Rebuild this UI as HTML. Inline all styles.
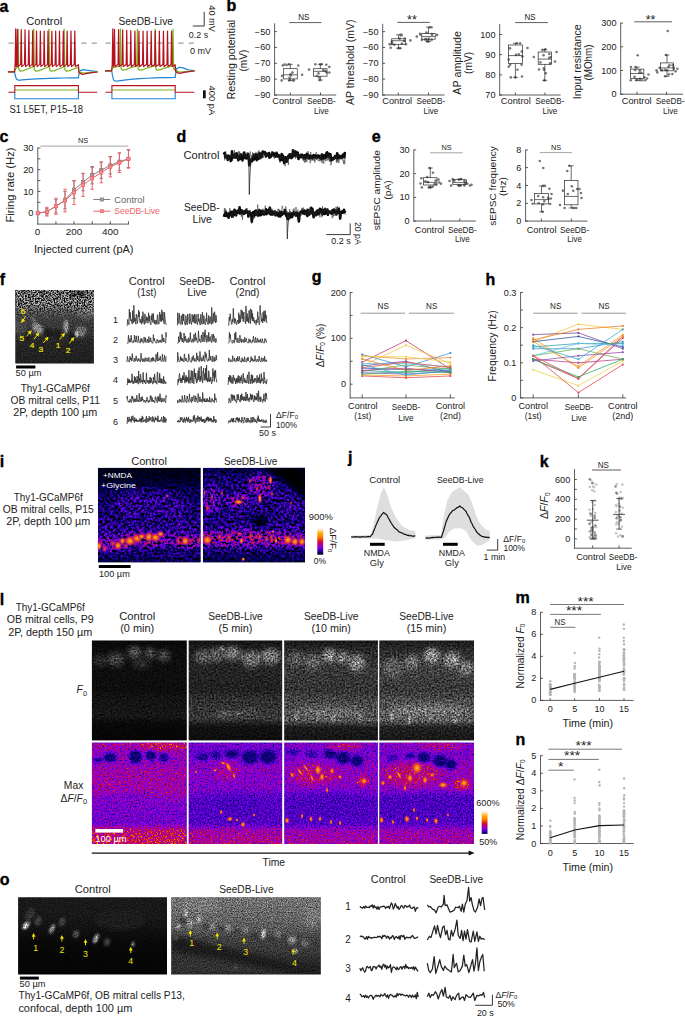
<!DOCTYPE html>
<html><head><meta charset="utf-8"><title>Figure</title>
<style>
html,body{margin:0;padding:0;background:#fff;}
body{width:685px;height:1017px;overflow:hidden;}
svg{display:block;font-family:"Liberation Sans",sans-serif;}
</style></head><body>
<svg width="685" height="1017" viewBox="0 0 685 1017" fill="#222">
<defs>
<filter id="gnF" x="0" y="0" width="1" height="1" color-interpolation-filters="sRGB"><feTurbulence type="fractalNoise" baseFrequency="0.7" numOctaves="2" seed="4" result="n"/><feColorMatrix in="n" type="matrix" values="3 0 0 0 -1  3 0 0 0 -1  3 0 0 0 -1  0 0 0 0 1" result="ng"/><feComposite in="SourceGraphic" in2="ng" operator="arithmetic" k1="2" k2="0" k3="0" k4="0" result="m"/></filter><filter id="gnF2" x="0" y="0" width="1" height="1" color-interpolation-filters="sRGB"><feTurbulence type="fractalNoise" baseFrequency="0.8" numOctaves="2" seed="9" result="n"/><feColorMatrix in="n" type="matrix" values="0.9 0 0 0 0.05  0.9 0 0 0 0.05  0.9 0 0 0 0.05  0 0 0 0 1" result="ng"/><feComposite in="SourceGraphic" in2="ng" operator="arithmetic" k1="2" k2="0" k3="0" k4="0" result="m"/></filter><linearGradient id="mgF" x1="0" y1="0" x2="0" y2="1"><stop offset="0" stop-color="#fff"/><stop offset="0.2" stop-color="#fff"/><stop offset="0.42" stop-color="#000"/></linearGradient><mask id="mF" maskUnits="userSpaceOnUse" x="15" y="289" width="80" height="76"><rect x="15.3" y="290" width="78.6" height="73.6" fill="url(#mgF)"/></mask><filter id="bl1" x="-0.5" y="-0.5" width="2" height="2"><feGaussianBlur stdDeviation="1.2"/></filter><filter id="bl2" x="-0.5" y="-0.5" width="2" height="2"><feGaussianBlur stdDeviation="2.5"/></filter><filter id="bl4" x="-0.5" y="-0.5" width="2" height="2"><feGaussianBlur stdDeviation="4.5"/></filter><clipPath id="clF"><rect x="15.3" y="290" width="78.6" height="73.6"/></clipPath><linearGradient id="grF" x1="0" y1="0" x2="0" y2="1"><stop offset="0" stop-color="#606060"/><stop offset="0.2" stop-color="#626262"/><stop offset="0.3" stop-color="#4c4c4c"/><stop offset="0.42" stop-color="#3c3c3c"/><stop offset="0.6" stop-color="#313131"/><stop offset="0.72" stop-color="#252525"/><stop offset="1" stop-color="#1f1f1f"/></linearGradient><marker id="ah" viewBox="0 0 10 10" refX="7" refY="5" markerWidth="4" markerHeight="4" orient="auto-start-reverse"><path d="M0 0L10 5L0 10z" fill="#f2e300"/></marker>
<filter id="fnI" x="0" y="0" width="1" height="1" color-interpolation-filters="sRGB"><feTurbulence type="fractalNoise" baseFrequency="0.38" numOctaves="3" seed="7" result="n"/><feColorMatrix in="n" type="matrix" values="2.9 0 0 0 -0.98  2.9 0 0 0 -0.98  2.9 0 0 0 -0.98  0 0 0 0 1" result="ng"/><feComposite in="SourceGraphic" in2="ng" operator="arithmetic" k1="2" k2="0" k3="0" k4="0" result="m"/><feComponentTransfer in="m" result="lut"><feFuncR type="table" tableValues="0 0 0 0.1 0.19 0.29 0.38 0.48 0.57 0.64 0.68 0.72 0.76 0.81 0.85 0.9 0.94 0.99 1 1 1 1 1 1 1 1 1 1 1 1 1 1"/><feFuncG type="table" tableValues="0 0 0 0 0 0 0 0 0 0 0 0 0 0.05 0.14 0.22 0.31 0.4 0.46 0.52 0.58 0.63 0.69 0.75 0.8 0.86 0.92 0.97 1 1 1 1"/><feFuncB type="table" tableValues="0 0.24 0.38 0.51 0.65 0.75 0.86 0.89 0.82 0.71 0.59 0.48 0.36 0.25 0.14 0.02 0 0 0 0 0 0 0 0.14 0.38 0.63 0.87 1 1 1 1 1"/></feComponentTransfer></filter><clipPath id="clI1"><rect x="97.9" y="467.8" width="102.8" height="94.6"/></clipPath><clipPath id="clI2"><rect x="202.9" y="467.8" width="102.1" height="94.6"/></clipPath><linearGradient id="grI1" x1="0" y1="0" x2="0" y2="1"><stop offset="0" stop-color="#030303"/><stop offset="0.12" stop-color="#050505"/><stop offset="0.25" stop-color="#0f0f0f"/><stop offset="0.5" stop-color="#161616"/><stop offset="0.66" stop-color="#1c1c1c"/><stop offset="0.73" stop-color="#262626"/><stop offset="0.8" stop-color="#292929"/><stop offset="0.87" stop-color="#171717"/><stop offset="1" stop-color="#0d0d0d"/></linearGradient><linearGradient id="grI2" x1="0" y1="0" x2="0" y2="1"><stop offset="0" stop-color="#0b0b0b"/><stop offset="0.12" stop-color="#141414"/><stop offset="0.3" stop-color="#1a1a1a"/><stop offset="0.55" stop-color="#161616"/><stop offset="0.66" stop-color="#1f1f1f"/><stop offset="0.72" stop-color="#303030"/><stop offset="0.79" stop-color="#333333"/><stop offset="0.87" stop-color="#161616"/><stop offset="1" stop-color="#0b0b0b"/></linearGradient><linearGradient id="cbar" x1="0" y1="1" x2="0" y2="0"><stop offset="0" stop-color="#000000"/><stop offset="0.06" stop-color="#00005d"/><stop offset="0.12" stop-color="#2e00a0"/><stop offset="0.19" stop-color="#5d00d6"/><stop offset="0.25" stop-color="#8c00d6"/><stop offset="0.31" stop-color="#a900a0"/><stop offset="0.38" stop-color="#be0067"/><stop offset="0.44" stop-color="#d4192f"/><stop offset="0.5" stop-color="#ea4402"/><stop offset="0.56" stop-color="#fd6c00"/><stop offset="0.62" stop-color="#ff8a00"/><stop offset="0.69" stop-color="#ffa500"/><stop offset="0.75" stop-color="#ffc132"/><stop offset="0.81" stop-color="#ffddab"/><stop offset="0.88" stop-color="#fff8ff"/><stop offset="0.94" stop-color="#ffffff"/><stop offset="1" stop-color="#ffffff"/></linearGradient><radialGradient id="cellg"><stop offset="0" stop-color="#ffb428"/><stop offset="0.4" stop-color="#f4640f"/><stop offset="0.68" stop-color="#c4206e" stop-opacity="0.85"/><stop offset="1" stop-color="#7a10b4" stop-opacity="0"/></radialGradient><radialGradient id="cellm"><stop offset="0" stop-color="#f0501a"/><stop offset="0.45" stop-color="#c4206e" stop-opacity="0.9"/><stop offset="1" stop-color="#7a10b4" stop-opacity="0"/></radialGradient>
<filter id="gnL" x="0" y="0" width="1" height="1" color-interpolation-filters="sRGB"><feTurbulence type="fractalNoise" baseFrequency="0.55" numOctaves="3" seed="11" result="n"/><feColorMatrix in="n" type="matrix" values="1.3 0 0 0 -0.15  1.3 0 0 0 -0.15  1.3 0 0 0 -0.15  0 0 0 0 1" result="ng"/><feComposite in="SourceGraphic" in2="ng" operator="arithmetic" k1="2" k2="0" k3="0" k4="0" result="m"/></filter><filter id="fnL" x="0" y="0" width="1" height="1" color-interpolation-filters="sRGB"><feTurbulence type="fractalNoise" baseFrequency="0.63" numOctaves="3" seed="13" result="n"/><feColorMatrix in="n" type="matrix" values="1.05 0 0 0 -0.03  1.05 0 0 0 -0.03  1.05 0 0 0 -0.03  0 0 0 0 1" result="ng"/><feComposite in="SourceGraphic" in2="ng" operator="arithmetic" k1="2" k2="0" k3="0" k4="0" result="m"/><feComponentTransfer in="m" result="lut"><feFuncR type="table" tableValues="0 0 0 0.1 0.19 0.29 0.38 0.48 0.57 0.64 0.68 0.72 0.76 0.81 0.85 0.9 0.94 0.99 1 1 1 1 1 1 1 1 1 1 1 1 1 1"/><feFuncG type="table" tableValues="0 0 0 0 0 0 0 0 0 0 0 0 0 0.05 0.14 0.22 0.31 0.4 0.46 0.52 0.58 0.63 0.69 0.75 0.8 0.86 0.92 0.97 1 1 1 1"/><feFuncB type="table" tableValues="0 0.24 0.38 0.51 0.65 0.75 0.86 0.89 0.82 0.71 0.59 0.48 0.36 0.25 0.14 0.02 0 0 0 0 0 0 0 0.14 0.38 0.63 0.87 1 1 1 1 1"/></feComponentTransfer><feGaussianBlur in="lut" stdDeviation="0.45"/></filter><clipPath id="clL0"><rect x="91.8" y="640.4" width="95" height="100"/></clipPath><clipPath id="clM0"><rect x="91.8" y="742.6" width="95" height="101.4"/></clipPath><clipPath id="clL1"><rect x="188.6" y="640.4" width="93.7" height="100"/></clipPath><clipPath id="clM1"><rect x="188.6" y="742.6" width="93.7" height="101.4"/></clipPath><clipPath id="clL2"><rect x="284.2" y="640.4" width="93.7" height="100"/></clipPath><clipPath id="clM2"><rect x="284.2" y="742.6" width="93.7" height="101.4"/></clipPath><clipPath id="clL3"><rect x="379.3" y="640.4" width="94.8" height="100"/></clipPath><clipPath id="clM3"><rect x="379.3" y="742.6" width="94.8" height="101.4"/></clipPath><linearGradient id="grL0" x1="0" y1="0" x2="0" y2="1"><stop offset="0" stop-color="#080808"/><stop offset="0.1" stop-color="#0d0d0d"/><stop offset="0.3" stop-color="#0e0e0e"/><stop offset="0.5" stop-color="#0d0d0d"/><stop offset="0.58" stop-color="#131313"/><stop offset="0.76" stop-color="#161616"/><stop offset="0.83" stop-color="#090909"/><stop offset="1" stop-color="#050505"/></linearGradient><linearGradient id="grL1" x1="0" y1="0" x2="0" y2="1"><stop offset="0" stop-color="#121212"/><stop offset="0.1" stop-color="#1f1f1f"/><stop offset="0.3" stop-color="#242424"/><stop offset="0.5" stop-color="#212121"/><stop offset="0.58" stop-color="#2e2e2e"/><stop offset="0.78" stop-color="#383838"/><stop offset="0.86" stop-color="#121212"/><stop offset="1" stop-color="#0d0d0d"/></linearGradient><linearGradient id="grL2" x1="0" y1="0" x2="0" y2="1"><stop offset="0" stop-color="#171717"/><stop offset="0.1" stop-color="#292929"/><stop offset="0.3" stop-color="#383838"/><stop offset="0.5" stop-color="#333333"/><stop offset="0.6" stop-color="#454545"/><stop offset="0.8" stop-color="#545454"/><stop offset="0.87" stop-color="#1c1c1c"/><stop offset="1" stop-color="#141414"/></linearGradient><linearGradient id="grL3" x1="0" y1="0" x2="0" y2="1"><stop offset="0" stop-color="#1a1a1a"/><stop offset="0.1" stop-color="#2b2b2b"/><stop offset="0.3" stop-color="#404040"/><stop offset="0.5" stop-color="#383838"/><stop offset="0.6" stop-color="#4c4c4c"/><stop offset="0.8" stop-color="#5c5c5c"/><stop offset="0.87" stop-color="#212121"/><stop offset="1" stop-color="#171717"/></linearGradient><linearGradient id="grM0" x1="0" y1="0" x2="0" y2="1"><stop offset="0" stop-color="#525252"/><stop offset="0.08" stop-color="#454545"/><stop offset="0.2" stop-color="#454545"/><stop offset="0.3" stop-color="#4c4c4c"/><stop offset="0.5" stop-color="#4b4b4b"/><stop offset="0.6" stop-color="#3b3b3b"/><stop offset="0.8" stop-color="#373737"/><stop offset="0.86" stop-color="#5c5c5c"/><stop offset="1" stop-color="#696969"/></linearGradient><linearGradient id="grM1" x1="0" y1="0" x2="0" y2="1"><stop offset="0" stop-color="#393939"/><stop offset="0.1" stop-color="#343434"/><stop offset="0.25" stop-color="#414141"/><stop offset="0.45" stop-color="#3c3c3c"/><stop offset="0.55" stop-color="#2d2d2d"/><stop offset="0.8" stop-color="#2d2d2d"/><stop offset="0.87" stop-color="#4c4c4c"/><stop offset="1" stop-color="#575757"/></linearGradient><linearGradient id="grM2" x1="0" y1="0" x2="0" y2="1"><stop offset="0" stop-color="#3e3e3e"/><stop offset="0.1" stop-color="#373737"/><stop offset="0.25" stop-color="#444444"/><stop offset="0.45" stop-color="#3e3e3e"/><stop offset="0.55" stop-color="#2d2d2d"/><stop offset="0.8" stop-color="#2d2d2d"/><stop offset="0.87" stop-color="#474747"/><stop offset="1" stop-color="#4f4f4f"/></linearGradient><linearGradient id="grM3" x1="0" y1="0" x2="0" y2="1"><stop offset="0" stop-color="#414141"/><stop offset="0.1" stop-color="#393939"/><stop offset="0.25" stop-color="#464646"/><stop offset="0.45" stop-color="#414141"/><stop offset="0.55" stop-color="#2a2a2a"/><stop offset="0.8" stop-color="#2d2d2d"/><stop offset="0.87" stop-color="#474747"/><stop offset="1" stop-color="#4f4f4f"/></linearGradient><linearGradient id="cbar2" x1="0" y1="1" x2="0" y2="0"><stop offset="0" stop-color="#000050"/><stop offset="0.08" stop-color="#2c009d"/><stop offset="0.17" stop-color="#6300dc"/><stop offset="0.25" stop-color="#9600c9"/><stop offset="0.33" stop-color="#b20087"/><stop offset="0.42" stop-color="#cc0b46"/><stop offset="0.5" stop-color="#e53904"/><stop offset="0.58" stop-color="#fc6900"/><stop offset="0.67" stop-color="#ff8c00"/><stop offset="0.75" stop-color="#ffab00"/><stop offset="0.83" stop-color="#ffcd63"/><stop offset="0.92" stop-color="#ffede7"/><stop offset="1" stop-color="#ffffff"/></linearGradient><radialGradient id="cello"><stop offset="0" stop-color="#ffc030"/><stop offset="0.4" stop-color="#f66a10"/><stop offset="0.75" stop-color="#d02a60" stop-opacity="0.7"/><stop offset="1" stop-color="#a010a0" stop-opacity="0"/></radialGradient>
<filter id="gnO" x="0" y="0" width="1" height="1" color-interpolation-filters="sRGB"><feTurbulence type="fractalNoise" baseFrequency="0.8" numOctaves="2" seed="21" result="n"/><feColorMatrix in="n" type="matrix" values="1 0 0 0 0  1 0 0 0 0  1 0 0 0 0  0 0 0 0 1" result="ng"/><feComposite in="SourceGraphic" in2="ng" operator="arithmetic" k1="2" k2="0" k3="0" k4="0" result="m"/></filter><clipPath id="clO1"><rect x="18.1" y="897.2" width="148.9" height="77.4"/></clipPath><clipPath id="clO2"><rect x="171.2" y="897.2" width="149.6" height="77.4"/></clipPath><linearGradient id="grO1" x1="0" y1="0" x2="0" y2="1"><stop offset="0" stop-color="#1a1a1a"/><stop offset="0.25" stop-color="#181818"/><stop offset="0.45" stop-color="#0f0f0f"/><stop offset="0.6" stop-color="#080808"/><stop offset="1" stop-color="#040404"/></linearGradient><linearGradient id="grO2" x1="0" y1="0" x2="0" y2="1"><stop offset="0" stop-color="#737373"/><stop offset="0.25" stop-color="#666666"/><stop offset="0.42" stop-color="#575757"/><stop offset="0.52" stop-color="#424242"/><stop offset="0.7" stop-color="#383838"/><stop offset="0.85" stop-color="#262626"/><stop offset="1" stop-color="#1f1f1f"/></linearGradient>
</defs>
<rect width="685" height="1017" fill="#fff"/>
<g id="a"><text stroke="#000" stroke-width="0.35" x="-0.5" y="11.6" font-size="16" font-weight="bold" fill="#000">a</text>
<text x="26.2" y="25" font-size="10" textLength="36" lengthAdjust="spacingAndGlyphs">Control</text>
<text x="118.5" y="25" font-size="10" textLength="54.4" lengthAdjust="spacingAndGlyphs">SeeDB-Live</text>
<line x1="8.4" y1="43.1" x2="97" y2="43.1" stroke="#7a7a7a" stroke-width="0.9" stroke-dasharray="5.3 5.1"/>
<line x1="105.5" y1="43.1" x2="194.5" y2="43.1" stroke="#7a7a7a" stroke-width="0.9" stroke-dasharray="5.3 5.1"/>
<path d="M8.4 71.8 14.6 71.8 15.3 75.8 16.4 79.1 18.8 80.3 21.8 79.9 28.88 79.33 35.95 78.9 43.03 78.57 50.1 78.32 57.18 78.14 64.25 77.99 71.33 77.88 78.4 77.8 78.8 74.8 79.9 70.9 82.9 69.6 86.4 70.2 91.4 70.9 97.2 71.7" fill="none" stroke="#2285d6" stroke-width="1.2" stroke-linejoin="round" stroke-linecap="round"/>
<path d="M8.4 71.8 14.6 71.8 15.6 68.8 17.4 67 18.1 29.2 18.8 69.8 20.3 71.2 23.6 70.6 28.1 68.8 33 67 33.7 29.2 34.4 69.8 35.9 71.2 39.2 70.6 43.7 68.8 48.3 67 49 29.2 49.7 69.8 51.2 71.2 54.5 70.6 59 68.8 63.5 67 64.2 29.2 64.9 69.8 66.4 71.2 69.7 70.6 74.2 68.8 78.4 67.4 79 72.1 83.4 73 97.2 71.8" fill="none" stroke="#7ab51d" stroke-width="1.2" stroke-linejoin="round" stroke-linecap="round"/>
<path d="M8.4 71.8 14.5 71.8 15.15 64.4 15.7 28.9 16.25 66.6 16.85 64.4 17.4 29.25 17.95 66.6 20.68 64.4 21.23 29.6 21.78 66.6 24.5 64.4 25.05 29.95 25.6 66.6 28.33 64.4 28.88 30.3 29.43 66.6 32.16 64.4 32.71 30.65 33.26 66.6 35.98 64.4 36.53 31 37.08 66.6 39.81 64.4 40.36 31 40.91 66.6 43.64 64.4 44.19 31 44.74 66.6 47.46 64.4 48.01 31 48.56 66.6 51.29 64.4 51.84 31 52.39 66.6 55.12 64.4 55.67 31 56.22 66.6 58.94 64.4 59.49 31 60.04 66.6 62.77 64.4 63.32 31 63.87 66.6 66.6 64.4 67.15 31 67.7 66.6 70.42 64.4 70.97 31 71.52 66.6 74.25 64.4 74.8 31 75.35 66.6 78.4 64.7 78.9 72.8 82.4 74.4 87.4 73.4 97.2 72" fill="none" stroke="#b5121f" stroke-width="1.2" stroke-linejoin="round" stroke-linecap="round"/>
<path d="M14.8 92.3 14.8 98.7 78.4 98.7 78.4 92.3" fill="none" stroke="#2285d6" stroke-width="1.1"/>
<line x1="14.8" y1="90" x2="78.4" y2="90" stroke="#7ab51d" stroke-width="1.1"/>
<path d="M8.4 92.3 14.8 92.3 14.8 85.6 78.4 85.6 78.4 92.3 97.2 92.3" fill="none" stroke="#b5121f" stroke-width="1.1"/>
<path d="M105.5 70.8 111.7 70.8 112.4 74.8 113.5 80 115.9 81.2 118.9 80.8 125.94 79.88 132.97 79.18 140.01 78.65 147.05 78.25 154.09 77.94 161.12 77.71 168.16 77.53 175.2 77.4 175.6 74.4 176.7 68.6 179.7 67.3 183.2 67.9 188.2 69.9 194.2 70.7" fill="none" stroke="#2285d6" stroke-width="1.2" stroke-linejoin="round" stroke-linecap="round"/>
<path d="M105.5 70.8 111.7 70.8 112.7 67.8 119.7 66 120.4 29.2 121.1 68.8 122.6 70.2 125.9 69.6 130.4 67.8 136.7 66 137.4 29.2 138.1 68.8 139.6 70.2 142.9 69.6 147.4 67.8 154.4 66 155.1 29.2 155.8 68.8 157.3 70.2 160.6 69.6 165.1 67.8 172.3 66 173 29.2 173.7 68.8 175.2 70.2 175.2 66.4 175.8 71.1 180.2 72 194.2 70.8" fill="none" stroke="#7ab51d" stroke-width="1.2" stroke-linejoin="round" stroke-linecap="round"/>
<path d="M105.5 70.8 111.6 70.8 112.25 64.4 112.8 28.9 113.35 66.6 113.95 64.4 114.5 29.25 115.05 66.6 118.03 64.4 118.58 29.6 119.13 66.6 122.11 64.4 122.66 29.95 123.21 66.6 126.19 64.4 126.74 30.3 127.29 66.6 130.26 64.4 130.81 30.65 131.36 66.6 134.34 64.4 134.89 31 135.44 66.6 138.42 64.4 138.97 31 139.52 66.6 142.5 64.4 143.05 31 143.6 66.6 146.58 64.4 147.13 31 147.68 66.6 150.66 64.4 151.21 31 151.76 66.6 154.74 64.4 155.29 31 155.84 66.6 158.81 64.4 159.36 31 159.91 66.6 162.89 64.4 163.44 31 163.99 66.6 166.97 64.4 167.52 31 168.07 66.6 171.05 64.4 171.6 31 172.15 66.6 175.2 64.7 175.7 71.8 179.2 73.4 184.2 72.4 194.2 71" fill="none" stroke="#b5121f" stroke-width="1.2" stroke-linejoin="round" stroke-linecap="round"/>
<path d="M111.9 92.3 111.9 98.7 175.2 98.7 175.2 92.3" fill="none" stroke="#2285d6" stroke-width="1.1"/>
<line x1="111.9" y1="90" x2="175.2" y2="90" stroke="#7ab51d" stroke-width="1.1"/>
<path d="M105.5 92.3 111.9 92.3 111.9 85.6 175.2 85.6 175.2 92.3 194.2 92.3" fill="none" stroke="#b5121f" stroke-width="1.1"/>
<text x="9.4" y="112.6" font-size="10" textLength="73.5" lengthAdjust="spacingAndGlyphs">S1 L5ET, P15–18</text>
<path d="M192.8 26 204.2 26 204.2 11.8" fill="none" stroke="#222" stroke-width="0.9"/>
<text font-size="9.4" textLength="26.6" lengthAdjust="spacingAndGlyphs" transform="translate(208.9 5.3) rotate(90)">40 mV</text>
<text x="188.8" y="37.7" font-size="9.3" textLength="19.3" lengthAdjust="spacingAndGlyphs">0.2 s</text>
<text x="190" y="53.8" font-size="9.3" textLength="21" lengthAdjust="spacingAndGlyphs">0 mV</text>
<rect x="203" y="90.3" width="2.7" height="8" fill="#111"/>
<text font-size="9.4" textLength="29.5" lengthAdjust="spacingAndGlyphs" transform="translate(208.9 85.6) rotate(90)">400 pA</text></g>
<g id="b"><text stroke="#000" stroke-width="0.35" x="226.6" y="11" font-size="16" font-weight="bold" fill="#000">b</text>
<line x1="274.6" y1="23.3" x2="274.6" y2="95.4" stroke="#333" stroke-width="0.8"/>
<line x1="274.6" y1="31.6" x2="277" y2="31.6" stroke="#333" stroke-width="0.8"/>
<text x="270.4" y="34.62" font-size="8.4" text-anchor="end" textLength="15.53" lengthAdjust="spacingAndGlyphs">−50</text>
<line x1="274.6" y1="47.45" x2="277" y2="47.45" stroke="#333" stroke-width="0.8"/>
<text x="270.4" y="50.47" font-size="8.4" text-anchor="end" textLength="15.53" lengthAdjust="spacingAndGlyphs">−60</text>
<line x1="274.6" y1="63.3" x2="277" y2="63.3" stroke="#333" stroke-width="0.8"/>
<text x="270.4" y="66.32" font-size="8.4" text-anchor="end" textLength="15.53" lengthAdjust="spacingAndGlyphs">−70</text>
<line x1="274.6" y1="79.15" x2="277" y2="79.15" stroke="#333" stroke-width="0.8"/>
<text x="270.4" y="82.17" font-size="8.4" text-anchor="end" textLength="15.53" lengthAdjust="spacingAndGlyphs">−80</text>
<line x1="274.6" y1="95" x2="277" y2="95" stroke="#333" stroke-width="0.8"/>
<text x="270.4" y="98.02" font-size="8.4" text-anchor="end" textLength="15.53" lengthAdjust="spacingAndGlyphs">−90</text>
<line x1="274.2" y1="95" x2="336.2" y2="95" stroke="#333" stroke-width="0.8"/>
<line x1="290.3" y1="95" x2="290.3" y2="92.5" stroke="#333" stroke-width="0.8"/>
<line x1="320.5" y1="95" x2="320.5" y2="92.5" stroke="#333" stroke-width="0.8"/>
<text font-size="10.3" text-anchor="middle" textLength="79.7" lengthAdjust="spacingAndGlyphs" transform="translate(235.3 59.6) rotate(-90)">Resting potential</text>
<text font-size="10.3" text-anchor="middle" textLength="21.8" lengthAdjust="spacingAndGlyphs" transform="translate(246.6 60.6) rotate(-90)">(mV)</text>
<g fill="#777"><circle cx="298.26" cy="65.44" r="1.3"/><circle cx="289.66" cy="77.69" r="1.3"/><circle cx="284.38" cy="64.63" r="1.3"/><circle cx="290.52" cy="74.3" r="1.3"/><circle cx="282.68" cy="65.5" r="1.3"/><circle cx="286.61" cy="64.91" r="1.3"/><circle cx="293.93" cy="80.4" r="1.3"/><circle cx="281.7" cy="80.4" r="1.3"/><circle cx="293.19" cy="80.4" r="1.3"/><circle cx="292.47" cy="72.59" r="1.3"/><circle cx="290.83" cy="75.53" r="1.3"/><circle cx="282.03" cy="75.91" r="1.3"/><circle cx="289.06" cy="64.3" r="1.3"/><circle cx="289.27" cy="80.4" r="1.3"/><circle cx="302.1" cy="74.8" r="1.3"/></g>
<rect x="283.35" y="68.7" width="13.9" height="10.2" fill="none" stroke="#2a2a2a" stroke-width="0.7"/>
<line x1="283.35" y1="74.8" x2="297.25" y2="74.8" stroke="#2a2a2a" stroke-width="0.7"/>
<line x1="290.3" y1="68.7" x2="290.3" y2="64.3" stroke="#2a2a2a" stroke-width="0.7"/>
<line x1="290.3" y1="78.9" x2="290.3" y2="80.4" stroke="#2a2a2a" stroke-width="0.7"/>
<line x1="287.9" y1="64.3" x2="292.7" y2="64.3" stroke="#2a2a2a" stroke-width="0.7"/>
<line x1="287.9" y1="80.4" x2="292.7" y2="80.4" stroke="#2a2a2a" stroke-width="0.7"/>
<g fill="#777"><circle cx="319.22" cy="77.47" r="1.3"/><circle cx="326.54" cy="72.48" r="1.3"/><circle cx="320.3" cy="64.3" r="1.3"/><circle cx="323.26" cy="70.34" r="1.3"/><circle cx="329.37" cy="66.92" r="1.3"/><circle cx="329.33" cy="72.5" r="1.3"/><circle cx="316.93" cy="76.04" r="1.3"/><circle cx="315.37" cy="64.3" r="1.3"/><circle cx="325.15" cy="70.78" r="1.3"/><circle cx="318.48" cy="73.38" r="1.3"/><circle cx="321.69" cy="64.3" r="1.3"/><circle cx="319.85" cy="80.1" r="1.3"/><circle cx="309.1" cy="69.6" r="1.3"/><circle cx="326.3" cy="64.7" r="1.3"/></g>
<rect x="313.55" y="68.7" width="13.5" height="7.5" fill="none" stroke="#2a2a2a" stroke-width="0.7"/>
<line x1="313.55" y1="71.3" x2="327.05" y2="71.3" stroke="#2a2a2a" stroke-width="0.7"/>
<line x1="320.3" y1="68.7" x2="320.3" y2="64.3" stroke="#2a2a2a" stroke-width="0.7"/>
<line x1="320.3" y1="76.2" x2="320.3" y2="80.1" stroke="#2a2a2a" stroke-width="0.7"/>
<line x1="317.9" y1="64.3" x2="322.7" y2="64.3" stroke="#2a2a2a" stroke-width="0.7"/>
<line x1="317.9" y1="80.1" x2="322.7" y2="80.1" stroke="#2a2a2a" stroke-width="0.7"/>
<line x1="289.3" y1="22.6" x2="321.4" y2="22.6" stroke="#333" stroke-width="0.8"/>
<text x="303.8" y="19.6" font-size="8.2" text-anchor="middle" textLength="11.2" lengthAdjust="spacingAndGlyphs">NS</text>
<text x="287.2" y="104.4" font-size="9.3" text-anchor="middle" textLength="29.9" lengthAdjust="spacingAndGlyphs">Control</text>
<text x="321.4" y="104.4" font-size="9.3" text-anchor="middle" textLength="28.9" lengthAdjust="spacingAndGlyphs">SeeDB-</text>
<text x="321.4" y="114.2" font-size="9.3" text-anchor="middle" textLength="14.8" lengthAdjust="spacingAndGlyphs">Live</text>
<line x1="382.7" y1="23.8" x2="382.7" y2="95.4" stroke="#333" stroke-width="0.8"/>
<line x1="382.7" y1="31.6" x2="385.1" y2="31.6" stroke="#333" stroke-width="0.8"/>
<text x="378.5" y="34.62" font-size="8.4" text-anchor="end" textLength="15.53" lengthAdjust="spacingAndGlyphs">−50</text>
<line x1="382.7" y1="47.45" x2="385.1" y2="47.45" stroke="#333" stroke-width="0.8"/>
<text x="378.5" y="50.47" font-size="8.4" text-anchor="end" textLength="15.53" lengthAdjust="spacingAndGlyphs">−60</text>
<line x1="382.7" y1="63.3" x2="385.1" y2="63.3" stroke="#333" stroke-width="0.8"/>
<text x="378.5" y="66.32" font-size="8.4" text-anchor="end" textLength="15.53" lengthAdjust="spacingAndGlyphs">−70</text>
<line x1="382.7" y1="79.15" x2="385.1" y2="79.15" stroke="#333" stroke-width="0.8"/>
<text x="378.5" y="82.17" font-size="8.4" text-anchor="end" textLength="15.53" lengthAdjust="spacingAndGlyphs">−80</text>
<line x1="382.7" y1="95" x2="385.1" y2="95" stroke="#333" stroke-width="0.8"/>
<text x="378.5" y="98.02" font-size="8.4" text-anchor="end" textLength="15.53" lengthAdjust="spacingAndGlyphs">−90</text>
<line x1="382.3" y1="95" x2="444.5" y2="95" stroke="#333" stroke-width="0.8"/>
<line x1="398.3" y1="95" x2="398.3" y2="92.5" stroke="#333" stroke-width="0.8"/>
<line x1="428.5" y1="95" x2="428.5" y2="92.5" stroke="#333" stroke-width="0.8"/>
<text font-size="10.3" text-anchor="middle" textLength="85.4" lengthAdjust="spacingAndGlyphs" transform="translate(354.4 62.2) rotate(-90)">AP threshold (mV)</text>
<g fill="#777"><circle cx="401.56" cy="34.8" r="1.3"/><circle cx="391.94" cy="41.66" r="1.3"/><circle cx="394.35" cy="44.69" r="1.3"/><circle cx="404.2" cy="40.97" r="1.3"/><circle cx="399.57" cy="38.66" r="1.3"/><circle cx="401.46" cy="35.49" r="1.3"/><circle cx="392.3" cy="43.42" r="1.3"/><circle cx="405.95" cy="44.22" r="1.3"/><circle cx="390.69" cy="47.81" r="1.3"/><circle cx="401.93" cy="43.45" r="1.3"/><circle cx="404.79" cy="38.52" r="1.3"/><circle cx="389.66" cy="44.29" r="1.3"/><circle cx="398.66" cy="48.2" r="1.3"/><circle cx="390.99" cy="44.11" r="1.3"/><circle cx="400.45" cy="34.8" r="1.3"/><circle cx="400.29" cy="48.2" r="1.3"/><circle cx="410.4" cy="40.4" r="1.3"/></g>
<rect x="391.7" y="38.8" width="13.6" height="5.5" fill="none" stroke="#2a2a2a" stroke-width="0.7"/>
<line x1="391.7" y1="40.7" x2="405.3" y2="40.7" stroke="#2a2a2a" stroke-width="0.7"/>
<line x1="398.5" y1="38.8" x2="398.5" y2="34.8" stroke="#2a2a2a" stroke-width="0.7"/>
<line x1="398.5" y1="44.3" x2="398.5" y2="48.2" stroke="#2a2a2a" stroke-width="0.7"/>
<line x1="396.1" y1="34.8" x2="400.9" y2="34.8" stroke="#2a2a2a" stroke-width="0.7"/>
<line x1="396.1" y1="48.2" x2="400.9" y2="48.2" stroke="#2a2a2a" stroke-width="0.7"/>
<g fill="#777"><circle cx="421.9" cy="40.07" r="1.3"/><circle cx="425.11" cy="39.56" r="1.3"/><circle cx="432.06" cy="34.72" r="1.3"/><circle cx="420.38" cy="34.8" r="1.3"/><circle cx="426.7" cy="40.4" r="1.3"/><circle cx="427.03" cy="41.4" r="1.3"/><circle cx="426.41" cy="32.52" r="1.3"/><circle cx="420.01" cy="33.79" r="1.3"/><circle cx="437.12" cy="34.91" r="1.3"/><circle cx="431.46" cy="27.2" r="1.3"/><circle cx="431.94" cy="34.04" r="1.3"/><circle cx="431.64" cy="39.84" r="1.3"/><circle cx="426.03" cy="39" r="1.3"/><circle cx="428.71" cy="38.69" r="1.3"/><circle cx="429.74" cy="27.2" r="1.3"/><circle cx="428.5" cy="41.4" r="1.3"/><circle cx="416.8" cy="36.6" r="1.3"/></g>
<rect x="421.8" y="33.4" width="13.4" height="5.8" fill="none" stroke="#2a2a2a" stroke-width="0.7"/>
<line x1="421.8" y1="36.6" x2="435.2" y2="36.6" stroke="#2a2a2a" stroke-width="0.7"/>
<line x1="428.5" y1="33.4" x2="428.5" y2="27.2" stroke="#2a2a2a" stroke-width="0.7"/>
<line x1="428.5" y1="39.2" x2="428.5" y2="41.4" stroke="#2a2a2a" stroke-width="0.7"/>
<line x1="426.1" y1="27.2" x2="430.9" y2="27.2" stroke="#2a2a2a" stroke-width="0.7"/>
<line x1="426.1" y1="41.4" x2="430.9" y2="41.4" stroke="#2a2a2a" stroke-width="0.7"/>
<line x1="397.3" y1="22.4" x2="429.7" y2="22.4" stroke="#333" stroke-width="0.8"/>
<text x="411.9" y="24.3" font-size="12.5" text-anchor="middle" textLength="9.8" lengthAdjust="spacingAndGlyphs">**</text>
<text x="397.2" y="104.4" font-size="9.3" text-anchor="middle" textLength="29.9" lengthAdjust="spacingAndGlyphs">Control</text>
<text x="430.9" y="104.4" font-size="9.3" text-anchor="middle" textLength="28.9" lengthAdjust="spacingAndGlyphs">SeeDB-</text>
<text x="430.9" y="114.2" font-size="9.3" text-anchor="middle" textLength="14.8" lengthAdjust="spacingAndGlyphs">Live</text>
<line x1="499.7" y1="24.1" x2="499.7" y2="95.4" stroke="#333" stroke-width="0.8"/>
<line x1="499.7" y1="34.5" x2="502.1" y2="34.5" stroke="#333" stroke-width="0.8"/>
<text x="495.5" y="37.52" font-size="8.4" text-anchor="end" textLength="15.27" lengthAdjust="spacingAndGlyphs">100</text>
<line x1="499.7" y1="54.7" x2="502.1" y2="54.7" stroke="#333" stroke-width="0.8"/>
<text x="495.5" y="57.72" font-size="8.4" text-anchor="end" textLength="10.18" lengthAdjust="spacingAndGlyphs">90</text>
<line x1="499.7" y1="74.85" x2="502.1" y2="74.85" stroke="#333" stroke-width="0.8"/>
<text x="495.5" y="77.87" font-size="8.4" text-anchor="end" textLength="10.18" lengthAdjust="spacingAndGlyphs">80</text>
<line x1="499.7" y1="95" x2="502.1" y2="95" stroke="#333" stroke-width="0.8"/>
<text x="495.5" y="98.02" font-size="8.4" text-anchor="end" textLength="10.18" lengthAdjust="spacingAndGlyphs">70</text>
<line x1="499.3" y1="95" x2="560.6" y2="95" stroke="#333" stroke-width="0.8"/>
<line x1="515.4" y1="95" x2="515.4" y2="92.5" stroke="#333" stroke-width="0.8"/>
<line x1="544.9" y1="95" x2="544.9" y2="92.5" stroke="#333" stroke-width="0.8"/>
<text font-size="10.3" text-anchor="middle" textLength="63.5" lengthAdjust="spacingAndGlyphs" transform="translate(461 62.9) rotate(-90)">AP amplitude</text>
<text font-size="10.3" text-anchor="middle" textLength="22.1" lengthAdjust="spacingAndGlyphs" transform="translate(471.8 62.9) rotate(-90)">(mV)</text>
<g fill="#777"><circle cx="518.88" cy="54.41" r="1.3"/><circle cx="522" cy="76.55" r="1.3"/><circle cx="508.73" cy="59.53" r="1.3"/><circle cx="510.21" cy="64.79" r="1.3"/><circle cx="515.99" cy="54.87" r="1.3"/><circle cx="509.99" cy="48.35" r="1.3"/><circle cx="521.78" cy="51.54" r="1.3"/><circle cx="517.45" cy="69.69" r="1.3"/><circle cx="508.72" cy="66.64" r="1.3"/><circle cx="522.42" cy="56.6" r="1.3"/><circle cx="521.57" cy="64.76" r="1.3"/><circle cx="520.03" cy="43.3" r="1.3"/><circle cx="510.8" cy="77.4" r="1.3"/><circle cx="516.8" cy="43.3" r="1.3"/><circle cx="515.35" cy="77.4" r="1.3"/><circle cx="527.5" cy="48" r="1.3"/></g>
<rect x="508.4" y="45" width="14" height="18.4" fill="none" stroke="#2a2a2a" stroke-width="0.7"/>
<line x1="508.4" y1="55.6" x2="522.4" y2="55.6" stroke="#2a2a2a" stroke-width="0.7"/>
<line x1="515.4" y1="45" x2="515.4" y2="43.3" stroke="#2a2a2a" stroke-width="0.7"/>
<line x1="515.4" y1="63.4" x2="515.4" y2="77.4" stroke="#2a2a2a" stroke-width="0.7"/>
<line x1="513" y1="43.3" x2="517.8" y2="43.3" stroke="#2a2a2a" stroke-width="0.7"/>
<line x1="513" y1="77.4" x2="517.8" y2="77.4" stroke="#2a2a2a" stroke-width="0.7"/>
<g fill="#777"><circle cx="549.34" cy="53.97" r="1.3"/><circle cx="542.38" cy="50.11" r="1.3"/><circle cx="543.55" cy="55.27" r="1.3"/><circle cx="550.5" cy="57.3" r="1.3"/><circle cx="550.11" cy="63.34" r="1.3"/><circle cx="545.77" cy="73.18" r="1.3"/><circle cx="549.23" cy="57.83" r="1.3"/><circle cx="543.79" cy="68.28" r="1.3"/><circle cx="539.04" cy="69.49" r="1.3"/><circle cx="540.4" cy="62.39" r="1.3"/><circle cx="544.08" cy="69.83" r="1.3"/><circle cx="545.22" cy="49.4" r="1.3"/><circle cx="544.38" cy="80.4" r="1.3"/><circle cx="533.8" cy="57" r="1.3"/><circle cx="556.5" cy="52" r="1.3"/><circle cx="555" cy="61.5" r="1.3"/></g>
<rect x="538.2" y="52" width="13.2" height="12.3" fill="none" stroke="#2a2a2a" stroke-width="0.7"/>
<line x1="538.2" y1="59.1" x2="551.4" y2="59.1" stroke="#2a2a2a" stroke-width="0.7"/>
<line x1="544.8" y1="52" x2="544.8" y2="49.4" stroke="#2a2a2a" stroke-width="0.7"/>
<line x1="544.8" y1="64.3" x2="544.8" y2="80.4" stroke="#2a2a2a" stroke-width="0.7"/>
<line x1="542.4" y1="49.4" x2="547.2" y2="49.4" stroke="#2a2a2a" stroke-width="0.7"/>
<line x1="542.4" y1="80.4" x2="547.2" y2="80.4" stroke="#2a2a2a" stroke-width="0.7"/>
<line x1="515.1" y1="22.6" x2="547.9" y2="22.6" stroke="#333" stroke-width="0.8"/>
<text x="530" y="19.6" font-size="8.2" text-anchor="middle" textLength="11.2" lengthAdjust="spacingAndGlyphs">NS</text>
<text x="515.8" y="104.4" font-size="9.3" text-anchor="middle" textLength="29.9" lengthAdjust="spacingAndGlyphs">Control</text>
<text x="549.8" y="104.4" font-size="9.3" text-anchor="middle" textLength="28.9" lengthAdjust="spacingAndGlyphs">SeeDB-</text>
<text x="549.8" y="114.2" font-size="9.3" text-anchor="middle" textLength="14.8" lengthAdjust="spacingAndGlyphs">Live</text>
<line x1="620.7" y1="22.7" x2="620.7" y2="94.6" stroke="#333" stroke-width="0.8"/>
<line x1="620.7" y1="23.1" x2="623.1" y2="23.1" stroke="#333" stroke-width="0.8"/>
<text x="616.5" y="26.12" font-size="8.4" text-anchor="end" textLength="15.27" lengthAdjust="spacingAndGlyphs">300</text>
<line x1="620.7" y1="46.8" x2="623.1" y2="46.8" stroke="#333" stroke-width="0.8"/>
<text x="616.5" y="49.82" font-size="8.4" text-anchor="end" textLength="15.27" lengthAdjust="spacingAndGlyphs">200</text>
<line x1="620.7" y1="70.5" x2="623.1" y2="70.5" stroke="#333" stroke-width="0.8"/>
<text x="616.5" y="73.52" font-size="8.4" text-anchor="end" textLength="15.27" lengthAdjust="spacingAndGlyphs">100</text>
<line x1="620.7" y1="94.2" x2="623.1" y2="94.2" stroke="#333" stroke-width="0.8"/>
<text x="616.5" y="97.22" font-size="8.4" text-anchor="end" textLength="5.09" lengthAdjust="spacingAndGlyphs">0</text>
<line x1="620.3" y1="94.2" x2="683" y2="94.2" stroke="#333" stroke-width="0.8"/>
<line x1="637.1" y1="94.2" x2="637.1" y2="91.7" stroke="#333" stroke-width="0.8"/>
<line x1="666.5" y1="94.2" x2="666.5" y2="91.7" stroke="#333" stroke-width="0.8"/>
<text font-size="10.3" text-anchor="middle" textLength="75" lengthAdjust="spacingAndGlyphs" transform="translate(581.2 61.8) rotate(-90)">Input resistance</text>
<text font-size="10.3" text-anchor="middle" textLength="36.1" lengthAdjust="spacingAndGlyphs" transform="translate(592.2 62.5) rotate(-90)">(MOhm)</text>
<g fill="#777"><circle cx="639.87" cy="80.2" r="1.3"/><circle cx="645.13" cy="80.2" r="1.3"/><circle cx="641.37" cy="72.78" r="1.3"/><circle cx="639.99" cy="78.87" r="1.3"/><circle cx="635.22" cy="70" r="1.3"/><circle cx="642.16" cy="80.2" r="1.3"/><circle cx="644.42" cy="77.19" r="1.3"/><circle cx="634.51" cy="76.89" r="1.3"/><circle cx="639.5" cy="72.67" r="1.3"/><circle cx="630.72" cy="80.2" r="1.3"/><circle cx="630.99" cy="67.1" r="1.3"/><circle cx="639.86" cy="70.2" r="1.3"/><circle cx="635.59" cy="67.1" r="1.3"/><circle cx="636.45" cy="80.2" r="1.3"/><circle cx="637.7" cy="55.3" r="1.3"/><circle cx="648.5" cy="74.5" r="1.3"/><circle cx="647" cy="78.5" r="1.3"/></g>
<rect x="630.35" y="69.1" width="13.5" height="9.4" fill="none" stroke="#2a2a2a" stroke-width="0.7"/>
<line x1="630.35" y1="73.5" x2="643.85" y2="73.5" stroke="#2a2a2a" stroke-width="0.7"/>
<line x1="637.1" y1="69.1" x2="637.1" y2="67.1" stroke="#2a2a2a" stroke-width="0.7"/>
<line x1="637.1" y1="78.5" x2="637.1" y2="80.2" stroke="#2a2a2a" stroke-width="0.7"/>
<line x1="634.7" y1="67.1" x2="639.5" y2="67.1" stroke="#2a2a2a" stroke-width="0.7"/>
<line x1="634.7" y1="80.2" x2="639.5" y2="80.2" stroke="#2a2a2a" stroke-width="0.7"/>
<g fill="#777"><circle cx="675.58" cy="71.37" r="1.3"/><circle cx="665.27" cy="69.9" r="1.3"/><circle cx="668.93" cy="74.26" r="1.3"/><circle cx="673.69" cy="67.52" r="1.3"/><circle cx="668.6" cy="66.79" r="1.3"/><circle cx="669.4" cy="65.24" r="1.3"/><circle cx="673.73" cy="69.01" r="1.3"/><circle cx="667.25" cy="70.3" r="1.3"/><circle cx="661.94" cy="70.15" r="1.3"/><circle cx="672.35" cy="74" r="1.3"/><circle cx="672.71" cy="65.15" r="1.3"/><circle cx="659.63" cy="67.89" r="1.3"/><circle cx="666.12" cy="55" r="1.3"/><circle cx="665.11" cy="76.3" r="1.3"/><circle cx="667.7" cy="31" r="1.3"/><circle cx="677.4" cy="68.8" r="1.3"/><circle cx="656.5" cy="70.4" r="1.3"/><circle cx="657.3" cy="72.4" r="1.3"/></g>
<rect x="660.35" y="62.9" width="13.3" height="7.9" fill="none" stroke="#2a2a2a" stroke-width="0.7"/>
<line x1="660.35" y1="67.9" x2="673.65" y2="67.9" stroke="#2a2a2a" stroke-width="0.7"/>
<line x1="667" y1="62.9" x2="667" y2="55" stroke="#2a2a2a" stroke-width="0.7"/>
<line x1="667" y1="70.8" x2="667" y2="76.3" stroke="#2a2a2a" stroke-width="0.7"/>
<line x1="664.6" y1="55" x2="669.4" y2="55" stroke="#2a2a2a" stroke-width="0.7"/>
<line x1="664.6" y1="76.3" x2="669.4" y2="76.3" stroke="#2a2a2a" stroke-width="0.7"/>
<line x1="634.3" y1="21.8" x2="671.9" y2="21.8" stroke="#333" stroke-width="0.8"/>
<text x="650.6" y="23.7" font-size="12.5" text-anchor="middle" textLength="9.8" lengthAdjust="spacingAndGlyphs">**</text>
<text x="636.7" y="104.4" font-size="9.3" text-anchor="middle" textLength="29.9" lengthAdjust="spacingAndGlyphs">Control</text>
<text x="670.3" y="104.4" font-size="9.3" text-anchor="middle" textLength="28.9" lengthAdjust="spacingAndGlyphs">SeeDB-</text>
<text x="670.3" y="114.2" font-size="9.3" text-anchor="middle" textLength="14.8" lengthAdjust="spacingAndGlyphs">Live</text></g>
<g id="c"><text stroke="#000" stroke-width="0.35" x="-0.5" y="141.9" font-size="16" font-weight="bold" fill="#000">c</text>
<line x1="37.8" y1="147.5" x2="37.8" y2="224.5" stroke="#333" stroke-width="0.8"/>
<line x1="37.8" y1="213.2" x2="40.4" y2="213.2" stroke="#333" stroke-width="0.8"/>
<text x="33.6" y="216.3" font-size="8.6" text-anchor="end" textLength="5.21" lengthAdjust="spacingAndGlyphs">0</text>
<line x1="37.8" y1="202.32" x2="40.4" y2="202.32" stroke="#333" stroke-width="0.8"/>
<line x1="37.8" y1="191.45" x2="40.4" y2="191.45" stroke="#333" stroke-width="0.8"/>
<text x="33.6" y="194.55" font-size="8.6" text-anchor="end" textLength="10.43" lengthAdjust="spacingAndGlyphs">10</text>
<line x1="37.8" y1="180.57" x2="40.4" y2="180.57" stroke="#333" stroke-width="0.8"/>
<line x1="37.8" y1="169.7" x2="40.4" y2="169.7" stroke="#333" stroke-width="0.8"/>
<text x="33.6" y="172.8" font-size="8.6" text-anchor="end" textLength="10.43" lengthAdjust="spacingAndGlyphs">20</text>
<line x1="37.8" y1="158.82" x2="40.4" y2="158.82" stroke="#333" stroke-width="0.8"/>
<line x1="37.8" y1="147.95" x2="40.4" y2="147.95" stroke="#333" stroke-width="0.8"/>
<text x="33.6" y="151.05" font-size="8.6" text-anchor="end" textLength="10.43" lengthAdjust="spacingAndGlyphs">30</text>
<line x1="37.4" y1="224.1" x2="128.9" y2="224.1" stroke="#333" stroke-width="0.8"/>
<text x="37.4" y="235.2" font-size="8.6" text-anchor="middle" textLength="5.5" lengthAdjust="spacingAndGlyphs">0</text>
<line x1="55.93" y1="224.1" x2="55.93" y2="221.2" stroke="#333" stroke-width="0.8"/>
<line x1="74.06" y1="224.1" x2="74.06" y2="221.2" stroke="#333" stroke-width="0.8"/>
<text x="74.06" y="235.2" font-size="8.6" text-anchor="middle" textLength="16.5" lengthAdjust="spacingAndGlyphs">200</text>
<line x1="92.19" y1="224.1" x2="92.19" y2="221.2" stroke="#333" stroke-width="0.8"/>
<line x1="110.32" y1="224.1" x2="110.32" y2="221.2" stroke="#333" stroke-width="0.8"/>
<text x="110.32" y="235.2" font-size="8.6" text-anchor="middle" textLength="16.5" lengthAdjust="spacingAndGlyphs">400</text>
<line x1="128.45" y1="224.1" x2="128.45" y2="221.2" stroke="#333" stroke-width="0.8"/>
<text x="83.8" y="253.3" font-size="10.5" text-anchor="middle" textLength="99.5" lengthAdjust="spacingAndGlyphs">Injected current (pA)</text>
<text font-size="10.3" text-anchor="middle" textLength="75" lengthAdjust="spacingAndGlyphs" transform="translate(14 185) rotate(-90)">Firing rate (Hz)</text>
<line x1="40.4" y1="146.1" x2="128.3" y2="146.1" stroke="#9a9a9a" stroke-width="0.9"/>
<text x="83" y="142.8" font-size="7.7" text-anchor="middle" textLength="10.2" lengthAdjust="spacingAndGlyphs">NS</text>
<line x1="46.86" y1="208.41" x2="46.86" y2="214.94" stroke="#747474" stroke-width="0.9"/>
<line x1="45.16" y1="208.41" x2="48.56" y2="208.41" stroke="#747474" stroke-width="0.9"/>
<line x1="45.16" y1="214.94" x2="48.56" y2="214.94" stroke="#747474" stroke-width="0.9"/>
<line x1="55.93" y1="199.71" x2="55.93" y2="212.76" stroke="#747474" stroke-width="0.9"/>
<line x1="54.23" y1="199.71" x2="57.63" y2="199.71" stroke="#747474" stroke-width="0.9"/>
<line x1="54.23" y1="212.76" x2="57.63" y2="212.76" stroke="#747474" stroke-width="0.9"/>
<line x1="64.99" y1="191.45" x2="64.99" y2="208.85" stroke="#747474" stroke-width="0.9"/>
<line x1="63.29" y1="191.45" x2="66.69" y2="191.45" stroke="#747474" stroke-width="0.9"/>
<line x1="63.29" y1="208.85" x2="66.69" y2="208.85" stroke="#747474" stroke-width="0.9"/>
<line x1="74.06" y1="181.01" x2="74.06" y2="198.41" stroke="#747474" stroke-width="0.9"/>
<line x1="72.36" y1="181.01" x2="75.76" y2="181.01" stroke="#747474" stroke-width="0.9"/>
<line x1="72.36" y1="198.41" x2="75.76" y2="198.41" stroke="#747474" stroke-width="0.9"/>
<line x1="83.12" y1="173.4" x2="83.12" y2="190.8" stroke="#747474" stroke-width="0.9"/>
<line x1="81.42" y1="173.4" x2="84.83" y2="173.4" stroke="#747474" stroke-width="0.9"/>
<line x1="81.42" y1="190.8" x2="84.83" y2="190.8" stroke="#747474" stroke-width="0.9"/>
<line x1="92.19" y1="166.44" x2="92.19" y2="183.84" stroke="#747474" stroke-width="0.9"/>
<line x1="90.49" y1="166.44" x2="93.89" y2="166.44" stroke="#747474" stroke-width="0.9"/>
<line x1="90.49" y1="183.84" x2="93.89" y2="183.84" stroke="#747474" stroke-width="0.9"/>
<line x1="101.25" y1="161.87" x2="101.25" y2="178.4" stroke="#747474" stroke-width="0.9"/>
<line x1="99.55" y1="161.87" x2="102.95" y2="161.87" stroke="#747474" stroke-width="0.9"/>
<line x1="99.55" y1="178.4" x2="102.95" y2="178.4" stroke="#747474" stroke-width="0.9"/>
<line x1="110.32" y1="156.65" x2="110.32" y2="174.05" stroke="#747474" stroke-width="0.9"/>
<line x1="108.62" y1="156.65" x2="112.02" y2="156.65" stroke="#747474" stroke-width="0.9"/>
<line x1="108.62" y1="174.05" x2="112.02" y2="174.05" stroke="#747474" stroke-width="0.9"/>
<line x1="119.38" y1="152.95" x2="119.38" y2="170.35" stroke="#747474" stroke-width="0.9"/>
<line x1="117.68" y1="152.95" x2="121.08" y2="152.95" stroke="#747474" stroke-width="0.9"/>
<line x1="117.68" y1="170.35" x2="121.08" y2="170.35" stroke="#747474" stroke-width="0.9"/>
<line x1="128.45" y1="150.12" x2="128.45" y2="167.52" stroke="#747474" stroke-width="0.9"/>
<line x1="126.75" y1="150.12" x2="130.15" y2="150.12" stroke="#747474" stroke-width="0.9"/>
<line x1="126.75" y1="167.52" x2="130.15" y2="167.52" stroke="#747474" stroke-width="0.9"/>
<path d="M37.8 213.2 46.86 211.68 55.93 206.24 64.99 200.15 74.06 189.71 83.12 182.1 92.19 175.14 101.25 170.13 110.32 165.35 119.38 161.65 128.45 158.82" fill="none" stroke="#747474" stroke-width="0.9"/>
<rect x="36.25" y="211.65" width="3.1" height="3.1" fill="#a9a9a9" stroke="#747474" stroke-width="0.7"/>
<rect x="45.31" y="210.13" width="3.1" height="3.1" fill="#a9a9a9" stroke="#747474" stroke-width="0.7"/>
<rect x="54.38" y="204.69" width="3.1" height="3.1" fill="#a9a9a9" stroke="#747474" stroke-width="0.7"/>
<rect x="63.44" y="198.6" width="3.1" height="3.1" fill="#a9a9a9" stroke="#747474" stroke-width="0.7"/>
<rect x="72.51" y="188.16" width="3.1" height="3.1" fill="#a9a9a9" stroke="#747474" stroke-width="0.7"/>
<rect x="81.58" y="180.55" width="3.1" height="3.1" fill="#a9a9a9" stroke="#747474" stroke-width="0.7"/>
<rect x="90.64" y="173.59" width="3.1" height="3.1" fill="#a9a9a9" stroke="#747474" stroke-width="0.7"/>
<rect x="99.7" y="168.58" width="3.1" height="3.1" fill="#a9a9a9" stroke="#747474" stroke-width="0.7"/>
<rect x="108.77" y="163.8" width="3.1" height="3.1" fill="#a9a9a9" stroke="#747474" stroke-width="0.7"/>
<rect x="117.83" y="160.1" width="3.1" height="3.1" fill="#a9a9a9" stroke="#747474" stroke-width="0.7"/>
<rect x="126.9" y="157.27" width="3.1" height="3.1" fill="#a9a9a9" stroke="#747474" stroke-width="0.7"/>
<line x1="46.86" y1="207.33" x2="46.86" y2="216.03" stroke="#f0626b" stroke-width="1"/>
<line x1="45.16" y1="207.33" x2="48.56" y2="207.33" stroke="#f0626b" stroke-width="1"/>
<line x1="45.16" y1="216.03" x2="48.56" y2="216.03" stroke="#f0626b" stroke-width="1"/>
<line x1="55.93" y1="198.19" x2="55.93" y2="214.29" stroke="#f0626b" stroke-width="1"/>
<line x1="54.23" y1="198.19" x2="57.63" y2="198.19" stroke="#f0626b" stroke-width="1"/>
<line x1="54.23" y1="214.29" x2="57.63" y2="214.29" stroke="#f0626b" stroke-width="1"/>
<line x1="64.99" y1="189.27" x2="64.99" y2="211.89" stroke="#f0626b" stroke-width="1"/>
<line x1="63.29" y1="189.27" x2="66.69" y2="189.27" stroke="#f0626b" stroke-width="1"/>
<line x1="63.29" y1="211.89" x2="66.69" y2="211.89" stroke="#f0626b" stroke-width="1"/>
<line x1="74.06" y1="180.57" x2="74.06" y2="204.5" stroke="#f0626b" stroke-width="1"/>
<line x1="72.36" y1="180.57" x2="75.76" y2="180.57" stroke="#f0626b" stroke-width="1"/>
<line x1="72.36" y1="204.5" x2="75.76" y2="204.5" stroke="#f0626b" stroke-width="1"/>
<line x1="83.12" y1="173.4" x2="83.12" y2="196.45" stroke="#f0626b" stroke-width="1"/>
<line x1="81.42" y1="173.4" x2="84.83" y2="173.4" stroke="#f0626b" stroke-width="1"/>
<line x1="81.42" y1="196.45" x2="84.83" y2="196.45" stroke="#f0626b" stroke-width="1"/>
<line x1="92.19" y1="167.52" x2="92.19" y2="189.27" stroke="#f0626b" stroke-width="1"/>
<line x1="90.49" y1="167.52" x2="93.89" y2="167.52" stroke="#f0626b" stroke-width="1"/>
<line x1="90.49" y1="189.27" x2="93.89" y2="189.27" stroke="#f0626b" stroke-width="1"/>
<line x1="101.25" y1="162.31" x2="101.25" y2="182.75" stroke="#f0626b" stroke-width="1"/>
<line x1="99.55" y1="162.31" x2="102.95" y2="162.31" stroke="#f0626b" stroke-width="1"/>
<line x1="99.55" y1="182.75" x2="102.95" y2="182.75" stroke="#f0626b" stroke-width="1"/>
<line x1="110.32" y1="156.87" x2="110.32" y2="176.88" stroke="#f0626b" stroke-width="1"/>
<line x1="108.62" y1="156.87" x2="112.02" y2="156.87" stroke="#f0626b" stroke-width="1"/>
<line x1="108.62" y1="176.88" x2="112.02" y2="176.88" stroke="#f0626b" stroke-width="1"/>
<line x1="119.38" y1="152.95" x2="119.38" y2="172.53" stroke="#f0626b" stroke-width="1"/>
<line x1="117.68" y1="152.95" x2="121.08" y2="152.95" stroke="#f0626b" stroke-width="1"/>
<line x1="117.68" y1="172.53" x2="121.08" y2="172.53" stroke="#f0626b" stroke-width="1"/>
<line x1="128.45" y1="149.47" x2="128.45" y2="168.18" stroke="#f0626b" stroke-width="1"/>
<line x1="126.75" y1="149.47" x2="130.15" y2="149.47" stroke="#f0626b" stroke-width="1"/>
<line x1="126.75" y1="168.18" x2="130.15" y2="168.18" stroke="#f0626b" stroke-width="1"/>
<path d="M37.8 213.2 46.86 211.68 55.93 206.24 64.99 200.58 74.06 192.54 83.12 184.92 92.19 178.4 101.25 172.53 110.32 166.87 119.38 162.74 128.45 158.82" fill="none" stroke="#f0626b" stroke-width="1"/>
<rect x="36.25" y="211.65" width="3.1" height="3.1" fill="#f58c92" stroke="#f0626b" stroke-width="0.7"/>
<rect x="45.31" y="210.13" width="3.1" height="3.1" fill="#f58c92" stroke="#f0626b" stroke-width="0.7"/>
<rect x="54.38" y="204.69" width="3.1" height="3.1" fill="#f58c92" stroke="#f0626b" stroke-width="0.7"/>
<rect x="63.44" y="199.03" width="3.1" height="3.1" fill="#f58c92" stroke="#f0626b" stroke-width="0.7"/>
<rect x="72.51" y="190.99" width="3.1" height="3.1" fill="#f58c92" stroke="#f0626b" stroke-width="0.7"/>
<rect x="81.58" y="183.37" width="3.1" height="3.1" fill="#f58c92" stroke="#f0626b" stroke-width="0.7"/>
<rect x="90.64" y="176.85" width="3.1" height="3.1" fill="#f58c92" stroke="#f0626b" stroke-width="0.7"/>
<rect x="99.7" y="170.98" width="3.1" height="3.1" fill="#f58c92" stroke="#f0626b" stroke-width="0.7"/>
<rect x="108.77" y="165.32" width="3.1" height="3.1" fill="#f58c92" stroke="#f0626b" stroke-width="0.7"/>
<rect x="117.83" y="161.19" width="3.1" height="3.1" fill="#f58c92" stroke="#f0626b" stroke-width="0.7"/>
<rect x="126.9" y="157.27" width="3.1" height="3.1" fill="#f58c92" stroke="#f0626b" stroke-width="0.7"/>
<line x1="93.3" y1="199.5" x2="110.4" y2="199.5" stroke="#747474" stroke-width="0.9"/>
<rect x="100.3" y="197.95" width="3.1" height="3.1" fill="#a9a9a9" stroke="#747474" stroke-width="0.7"/>
<text x="114.3" y="202.8" font-size="9.2" fill="#666" textLength="30.2" lengthAdjust="spacingAndGlyphs">Control</text>
<line x1="93.3" y1="211.2" x2="110.4" y2="211.2" stroke="#f0626b" stroke-width="1"/>
<rect x="100.3" y="209.65" width="3.1" height="3.1" fill="#f58c92" stroke="#f0626b" stroke-width="0.7"/>
<text x="114.3" y="214.4" font-size="9.2" fill="#f0626b" textLength="45.5" lengthAdjust="spacingAndGlyphs">SeeDB-Live</text></g>
<g id="d"><text stroke="#000" stroke-width="0.35" x="176.4" y="141.9" font-size="16" font-weight="bold" fill="#000">d</text>
<text x="219.4" y="158.8" font-size="10" text-anchor="end" textLength="36" lengthAdjust="spacingAndGlyphs">Control</text>
<text x="219.6" y="211.2" font-size="10" text-anchor="end" textLength="35.5" lengthAdjust="spacingAndGlyphs">SeeDB-</text>
<text x="202.3" y="222.9" font-size="10" text-anchor="middle" textLength="19.5" lengthAdjust="spacingAndGlyphs">Live</text>
<path d="M224 154.64 224.42 153.06 224.84 153.09 225.26 157 225.68 156.21 226.1 156.61 226.53 157.1 226.95 156.1 227.37 156.86 227.79 159.97 228.21 155.81 228.63 155.94 229.05 156.12 229.47 157.08 229.89 158.09 230.31 157.14 230.73 161.05 231.15 156.48 231.57 160.29 232 151.34 232.42 154.44 232.84 155.96 233.26 155.86 233.68 157.37 234.1 155.89 234.52 156.93 234.94 154.45 235.36 157.56 235.78 155.55 236.2 156.1 236.62 153.31 237.05 156.91 237.47 157.95 237.89 156.61 238.31 160.23 238.73 159.36 239.15 155.91 239.57 158.52 239.99 156.63 240.41 158.88 240.83 154.6 241.25 158.75 241.68 158.82 242.1 155.58 242.52 160.37 242.94 156.97 243.36 158.15 243.78 157.8 244.2 152.44 244.62 157.59 245.04 157.28 245.46 157.93 245.88 155.44 246.3 157.24 246.72 158.37 247.15 157.81 247.57 156.83 247.99 153.8 248.41 155.27 248.83 158.71 249.25 165.32 249.67 163.86 250.09 161.55 250.51 160.67 250.93 160.11 251.35 159.41 251.78 159.24 252.2 161.16 252.62 157.55 253.04 157.71 253.46 158.34 253.88 154.72 254.3 159.38 254.72 155.06 255.14 154.94 255.56 158.65 255.98 158.5 256.4 154.54 256.82 160.15 257.25 154.91 257.67 156.89 258.09 158.98 258.51 157.01 258.93 154.02 259.35 157.76 259.77 153.17 260.19 158.09 260.61 154.31 261.03 155.92 261.45 156.03 261.88 156.66 262.3 153.11 262.72 151.56 263.14 153.01 263.56 152.16 263.98 152.78 264.4 152.19 264.82 152.1 265.24 154.3 265.66 154.78 266.08 156.4 266.5 153.9 266.93 154.37 267.35 154.64 267.77 155.27 268.19 154.89 268.61 154.72 269.03 152.99 269.45 157.63 269.87 154.68 270.29 156.22 270.71 156.93 271.13 155.37 271.55 154.63 271.98 154.57 272.4 152.73 272.82 153.29 273.24 152.9 273.66 155.47 274.08 153.6 274.5 154.21 274.92 154.27 275.34 155.16 275.76 156.66 276.18 154.85 276.6 152.85 277.02 156.16 277.45 156.33 277.87 155.08 278.29 154.99 278.71 155.04 279.13 155.75 279.55 156.89 279.97 159.68 280.39 160.3 280.81 159.34 281.23 157.58 281.65 154.1 282.07 157.03 282.5 160.14 282.92 155.51 283.34 157.42 283.76 157.54 284.18 163.1 284.6 160.08 285.02 159.1 285.44 157.39 285.86 157.41 286.28 158.87 286.7 161.76 287.12 158.55 287.55 159.27 287.97 158.44 288.39 155.83 288.81 157.22 289.23 157.35 289.65 154.21 290.07 156.1 290.49 156.52 290.91 154.79 291.33 158.18 291.75 156.97 292.18 154.25 292.6 157.27 293.02 150.38 293.44 151.49 293.86 151.65 294.28 153.93 294.7 152.25 295.12 155.96 295.54 151.48 295.96 154.61 296.38 154.47 296.8 154.93 297.23 154.76 297.65 152.56 298.07 154.83 298.49 158.85 298.91 157.55 299.33 156.34 299.75 155.61 300.17 157.06 300.59 156.49 301.01 154.9 301.43 155.59 301.85 156.58 302.27 154.86 302.7 155.56 303.12 157.22 303.54 158.34 303.96 156.07 304.38 155.25 304.8 157.85 305.22 158.47 305.64 155.8 306.06 157.36 306.48 154.99 306.9 153.75 307.32 157.29 307.75 156.67 308.17 155.52 308.59 155.11 309.01 158.56 309.43 156.93 309.85 156.88 310.27 156.22 310.69 157.64 311.11 156.81 311.53 156.49 311.95 156.1 312.38 158.45 312.8 156.05 313.22 157.4 313.64 155.12 314.06 155.57 314.48 155.76 314.9 155.91 315.32 155.47 315.74 157.23 316.16 157.42 316.58 156.08 317 157.13 317.43 157.34 317.85 155.52 318.27 156.66 318.69 157.31 319.11 157.49 319.53 155.94 319.95 157.73 320.37 157.66 320.79 158.35 321.21 157.76 321.63 159.34 322.05 154.56 322.47 156.8 322.9 157.89 323.32 158.48 323.74 155.41 324.16 156.64 324.58 156.93 325 158.25 325.42 156.77 325.84 155.89 326.26 153.25 326.68 156.67 327.1 152.36 327.52 154.13 327.95 155.41 328.37 156.75 328.79 155.98 329.21 153.82 329.63 154.85 330.05 155.42 330.47 154.27 330.89 159.11 331.31 160.17 331.73 159.15 332.15 159.72 332.57 158.11 333 158.7 333.42 159.14 333.84 158.11 334.26 157.64 334.68 158.17 335.1 156.13 335.52 156.24 335.94 157.41 336.36 157.03 336.78 158.07 337.2 153.21 337.62 157.9 338.05 155.46 338.47 157.37 338.89 158.14 339.31 155.66 339.73 157.33 340.15 157.49 340.57 157.47 340.99 157.14 341.41 156.14 341.83 157.8 342.25 157.05 342.67 157.03 343.1 154.5 343.52 155.32 343.94 154.7 344.36 157.29 344.78 152.94 345.2 153.69" fill="none" stroke="#0a0a0a" stroke-width="2.6" stroke-linejoin="round"/>
<path d="M224 160.18 224.42 160.38 224.84 154.03 225.26 159.42 225.68 151.06 226.1 154.51 226.53 158.48 226.95 154.36 227.37 155.85 227.79 156.02 228.21 160.3 228.63 154.27 229.05 156.93 229.47 155.99 229.89 160.01 230.31 157.12 230.73 155.08 231.15 155.41 231.57 157.1 232 154.73 232.42 156.99 232.84 154.71 233.26 157.02 233.68 155.61 234.1 153.59 234.52 149.96 234.94 159.06 235.36 152.77 235.78 155.76 236.2 156.01 236.62 154.74 237.05 154.12 237.47 157.65 237.89 154.82 238.31 161.12 238.73 151.02 239.15 156.61 239.57 151.67 239.99 154.16 240.41 153.12 240.83 157.23 241.25 154.1 241.68 153.53 242.1 154.35 242.52 153.85 242.94 152.28 243.36 154.5 243.78 154.79 244.2 153.95 244.62 155.17 245.04 155.33 245.46 159.48 245.88 157.75 246.3 153.33 246.72 152.54 247.15 154.72 247.57 156.14 247.99 157.61 248.41 156.02 248.83 153.54 249.25 156.83 249.67 155.65 250.09 151.6 250.51 151.61 250.93 159.82 251.35 158.61 251.78 155.28 252.2 156.88 252.62 152.23 253.04 156.31 253.46 154.86 253.88 157.77 254.3 153.05 254.72 157.42 255.14 153.66 255.56 153.64 255.98 151.84 256.4 155.56 256.82 155.93 257.25 154.46 257.67 154.19 258.09 151.63 258.51 157.73 258.93 150.39 259.35 159.14 259.77 154.44 260.19 158.24 260.61 157.91 261.03 154.55 261.45 158.88 261.88 155.08 262.3 151.79 262.72 153.72 263.14 157.98 263.56 157.81 263.98 152.62 264.4 151.51 264.82 153.39 265.24 157.71 265.66 154.7 266.08 153.94 266.5 152.32 266.93 154.07 267.35 156.24 267.77 152.44 268.19 155.68 268.61 155.18 269.03 155.6 269.45 154.67 269.87 155.02 270.29 158.35 270.71 154.34 271.13 154.61 271.55 151.72 271.98 150.95 272.4 153.11 272.82 155.26 273.24 157.6 273.66 155.03 274.08 157.67 274.5 158.65 274.92 156.19 275.34 156.52 275.76 153.95 276.18 156.38 276.6 156.37 277.02 156.41 277.45 157.74 277.87 154.75 278.29 155.88 278.71 155.12 279.13 157.83 279.55 157.94 279.97 162.61 280.39 155.86 280.81 159.35 281.23 156.33 281.65 157.6 282.07 156.37 282.5 155.22 282.92 158.82 283.34 157.01 283.76 159.24 284.18 163.13 284.6 157.53 285.02 166.29 285.44 163.23 285.86 162.67 286.28 160.31 286.7 159.93 287.12 156.51 287.55 160.97 287.97 156.25 288.39 165.03 288.81 155.49 289.23 158.57 289.65 158.39 290.07 154.2 290.49 156.18 290.91 156.52 291.33 158.4 291.75 157.79 292.18 155.16 292.6 156.98 293.02 154.05 293.44 156.1 293.86 149.65 294.28 153.91 294.7 153.64 295.12 152.8 295.54 158.59 295.96 152.95 296.38 157.47 296.8 157.95 297.23 153.25 297.65 155.73 298.07 154.96 298.49 154.53 298.91 160.11 299.33 155.69 299.75 155.05 300.17 155.9 300.59 154.82 301.01 158.74 301.43 157.17 301.85 155.34 302.27 157.69 302.7 156.03 303.12 160.05 303.54 160.92 303.96 155.55 304.38 162.64 304.8 160.32 305.22 159.24 305.64 162.25 306.06 157.58 306.48 158.72 306.9 162.08 307.32 155.45 307.75 159.26 308.17 151 308.59 158.06 309.01 157.62 309.43 158.52 309.85 159.01 310.27 163.17 310.69 151.96 311.11 159.07 311.53 154.58 311.95 160.91 312.38 158.83 312.8 157.48 313.22 158.18 313.64 155.45 314.06 161.02 314.48 158.19 314.9 162.61 315.32 158.34 315.74 159.29 316.16 151.99 316.58 159.84 317 158.18 317.43 156.16 317.85 160.37 318.27 159.77 318.69 160.93 319.11 159.98 319.53 157.7 319.95 161.53 320.37 158.08 320.79 154.63 321.21 153.37 321.63 155.22 322.05 163.18 322.47 157.48 322.9 158.14 323.32 160.97 323.74 163.71 324.16 160 324.58 156.68 325 159.32 325.42 160.9 325.84 161.18 326.26 159.03 326.68 157.34 327.1 160.61 327.52 158.91 327.95 154.56 328.37 160.38 328.79 155.91 329.21 157.36 329.63 161.81 330.05 155.94 330.47 153.96 330.89 165.33 331.31 163.05 331.73 160.99 332.15 160.74 332.57 158.58 333 160.81 333.42 158.96 333.84 156.14 334.26 157.84 334.68 158.51 335.1 156.43 335.52 157.68 335.94 154.83 336.36 162.44 336.78 156.81 337.2 162.68 337.62 158.9 338.05 160.97 338.47 158.57 338.89 163.12 339.31 160.27 339.73 155.27 340.15 157.57 340.57 159.48 340.99 158.11 341.41 157.89 341.83 159.4 342.25 158.12 342.67 160.85 343.1 160.78 343.52 163.79 343.94 159.51 344.36 160.96 344.78 164.29 345.2 156.22" fill="none" stroke="#222" stroke-width="0.5" stroke-linejoin="round"/>
<path d="M248.8 156.6 249.3 194.6 249.8 177.5 250.5 166.1 251.7 158.6" fill="none" stroke="#2a2a2a" stroke-width="0.8" stroke-linejoin="round"/>
<path d="M224 216.87 224.42 214.96 224.84 213.99 225.26 213.54 225.68 212.11 226.1 213.68 226.53 215.94 226.95 214.01 227.37 213.72 227.79 214.98 228.21 213.64 228.63 217.73 229.05 214.16 229.47 214.67 229.89 214.92 230.31 212.71 230.73 211.75 231.15 213.37 231.57 212.59 232 216.73 232.42 211.89 232.84 212.32 233.26 215.32 233.68 215.04 234.1 214.7 234.52 209.72 234.94 211.88 235.36 214.2 235.78 212.83 236.2 214.94 236.62 212.36 237.05 211.36 237.47 210.75 237.89 212.37 238.31 212.69 238.73 210.37 239.15 211.56 239.57 207.39 239.99 213.55 240.41 211.46 240.83 209.99 241.25 212.97 241.68 213.22 242.1 212.1 242.52 210.88 242.94 212.05 243.36 213.09 243.78 213.89 244.2 211.48 244.62 211.63 245.04 211.95 245.46 213.01 245.88 210.38 246.3 211.82 246.72 211.08 247.15 211.78 247.57 211.87 247.99 212.6 248.41 216.55 248.83 213.16 249.25 211.69 249.67 212.82 250.09 214.26 250.51 213.04 250.93 213.43 251.35 215.94 251.78 221.65 252.2 218.92 252.62 216.21 253.04 212.38 253.46 213.67 253.88 214.42 254.3 215.5 254.72 211.35 255.14 211.98 255.56 214.7 255.98 210.66 256.4 213.15 256.82 211.98 257.25 211.95 257.67 215.06 258.09 212.08 258.51 215.57 258.93 211.64 259.35 210.08 259.77 211.56 260.19 212.05 260.61 215.28 261.03 211.57 261.45 214.57 261.88 210.85 262.3 212.1 262.72 211.33 263.14 214.24 263.56 212.91 263.98 211.87 264.4 214.2 264.82 212.78 265.24 212.44 265.66 211.94 266.08 209.29 266.5 214.15 266.93 211.8 267.35 210.97 267.77 210.53 268.19 210.03 268.61 210.84 269.03 209.65 269.45 213.55 269.87 207.7 270.29 211.47 270.71 214.54 271.13 212.42 271.55 213.38 271.98 211.2 272.4 214.52 272.82 211.99 273.24 214.01 273.66 212.58 274.08 212.75 274.5 211.69 274.92 212.09 275.34 215.18 275.76 214.98 276.18 213.76 276.6 212.47 277.02 214.89 277.45 214.79 277.87 213.12 278.29 215.06 278.71 216.22 279.13 214.34 279.55 212.89 279.97 212.14 280.39 216.4 280.81 211.93 281.23 211.85 281.65 213.62 282.07 214.79 282.5 214.19 282.92 213.17 283.34 212.6 283.76 212.72 284.18 213.21 284.6 212.27 285.02 210.09 285.44 214 285.86 212.51 286.28 216.03 286.7 213.92 287.12 216.31 287.55 218.97 287.97 217.77 288.39 219.16 288.81 213.9 289.23 215.45 289.65 215.84 290.07 217.53 290.49 216.39 290.91 213.64 291.33 213.46 291.75 215.83 292.18 217.06 292.6 214.91 293.02 213.83 293.44 213.99 293.86 212.41 294.28 213.75 294.7 213.4 295.12 214.1 295.54 215.39 295.96 215.02 296.38 212.53 296.8 213.52 297.23 215.84 297.65 213.3 298.07 214.47 298.49 218.59 298.91 221.44 299.33 216.61 299.75 213.49 300.17 213.04 300.59 212.03 301.01 211.58 301.43 211.19 301.85 211.13 302.27 210.77 302.7 213.32 303.12 212.03 303.54 212.69 303.96 210.55 304.38 213.95 304.8 213.5 305.22 211.1 305.64 211.23 306.06 211.57 306.48 212.6 306.9 211.33 307.32 215.95 307.75 209.73 308.17 210.98 308.59 212.56 309.01 214.81 309.43 213.56 309.85 212.49 310.27 213.72 310.69 212.65 311.11 207.9 311.53 211.38 311.95 213.04 312.38 208.7 312.8 213.37 313.22 214.31 313.64 217.22 314.06 214.74 314.48 214.88 314.9 212.8 315.32 214.69 315.74 214.88 316.16 211.81 316.58 214.91 317 211.61 317.43 210.51 317.85 210.79 318.27 212.45 318.69 214.23 319.11 213.04 319.53 211.81 319.95 208.74 320.37 209.19 320.79 210.51 321.21 211.98 321.63 209.89 322.05 212.9 322.47 214.39 322.9 211.35 323.32 210.06 323.74 213.46 324.16 211.93 324.58 214.01 325 209.41 325.42 213.52 325.84 213.17 326.26 210.63 326.68 212.79 327.1 212.03 327.52 209.59 327.95 214.82 328.37 211.99 328.79 212.5 329.21 212.45 329.63 211.71 330.05 212.35 330.47 211.95 330.89 211.77 331.31 213.39 331.73 213.64 332.15 213.65 332.57 210.25 333 212.09 333.42 212.79 333.84 209.52 334.26 211.75 334.68 210.56 335.1 211.97 335.52 212.39 335.94 211.07 336.36 214.55 336.78 211.81 337.2 211.02 337.62 210.32 338.05 210.54 338.47 212.56 338.89 208.8 339.31 213.19 339.73 211.64 340.15 218.57 340.57 213.57 340.99 212.21 341.41 212.3 341.83 211.96 342.25 211.31 342.67 212.67 343.1 212.63 343.52 211.75 343.94 209.86 344.36 210.98 344.78 211.85 345.2 210.73" fill="none" stroke="#0a0a0a" stroke-width="2.6" stroke-linejoin="round"/>
<path d="M224 212.09 224.42 208.06 224.84 213.47 225.26 214.27 225.68 208.7 226.1 210.79 226.53 212.4 226.95 213.16 227.37 214.57 227.79 214.68 228.21 215.42 228.63 213.81 229.05 211.92 229.47 210.7 229.89 207.93 230.31 215.54 230.73 216.34 231.15 215.42 231.57 217.38 232 213.78 232.42 211.25 232.84 210.97 233.26 213.89 233.68 217.84 234.1 211.01 234.52 211.58 234.94 210.86 235.36 216.22 235.78 212.71 236.2 217.02 236.62 211.22 237.05 209.73 237.47 210.72 237.89 213.27 238.31 210.87 238.73 208.91 239.15 211.01 239.57 209.44 239.99 213.06 240.41 211.28 240.83 213.25 241.25 216.66 241.68 214.15 242.1 209.42 242.52 219.92 242.94 210.45 243.36 213.39 243.78 210.39 244.2 214.64 244.62 212.12 245.04 212.73 245.46 211.31 245.88 209.55 246.3 208.01 246.72 212.85 247.15 208.19 247.57 211.25 247.99 212.12 248.41 215.74 248.83 212.15 249.25 211.69 249.67 213.8 250.09 210.1 250.51 214.89 250.93 216.14 251.35 219 251.78 223.59 252.2 219.16 252.62 213.82 253.04 215.48 253.46 215.3 253.88 218.74 254.3 215.42 254.72 217.9 255.14 210.99 255.56 214.56 255.98 214.21 256.4 210.71 256.82 213.82 257.25 217.05 257.67 204.48 258.09 210.51 258.51 211.21 258.93 213.82 259.35 213.42 259.77 211.28 260.19 212.17 260.61 213.44 261.03 213.57 261.45 214.45 261.88 212.88 262.3 211.97 262.72 214.06 263.14 208.72 263.56 213.56 263.98 210.72 264.4 216.12 264.82 211.24 265.24 205.56 265.66 211.93 266.08 212.69 266.5 209.31 266.93 209.42 267.35 211.78 267.77 210.15 268.19 213.99 268.61 211.94 269.03 211.39 269.45 206.57 269.87 214.15 270.29 210.42 270.71 212.36 271.13 214.46 271.55 209.35 271.98 208.56 272.4 210.41 272.82 211.43 273.24 215.66 273.66 210.75 274.08 210.88 274.5 211.51 274.92 214.57 275.34 209.83 275.76 216.89 276.18 213.14 276.6 211.57 277.02 212.23 277.45 213.13 277.87 209.06 278.29 210.46 278.71 208.75 279.13 213.6 279.55 209.8 279.97 214.91 280.39 214.02 280.81 213.67 281.23 215.04 281.65 212.09 282.07 206.72 282.5 205.83 282.92 208.41 283.34 211.5 283.76 212.83 284.18 209.89 284.6 211.95 285.02 212.61 285.44 211.42 285.86 206.37 286.28 211.31 286.7 213.81 287.12 213.69 287.55 211.23 287.97 212.75 288.39 211.97 288.81 218.4 289.23 214.88 289.65 209.25 290.07 213.48 290.49 211.01 290.91 213.85 291.33 213 291.75 212.43 292.18 213.67 292.6 214.76 293.02 209.7 293.44 211.69 293.86 208.32 294.28 208.62 294.7 212.81 295.12 212.08 295.54 216.73 295.96 207.04 296.38 212.42 296.8 214.92 297.23 212.75 297.65 210.68 298.07 209.64 298.49 214.6 298.91 219.28 299.33 217.3 299.75 211.35 300.17 211.93 300.59 214.18 301.01 215.92 301.43 213.85 301.85 207.73 302.27 211.34 302.7 208.02 303.12 208.5 303.54 207.58 303.96 212.33 304.38 212.65 304.8 213.79 305.22 212.05 305.64 215.47 306.06 213.96 306.48 209.7 306.9 212.95 307.32 213.4 307.75 211.73 308.17 216.43 308.59 209.25 309.01 213.39 309.43 213.33 309.85 207.49 310.27 214.8 310.69 207.41 311.11 213.32 311.53 213.37 311.95 210.81 312.38 212.82 312.8 213.71 313.22 211.46 313.64 217.16 314.06 215.67 314.48 213.1 314.9 216.4 315.32 211.09 315.74 214.69 316.16 216.36 316.58 214 317 214.48 317.43 209.04 317.85 211.71 318.27 212.45 318.69 208.83 319.11 212.1 319.53 211.67 319.95 217.48 320.37 210.33 320.79 210.75 321.21 209.81 321.63 211.78 322.05 217.17 322.47 206.18 322.9 211.18 323.32 209.3 323.74 212.49 324.16 210.02 324.58 211.37 325 207.34 325.42 209.61 325.84 211.61 326.26 211.03 326.68 208.46 327.1 211.82 327.52 209.6 327.95 214.28 328.37 214.66 328.79 211.46 329.21 213.46 329.63 212.55 330.05 210.92 330.47 213.92 330.89 212.51 331.31 212.06 331.73 209.56 332.15 218.37 332.57 210.7 333 210.26 333.42 216.67 333.84 212.75 334.26 214.59 334.68 215.86 335.1 214.68 335.52 214.92 335.94 206.8 336.36 214.31 336.78 207.29 337.2 209.43 337.62 206.09 338.05 209.43 338.47 212.37 338.89 210.81 339.31 207.48 339.73 214.03 340.15 214.48 340.57 213.8 340.99 216.88 341.41 214.55 341.83 214.32 342.25 213.34 342.67 210.3 343.1 211.86 343.52 212.76 343.94 213.83 344.36 213.92 344.78 212.19 345.2 214.66" fill="none" stroke="#222" stroke-width="0.5" stroke-linejoin="round"/>
<path d="M286.8 213 287.3 239 287.8 227.3 288.5 219.5 289.7 215" fill="none" stroke="#2a2a2a" stroke-width="0.8" stroke-linejoin="round"/>
<path d="M326.2 234.6 350.2 234.6 350.2 223.4" fill="none" stroke="#222" stroke-width="0.9"/>
<text x="331.2" y="244" font-size="9.3" textLength="19.5" lengthAdjust="spacingAndGlyphs">0.2 s</text>
<text font-size="9.4" textLength="22.7" lengthAdjust="spacingAndGlyphs" transform="translate(354.9 222) rotate(90)">20 pA</text></g>
<g id="e"><text stroke="#000" stroke-width="0.35" x="371.8" y="141.5" font-size="16" font-weight="bold" fill="#000">e</text>
<line x1="413.8" y1="149.5" x2="413.8" y2="221.4" stroke="#333" stroke-width="0.8"/>
<line x1="413.8" y1="149.9" x2="416.2" y2="149.9" stroke="#333" stroke-width="0.8"/>
<text x="409.6" y="152.92" font-size="8.4" text-anchor="end" textLength="10.18" lengthAdjust="spacingAndGlyphs">30</text>
<line x1="413.8" y1="173.6" x2="416.2" y2="173.6" stroke="#333" stroke-width="0.8"/>
<text x="409.6" y="176.62" font-size="8.4" text-anchor="end" textLength="10.18" lengthAdjust="spacingAndGlyphs">20</text>
<line x1="413.8" y1="197.4" x2="416.2" y2="197.4" stroke="#333" stroke-width="0.8"/>
<text x="409.6" y="200.42" font-size="8.4" text-anchor="end" textLength="10.18" lengthAdjust="spacingAndGlyphs">10</text>
<line x1="413.8" y1="221" x2="416.2" y2="221" stroke="#333" stroke-width="0.8"/>
<text x="409.6" y="224.02" font-size="8.4" text-anchor="end" textLength="5.09" lengthAdjust="spacingAndGlyphs">0</text>
<line x1="413.4" y1="221" x2="475.8" y2="221" stroke="#333" stroke-width="0.8"/>
<line x1="430.6" y1="221" x2="430.6" y2="218.4" stroke="#333" stroke-width="0.8"/>
<line x1="459.8" y1="221" x2="459.8" y2="218.4" stroke="#333" stroke-width="0.8"/>
<text font-size="9.6" text-anchor="middle" textLength="80.3" lengthAdjust="spacingAndGlyphs" transform="translate(380.4 190.2) rotate(-90)">sEPSC amplitude</text>
<text font-size="9.6" text-anchor="middle" textLength="19.5" lengthAdjust="spacingAndGlyphs" transform="translate(391.2 190) rotate(-90)">(pA)</text>
<g fill="#777"><circle cx="432.74" cy="186.57" r="1.3"/><circle cx="429.92" cy="187.4" r="1.3"/><circle cx="435.87" cy="184.36" r="1.3"/><circle cx="430.53" cy="187.4" r="1.3"/><circle cx="421.31" cy="178.28" r="1.3"/><circle cx="427.97" cy="182.17" r="1.3"/><circle cx="435.61" cy="180.52" r="1.3"/><circle cx="425.46" cy="181.24" r="1.3"/><circle cx="439.3" cy="182.47" r="1.3"/><circle cx="434.62" cy="183.9" r="1.3"/><circle cx="421.87" cy="187.4" r="1.3"/><circle cx="427.21" cy="176.95" r="1.3"/><circle cx="438.48" cy="179.58" r="1.3"/><circle cx="429.77" cy="168" r="1.3"/><circle cx="428.92" cy="187.4" r="1.3"/><circle cx="420.5" cy="183.5" r="1.3"/><circle cx="441" cy="183.8" r="1.3"/><circle cx="433" cy="172.8" r="1.3"/></g>
<rect x="423.6" y="177.7" width="13.4" height="7.3" fill="none" stroke="#2a2a2a" stroke-width="0.7"/>
<line x1="423.6" y1="182.3" x2="437" y2="182.3" stroke="#2a2a2a" stroke-width="0.7"/>
<line x1="430.3" y1="177.7" x2="430.3" y2="168" stroke="#2a2a2a" stroke-width="0.7"/>
<line x1="430.3" y1="185" x2="430.3" y2="187.4" stroke="#2a2a2a" stroke-width="0.7"/>
<line x1="427.9" y1="168" x2="432.7" y2="168" stroke="#2a2a2a" stroke-width="0.7"/>
<line x1="427.9" y1="187.4" x2="432.7" y2="187.4" stroke="#2a2a2a" stroke-width="0.7"/>
<g fill="#777"><circle cx="465.43" cy="182.63" r="1.3"/><circle cx="458.74" cy="185.6" r="1.3"/><circle cx="460.55" cy="185.6" r="1.3"/><circle cx="453.85" cy="180.31" r="1.3"/><circle cx="451.1" cy="185.6" r="1.3"/><circle cx="464.75" cy="184.35" r="1.3"/><circle cx="454.25" cy="180.63" r="1.3"/><circle cx="464.28" cy="185.6" r="1.3"/><circle cx="464.42" cy="181.11" r="1.3"/><circle cx="452.67" cy="179" r="1.3"/><circle cx="459.17" cy="179.77" r="1.3"/><circle cx="467.37" cy="183.72" r="1.3"/><circle cx="461.15" cy="179" r="1.3"/><circle cx="459.24" cy="185.6" r="1.3"/><circle cx="449.5" cy="181" r="1.3"/><circle cx="471.5" cy="184.8" r="1.3"/><circle cx="470" cy="185.6" r="1.3"/></g>
<rect x="452.8" y="179.7" width="13.6" height="4.8" fill="none" stroke="#2a2a2a" stroke-width="0.7"/>
<line x1="452.8" y1="182.6" x2="466.4" y2="182.6" stroke="#2a2a2a" stroke-width="0.7"/>
<line x1="459.6" y1="179.7" x2="459.6" y2="179" stroke="#2a2a2a" stroke-width="0.7"/>
<line x1="459.6" y1="184.5" x2="459.6" y2="185.6" stroke="#2a2a2a" stroke-width="0.7"/>
<line x1="457.2" y1="179" x2="462" y2="179" stroke="#2a2a2a" stroke-width="0.7"/>
<line x1="457.2" y1="185.6" x2="462" y2="185.6" stroke="#2a2a2a" stroke-width="0.7"/>
<line x1="430.1" y1="152.8" x2="462.6" y2="152.8" stroke="#a6a6a6" stroke-width="1"/>
<text x="446.55" y="150" font-size="7.7" text-anchor="middle" textLength="10.2" lengthAdjust="spacingAndGlyphs">NS</text>
<text x="429.6" y="232.6" font-size="9.3" text-anchor="middle" textLength="29.5" lengthAdjust="spacingAndGlyphs">Control</text>
<text x="462.4" y="232.6" font-size="9.3" text-anchor="middle" textLength="28.9" lengthAdjust="spacingAndGlyphs">SeeDB-</text>
<text x="462.4" y="242.2" font-size="9.3" text-anchor="middle" textLength="14.6" lengthAdjust="spacingAndGlyphs">Live</text>
<line x1="525.6" y1="149.6" x2="525.6" y2="221.5" stroke="#333" stroke-width="0.8"/>
<line x1="525.6" y1="150" x2="528" y2="150" stroke="#333" stroke-width="0.8"/>
<text x="521.4" y="153.02" font-size="8.4" text-anchor="end" textLength="5.09" lengthAdjust="spacingAndGlyphs">8</text>
<line x1="525.6" y1="167.6" x2="528" y2="167.6" stroke="#333" stroke-width="0.8"/>
<text x="521.4" y="170.62" font-size="8.4" text-anchor="end" textLength="5.09" lengthAdjust="spacingAndGlyphs">6</text>
<line x1="525.6" y1="185.5" x2="528" y2="185.5" stroke="#333" stroke-width="0.8"/>
<text x="521.4" y="188.52" font-size="8.4" text-anchor="end" textLength="5.09" lengthAdjust="spacingAndGlyphs">4</text>
<line x1="525.6" y1="203.3" x2="528" y2="203.3" stroke="#333" stroke-width="0.8"/>
<text x="521.4" y="206.32" font-size="8.4" text-anchor="end" textLength="5.09" lengthAdjust="spacingAndGlyphs">2</text>
<line x1="525.6" y1="221.1" x2="528" y2="221.1" stroke="#333" stroke-width="0.8"/>
<text x="521.4" y="224.12" font-size="8.4" text-anchor="end" textLength="5.09" lengthAdjust="spacingAndGlyphs">0</text>
<line x1="525.2" y1="221.1" x2="587.5" y2="221.1" stroke="#333" stroke-width="0.8"/>
<line x1="541.4" y1="221.1" x2="541.4" y2="218.5" stroke="#333" stroke-width="0.8"/>
<line x1="571.4" y1="221.1" x2="571.4" y2="218.5" stroke="#333" stroke-width="0.8"/>
<text font-size="9.6" text-anchor="middle" textLength="79.7" lengthAdjust="spacingAndGlyphs" transform="translate(495.6 186) rotate(-90)">sEPSC frequency</text>
<text font-size="9.6" text-anchor="middle" textLength="18.8" lengthAdjust="spacingAndGlyphs" transform="translate(506 186.7) rotate(-90)">(Hz)</text>
<g fill="#777"><circle cx="532.62" cy="203.78" r="1.3"/><circle cx="550.79" cy="198.48" r="1.3"/><circle cx="544.32" cy="201.2" r="1.3"/><circle cx="538.62" cy="203.26" r="1.3"/><circle cx="550.06" cy="204" r="1.3"/><circle cx="538.14" cy="195.94" r="1.3"/><circle cx="544.95" cy="185.9" r="1.3"/><circle cx="549.4" cy="188.76" r="1.3"/><circle cx="548.6" cy="198.95" r="1.3"/><circle cx="543.17" cy="197.2" r="1.3"/><circle cx="548.02" cy="197.7" r="1.3"/><circle cx="543.04" cy="204.35" r="1.3"/><circle cx="543.25" cy="185.9" r="1.3"/><circle cx="542.6" cy="211.8" r="1.3"/><circle cx="539.8" cy="161" r="1.3"/><circle cx="543.3" cy="168" r="1.3"/><circle cx="531.5" cy="200" r="1.3"/><circle cx="551.5" cy="194" r="1.3"/></g>
<rect x="534.6" y="193.4" width="13.8" height="10.5" fill="none" stroke="#2a2a2a" stroke-width="0.7"/>
<line x1="534.6" y1="199.6" x2="548.4" y2="199.6" stroke="#2a2a2a" stroke-width="0.7"/>
<line x1="541.5" y1="193.4" x2="541.5" y2="185.9" stroke="#2a2a2a" stroke-width="0.7"/>
<line x1="541.5" y1="203.9" x2="541.5" y2="211.8" stroke="#2a2a2a" stroke-width="0.7"/>
<line x1="539.1" y1="185.9" x2="543.9" y2="185.9" stroke="#2a2a2a" stroke-width="0.7"/>
<line x1="539.1" y1="211.8" x2="543.9" y2="211.8" stroke="#2a2a2a" stroke-width="0.7"/>
<g fill="#777"><circle cx="574.84" cy="208" r="1.3"/><circle cx="573.26" cy="190.74" r="1.3"/><circle cx="567.76" cy="194" r="1.3"/><circle cx="576.36" cy="208" r="1.3"/><circle cx="564.63" cy="208" r="1.3"/><circle cx="577.17" cy="189" r="1.3"/><circle cx="562.92" cy="190.65" r="1.3"/><circle cx="571.78" cy="186.31" r="1.3"/><circle cx="569.33" cy="165.8" r="1.3"/><circle cx="572.9" cy="208" r="1.3"/><circle cx="579.5" cy="189" r="1.3"/><circle cx="581" cy="193" r="1.3"/><circle cx="581.5" cy="198" r="1.3"/><circle cx="560" cy="205" r="1.3"/><circle cx="567.3" cy="171" r="1.3"/></g>
<rect x="564.4" y="180.6" width="13.6" height="24.2" fill="none" stroke="#2a2a2a" stroke-width="0.7"/>
<line x1="564.4" y1="196.4" x2="578" y2="196.4" stroke="#2a2a2a" stroke-width="0.7"/>
<line x1="571.2" y1="180.6" x2="571.2" y2="165.8" stroke="#2a2a2a" stroke-width="0.7"/>
<line x1="571.2" y1="204.8" x2="571.2" y2="208" stroke="#2a2a2a" stroke-width="0.7"/>
<line x1="568.8" y1="165.8" x2="573.6" y2="165.8" stroke="#2a2a2a" stroke-width="0.7"/>
<line x1="568.8" y1="208" x2="573.6" y2="208" stroke="#2a2a2a" stroke-width="0.7"/>
<line x1="539.7" y1="152.6" x2="572.1" y2="152.6" stroke="#a6a6a6" stroke-width="1"/>
<text x="556.1" y="149.8" font-size="7.7" text-anchor="middle" textLength="10.2" lengthAdjust="spacingAndGlyphs">NS</text>
<text x="541.6" y="232.7" font-size="9.3" text-anchor="middle" textLength="29.8" lengthAdjust="spacingAndGlyphs">Control</text>
<text x="574.6" y="232.7" font-size="9.3" text-anchor="middle" textLength="29.2" lengthAdjust="spacingAndGlyphs">SeeDB-</text>
<text x="574.6" y="242.3" font-size="9.3" text-anchor="middle" textLength="14.6" lengthAdjust="spacingAndGlyphs">Live</text></g>
<g id="f"><text stroke="#000" stroke-width="0.35" x="-0.3" y="284.8" font-size="16" font-weight="bold" fill="#000">f</text>
<g clip-path="url(#clF)"><g filter="url(#gnF2)"><rect x="15.3" y="290" width="78.6" height="73.6" fill="url(#grF)"/>
<ellipse cx="87" cy="312" rx="9" ry="6" fill="#666666" filter="url(#bl2)"/>
<ellipse cx="20" cy="327" rx="6" ry="8" fill="#4c4c4c" filter="url(#bl2)"/>
<ellipse cx="37.5" cy="328.5" rx="6.5" ry="4.2" fill="#8c8c8c" filter="url(#bl1)" transform="rotate(40 37.5 328.5)"/>
<ellipse cx="33.5" cy="320" rx="1.3" ry="4.5" fill="#737373" filter="url(#bl1)" transform="rotate(-20 33.5 320)"/>
<ellipse cx="66" cy="326.5" rx="2" ry="6.5" fill="#adadad" filter="url(#bl1)"/>
<ellipse cx="81" cy="330.5" rx="6" ry="4.2" fill="#6b6b6b" filter="url(#bl1)"/>
<ellipse cx="76.6" cy="334.5" rx="1.6" ry="2.6" fill="#ffffff" filter="url(#bl1)"/>
<ellipse cx="82" cy="335" rx="1.2" ry="2.2" fill="#b2b2b2" filter="url(#bl1)"/>
<ellipse cx="49" cy="333" rx="4.5" ry="5" fill="#1f1f1f" filter="url(#bl1)"/>
<ellipse cx="57.5" cy="334" rx="3.5" ry="5" fill="#1a1a1a" filter="url(#bl1)"/>
<ellipse cx="71.5" cy="336.5" rx="3.2" ry="3" fill="#141414" filter="url(#bl1)"/>
<ellipse cx="27" cy="337" rx="4" ry="4" fill="#1f1f1f" filter="url(#bl1)"/>
<ellipse cx="81" cy="294" rx="3" ry="3" fill="#1f1f1f" filter="url(#bl1)"/>
<ellipse cx="73" cy="294.5" rx="2.5" ry="2.5" fill="#262626" filter="url(#bl1)"/></g>
<g mask="url(#mF)"><g filter="url(#gnF)"><rect x="15.3" y="290" width="78.6" height="73.6" fill="url(#grF)"/>
<ellipse cx="87" cy="312" rx="9" ry="6" fill="#666666" filter="url(#bl2)"/>
<ellipse cx="20" cy="327" rx="6" ry="8" fill="#4c4c4c" filter="url(#bl2)"/>
<ellipse cx="37.5" cy="328.5" rx="6.5" ry="4.2" fill="#8c8c8c" filter="url(#bl1)" transform="rotate(40 37.5 328.5)"/>
<ellipse cx="33.5" cy="320" rx="1.3" ry="4.5" fill="#737373" filter="url(#bl1)" transform="rotate(-20 33.5 320)"/>
<ellipse cx="66" cy="326.5" rx="2" ry="6.5" fill="#adadad" filter="url(#bl1)"/>
<ellipse cx="81" cy="330.5" rx="6" ry="4.2" fill="#6b6b6b" filter="url(#bl1)"/>
<ellipse cx="76.6" cy="334.5" rx="1.6" ry="2.6" fill="#ffffff" filter="url(#bl1)"/>
<ellipse cx="82" cy="335" rx="1.2" ry="2.2" fill="#b2b2b2" filter="url(#bl1)"/>
<ellipse cx="49" cy="333" rx="4.5" ry="5" fill="#1f1f1f" filter="url(#bl1)"/>
<ellipse cx="57.5" cy="334" rx="3.5" ry="5" fill="#1a1a1a" filter="url(#bl1)"/>
<ellipse cx="71.5" cy="336.5" rx="3.2" ry="3" fill="#141414" filter="url(#bl1)"/>
<ellipse cx="27" cy="337" rx="4" ry="4" fill="#1f1f1f" filter="url(#bl1)"/>
<ellipse cx="81" cy="294" rx="3" ry="3" fill="#1f1f1f" filter="url(#bl1)"/>
<ellipse cx="73" cy="294.5" rx="2.5" ry="2.5" fill="#262626" filter="url(#bl1)"/></g></g></g>
<text stroke="#f2e300" stroke-width="0.22" x="23" y="314.1" font-size="8" text-anchor="middle" fill="#f2e300" textLength="4.7" lengthAdjust="spacingAndGlyphs">6</text>
<line x1="25.7" y1="316.1" x2="21.9" y2="321.9" stroke="#f2e300" stroke-width="1" marker-end="url(#ah)"/>
<text stroke="#f2e300" stroke-width="0.22" x="21.9" y="340.6" font-size="8" text-anchor="middle" fill="#f2e300" textLength="4.7" lengthAdjust="spacingAndGlyphs">5</text>
<line x1="26.3" y1="336.5" x2="30.9" y2="331.2" stroke="#f2e300" stroke-width="1" marker-end="url(#ah)"/>
<text stroke="#f2e300" stroke-width="0.22" x="32.1" y="347.9" font-size="8" text-anchor="middle" fill="#f2e300" textLength="4.7" lengthAdjust="spacingAndGlyphs">4</text>
<line x1="34.1" y1="339.1" x2="38.6" y2="333.4" stroke="#f2e300" stroke-width="1" marker-end="url(#ah)"/>
<text stroke="#f2e300" stroke-width="0.22" x="40.9" y="351.7" font-size="8" text-anchor="middle" fill="#f2e300" textLength="4.7" lengthAdjust="spacingAndGlyphs">3</text>
<line x1="43.2" y1="343" x2="47.8" y2="337.5" stroke="#f2e300" stroke-width="1" marker-end="url(#ah)"/>
<text stroke="#f2e300" stroke-width="0.22" x="58.2" y="347.6" font-size="8" text-anchor="middle" fill="#f2e300" textLength="4.7" lengthAdjust="spacingAndGlyphs">1</text>
<line x1="59.6" y1="339.5" x2="64.2" y2="333.7" stroke="#f2e300" stroke-width="1" marker-end="url(#ah)"/>
<text stroke="#f2e300" stroke-width="0.22" x="68.1" y="352.9" font-size="8" text-anchor="middle" fill="#f2e300" textLength="4.7" lengthAdjust="spacingAndGlyphs">2</text>
<line x1="69.3" y1="343.6" x2="73.6" y2="337.9" stroke="#f2e300" stroke-width="1" marker-end="url(#ah)"/>
<rect x="16.1" y="365.5" width="19.3" height="3" fill="#000"/>
<text x="15.6" y="376.2" font-size="9" textLength="25.8" lengthAdjust="spacingAndGlyphs">50 µm</text>
<text x="55.2" y="391.5" font-size="10.3" text-anchor="middle" textLength="69" lengthAdjust="spacingAndGlyphs">Thy1-GCaMP6f</text>
<text x="55.2" y="403.7" font-size="10.3" text-anchor="middle" textLength="89.3" lengthAdjust="spacingAndGlyphs">OB mitral cells, P11</text>
<text x="55.2" y="416" font-size="10.3" text-anchor="middle" textLength="84" lengthAdjust="spacingAndGlyphs">2P, depth 100 µm</text>
<text x="115.6" y="322.8" font-size="9" text-anchor="middle">1</text>
<text x="115.6" y="342.6" font-size="9" text-anchor="middle">2</text>
<text x="115.6" y="362.6" font-size="9" text-anchor="middle">3</text>
<text x="115.6" y="383.2" font-size="9" text-anchor="middle">4</text>
<text x="115.6" y="403.7" font-size="9" text-anchor="middle">5</text>
<text x="115.6" y="425.2" font-size="9" text-anchor="middle">6</text>
<text x="146.8" y="284.7" font-size="10" text-anchor="middle" textLength="36" lengthAdjust="spacingAndGlyphs">Control</text>
<text x="146.8" y="295.9" font-size="10" text-anchor="middle" textLength="19" lengthAdjust="spacingAndGlyphs">(1st)</text>
<text x="197" y="284.7" font-size="10" text-anchor="middle" textLength="35.5" lengthAdjust="spacingAndGlyphs">SeeDB-</text>
<text x="197" y="295.9" font-size="10" text-anchor="middle" textLength="19.5" lengthAdjust="spacingAndGlyphs">Live</text>
<text x="247.5" y="284.7" font-size="10" text-anchor="middle" textLength="36" lengthAdjust="spacingAndGlyphs">Control</text>
<text x="247.5" y="295.9" font-size="10" text-anchor="middle" textLength="24" lengthAdjust="spacingAndGlyphs">(2nd)</text>
<path d="M126.9 325.78 127.2 325.63 127.5 321.04 127.8 319.35 128.1 321.9 128.4 323.73 128.7 324.28 129.01 324.74 129.31 309.27 129.61 312.94 129.91 318.52 130.21 312.32 130.51 317.65 130.81 320.95 131.11 319.38 131.41 319.91 131.71 322.08 132.01 323.83 132.31 323.99 132.61 310.67 132.92 317.13 133.22 320.85 133.52 322.68 133.82 305.25 134.12 313.71 134.42 318.88 134.72 321.67 135.02 317.85 135.32 321.39 135.62 322.81 135.92 324.21 136.22 314.21 136.52 314.23 136.83 318.64 137.13 321.49 137.43 323.41 137.73 321.63 138.03 315.7 138.33 316.76 138.63 310 138.93 316.34 139.23 311.84 139.53 317.74 139.83 320.98 140.13 322.77 140.43 321.7 140.74 319.37 141.04 321.83 141.34 323.41 141.64 324.31 141.94 316.34 142.24 319.95 142.54 322.54 142.84 311.72 143.14 313.76 143.44 318.89 143.74 321.89 144.04 323.44 144.34 324.47 144.65 319.46 144.95 313.87 145.25 318.76 145.55 321.64 145.85 323.27 146.15 321.77 146.45 316.62 146.75 320.34 147.05 317.43 147.35 318.05 147.65 321.23 147.95 323.25 148.25 321.3 148.55 312.78 148.86 318.02 149.16 321.12 149.46 315.77 149.76 319.85 150.06 322.25 150.36 323.73 150.66 324.67 150.96 324.86 151.26 315.81 151.56 319.94 151.86 317.47 152.16 313.71 152.46 318.86 152.77 321.51 153.07 322.73 153.37 313.48 153.67 318.66 153.97 321.31 154.27 323.03 154.57 323.66 154.87 320.17 155.17 322.44 155.47 323.85 155.77 324.44 156.07 319.91 156.37 321.23 156.68 322.94 156.98 324.36 157.28 316.25 157.58 314.68 157.88 319.12 158.18 321.77 158.48 323.18 158.78 324.17 159.08 323.41 159.38 313.88 159.68 312.11 159.98 317.56 160.28 321.03 160.59 314.52 160.89 319.23 161.19 321.96 161.49 320.04 161.79 309.81 162.09 316.45 162.39 320.36 162.69 315.05 162.99 311.88 163.29 317.66 163.59 320.93 163.89 322.72 164.19 324.06 164.5 312.32 164.8 316.29 165.1 319.28 165.4 321.25 165.7 322.92 166 324.14 166.3 324.87" fill="none" stroke="#333" stroke-width="0.85" stroke-linejoin="round"/>
<path d="M177.4 325.37 177.7 312.76 178 316.96 178.3 320.43 178.6 322.6 178.9 323.67 179.2 313.3 179.51 315.21 179.81 319.34 180.11 322.08 180.41 323.6 180.71 324.17 181.01 324.66 181.31 315.5 181.61 319.56 181.91 321.78 182.21 323.28 182.51 324.4 182.81 313.8 183.11 317.28 183.42 320.6 183.72 314.07 184.02 318.85 184.32 321.58 184.62 323.44 184.92 324.29 185.22 324.97 185.52 325.12 185.82 315.55 186.12 317.67 186.42 320.92 186.72 323.01 187.02 324.17 187.33 324.82 187.63 313.96 187.93 314.75 188.23 319.13 188.53 319.64 188.83 319.95 189.13 322.39 189.43 323.73 189.73 313.69 190.03 313.6 190.33 318.56 190.63 321.34 190.93 323.04 191.24 324.21 191.54 324.59 191.84 320.32 192.14 314.23 192.44 319.12 192.74 321.88 193.04 321.36 193.34 315.35 193.64 319.45 193.94 321.88 194.24 323.1 194.54 314 194.84 319.1 195.15 321.79 195.45 323.45 195.75 319.12 196.05 314.33 196.35 318.9 196.65 321.72 196.95 323.16 197.25 324.23 197.55 324.84 197.85 318.54 198.15 313.94 198.45 318.63 198.75 321.51 199.05 318.65 199.36 321.66 199.66 323.33 199.96 323.95 200.26 324.93 200.56 316.74 200.86 314.31 201.16 319.09 201.46 321.61 201.76 323.15 202.06 324.37 202.36 312.23 202.66 314.92 202.96 319.54 203.27 322.18 203.57 323.71 203.87 315.65 204.17 319.64 204.47 322.26 204.77 323.55 205.07 324.2 205.37 324.9 205.67 324.21 205.97 318.62 206.27 321.29 206.57 312.71 206.87 317.09 207.18 321.02 207.48 322.79 207.78 323.93 208.08 324.58 208.38 323.54 208.68 315.48 208.98 319.45 209.28 321.95 209.58 323.47 209.88 320.35 210.18 316.58 210.48 320.59 210.78 322.46 211.09 324.01 211.39 324.42 211.69 307.42 211.99 314.48 212.29 319.23 212.59 322.01 212.89 323.54 213.19 321.19 213.49 313.27 213.79 318.17 214.09 321.57 214.39 312.08 214.69 311.76 215 317.63 215.3 320.69 215.6 323 215.9 315.1 216.2 316.12 216.5 320.2 216.8 322.25" fill="none" stroke="#333" stroke-width="0.85" stroke-linejoin="round"/>
<path d="M228.2 325.78 228.5 325.48 228.8 325.36 229.1 317.65 229.4 316.99 229.7 320.56 230 314.8 230.31 313.71 230.61 318.63 230.91 319.66 231.21 322.24 231.51 323.61 231.81 324.51 232.11 322.43 232.41 319.39 232.71 322.12 233.01 319.86 233.31 308.4 233.61 315.71 233.91 319.62 234.22 322.35 234.52 323.44 234.82 318.16 235.12 320.3 235.42 319.09 235.72 322.13 236.02 323.38 236.32 324.14 236.62 324.62 236.92 321.78 237.22 320.64 237.52 321.29 237.82 320.08 238.13 322.64 238.43 323.97 238.73 312.73 239.03 318.18 239.33 321.49 239.63 323.14 239.93 314.97 240.23 319.18 240.53 322.08 240.83 316.6 241.13 309.73 241.43 314.63 241.73 314.03 242.04 318.8 242.34 310.76 242.64 314.17 242.94 319.07 243.24 321.61 243.54 315.19 243.84 312.01 244.14 317.47 244.44 317.27 244.74 318.27 245.04 321.37 245.34 322.96 245.64 323.94 245.95 305.97 246.25 313.09 246.55 318.58 246.85 321.46 247.15 313.49 247.45 318.51 247.75 321.38 248.05 317.51 248.35 321.12 248.65 323.16 248.95 310.73 249.25 310.36 249.56 316.81 249.86 320.7 250.16 322.86 250.46 323.64 250.76 308.78 251.06 312.79 251.36 318.13 251.66 310.15 251.96 316.56 252.26 320.56 252.56 313.42 252.86 318.49 253.16 321.31 253.47 317.2 253.77 317.55 254.07 320.96 254.37 322.93 254.67 321.37 254.97 320.12 255.27 322.38 255.57 323.75 255.87 324.4 256.17 324.71 256.47 319.67 256.77 320.93 257.07 322.87 257.38 320.64 257.68 311.64 257.98 316.84 258.28 316.73 258.58 320.59 258.88 322.54 259.18 324.11 259.48 324.7 259.78 322.43 260.08 305.45 260.38 313.99 260.68 313.45 260.98 313.33 261.29 318.6 261.59 321.55 261.89 321.35 262.19 318.07 262.49 321.33 262.79 322.92 263.09 312.15 263.39 317.76 263.69 320.92 263.99 310.76 264.29 313.69 264.59 318.76 264.89 321.66 265.2 310.68 265.5 315.02 265.8 319.39 266.1 315.12 266.4 319.32 266.7 322.09 267 323.26" fill="none" stroke="#333" stroke-width="0.85" stroke-linejoin="round"/>
<path d="M126.9 343.31 127.2 343.14 127.5 343.38 127.8 343.21 128.1 343.33 128.4 335.22 128.7 336.9 129.01 339.78 129.31 341.25 129.61 342.2 129.91 338.73 130.21 340.67 130.51 341.85 130.81 342.21 131.11 335.43 131.41 338.09 131.71 340.23 132.01 341.46 132.31 342.07 132.61 342.68 132.92 342.65 133.22 342.87 133.52 340.64 133.82 340.68 134.12 341.66 134.42 335.25 134.72 336.67 135.02 339.29 135.32 340.95 135.62 342.13 135.92 342.22 136.22 335.84 136.52 338.84 136.83 340.68 137.13 341.91 137.43 342.27 137.73 342.62 138.03 342.19 138.33 335.87 138.63 339.07 138.93 340.7 139.23 341.52 139.53 342.27 139.83 342.51 140.13 343.12 140.43 342.9 140.74 338.93 141.04 338.24 141.34 340.3 141.64 341.61 141.94 338.77 142.24 340.21 142.54 341.5 142.84 342.24 143.14 342.4 143.44 343.01 143.74 343.1 144.04 336.97 144.34 338.44 144.65 340.56 144.95 341.56 145.25 342.37 145.55 337.71 145.85 339.41 146.15 341.2 146.45 341.7 146.75 342.39 147.05 342.78 147.35 341.52 147.65 339.11 147.95 340.94 148.25 341.92 148.55 342.55 148.86 336.56 149.16 339.17 149.46 340.87 149.76 341.97 150.06 342.21 150.36 339.59 150.66 337.76 150.96 339.85 151.26 341.11 151.56 342.11 151.86 342.78 152.16 342.77 152.46 342.98 152.77 343.27 153.07 341.18 153.37 334.7 153.67 338.6 153.97 340.54 154.27 338.23 154.57 339.45 154.87 341.19 155.17 341.87 155.47 342.37 155.77 343 156.07 342.95 156.37 343.21 156.68 342.92 156.98 339.3 157.28 339.69 157.58 340.95 157.88 341.81 158.18 342.68 158.48 342.96 158.78 341.32 159.08 339.93 159.38 341.26 159.68 342.08 159.98 342.27 160.28 342.33 160.59 339.88 160.89 341.33 161.19 342.27 161.49 342.53 161.79 342.54 162.09 334.42 162.39 338.3 162.69 340.03 162.99 341.56 163.29 341.98 163.59 337.97 163.89 338.16 164.19 340.31 164.5 341.27 164.8 341.99 165.1 342.45 165.4 342.78 165.7 343.13 166 332.35 166.3 337.06" fill="none" stroke="#333" stroke-width="0.85" stroke-linejoin="round"/>
<path d="M177.4 343.34 177.7 343.34 178 343.16 178.3 343.01 178.6 336.56 178.9 338.95 179.2 340.81 179.51 342.06 179.81 339.71 180.11 331.82 180.41 336.28 180.71 339.37 181.01 332.82 181.31 337.26 181.61 339.69 181.91 340.99 182.21 341.92 182.51 338.32 182.81 340.16 183.11 341.53 183.42 341.93 183.72 342.7 184.02 333 184.32 336.38 184.62 339.4 184.92 341.16 185.22 335.99 185.52 336.22 185.82 339.27 186.12 341.07 186.42 341.66 186.72 342.48 187.02 338.89 187.33 340.13 187.63 341.08 187.93 342.19 188.23 342.71 188.53 339.75 188.83 337.67 189.13 339.79 189.43 341.49 189.73 342.05 190.03 339.12 190.33 332.54 190.63 337.12 190.93 339.56 191.24 340.96 191.54 341.96 191.84 342.49 192.14 340.93 192.44 338.89 192.74 340.49 193.04 341.54 193.34 342.25 193.64 342.18 193.94 334.29 194.24 337.92 194.54 340.05 194.84 341.33 195.15 340.69 195.45 332.73 195.75 337.15 196.05 339.79 196.35 337.75 196.65 339.7 196.95 340.95 197.25 342.1 197.55 342.58 197.85 342.96 198.15 339.79 198.45 330.81 198.75 335.93 199.05 338.85 199.36 341.02 199.66 339.28 199.96 340.93 200.26 341.96 200.56 342.2 200.86 342.64 201.16 336.57 201.46 334.98 201.76 338.55 202.06 340.48 202.36 341.61 202.66 338.6 202.96 331.98 203.27 336.39 203.57 339.43 203.87 340.96 204.17 342.03 204.47 333.32 204.77 336.81 205.07 329.74 205.37 335.4 205.67 338.39 205.97 340.41 206.27 341.51 206.57 342.47 206.87 335.09 207.18 335.61 207.48 338.73 207.78 340.69 208.08 341.92 208.38 340.84 208.68 332.32 208.98 336.82 209.28 339.54 209.58 341.17 209.88 337.53 210.18 336.57 210.48 339.38 210.78 340.78 211.09 341.85 211.39 342.62 211.69 342.61 211.99 334.3 212.29 335.83 212.59 338.78 212.89 340.39 213.19 341.62 213.49 334.18 213.79 336.69 214.09 336.11 214.39 338.81 214.69 340.89 215 341.8 215.3 342.56 215.6 341 215.9 338.21 216.2 340.24 216.5 341.28 216.8 342.33" fill="none" stroke="#333" stroke-width="0.85" stroke-linejoin="round"/>
<path d="M228.2 343.33 228.5 342.99 228.8 342.92 229.1 342.17 229.4 332.45 229.7 337.07 230 337.83 230.31 334.42 230.61 337.99 230.91 340.34 231.21 341.43 231.51 342.22 231.81 342.5 232.11 342.63 232.41 342.88 232.71 343.22 233.01 339.93 233.31 340.63 233.61 341.74 233.91 342.56 234.22 342.89 234.52 342.75 234.82 333.33 235.12 337.53 235.42 339.78 235.72 331.93 236.02 336.51 236.32 339.54 236.62 340.81 236.92 341.77 237.22 342.62 237.52 340.74 237.82 337.93 238.13 339.93 238.43 341.3 238.73 342.33 239.03 342.44 239.33 342.9 239.63 341.54 239.93 335.23 240.23 338.7 240.53 340.54 240.83 341.61 241.13 342.28 241.43 342.61 241.73 338.85 242.04 340.03 242.34 341.51 242.64 341.82 242.94 342.17 243.24 339.53 243.54 341.16 243.84 341.85 244.14 342.67 244.44 340.89 244.74 337.35 245.04 339.83 245.34 341.13 245.64 341.87 245.95 340.79 246.25 338.48 246.55 340.37 246.85 341.47 247.15 342.25 247.45 342.51 247.75 343.09 248.05 343.13 248.35 343.01 248.65 342.73 248.95 338.81 249.25 340.72 249.56 341.94 249.86 342.41 250.16 339.62 250.46 340.94 250.76 342.05 251.06 342.31 251.36 342.72 251.66 342.97 251.96 342.95 252.26 340.04 252.56 340.53 252.86 341.81 253.16 338.6 253.47 336.04 253.77 338.78 254.07 340.74 254.37 341.8 254.67 342.17 254.97 342.87 255.27 340.1 255.57 337.19 255.87 339.5 256.17 340.89 256.47 341.8 256.77 342.55 257.07 342.52 257.38 337.99 257.68 338.59 257.98 340.52 258.28 341.8 258.58 342.18 258.88 339.97 259.18 340.23 259.48 341.28 259.78 342.21 260.08 342.46 260.38 338.92 260.68 340.94 260.98 341.7 261.29 342.32 261.59 342.71 261.89 342.8 262.19 338.63 262.49 339.77 262.79 341.3 263.09 342.13 263.39 342.67 263.69 342.9 263.99 342.75 264.29 342.78 264.59 343.02 264.89 338.48 265.2 340.59 265.5 339.84 265.8 339.47 266.1 340.88 266.4 342.18 266.7 342.21 267 342.51" fill="none" stroke="#333" stroke-width="0.85" stroke-linejoin="round"/>
<path d="M126.9 362.06 127.2 359.33 127.5 356.37 127.8 358.66 128.1 360.03 128.4 361.02 128.7 361.58 129.01 361.83 129.31 361.88 129.61 361.99 129.91 356.33 130.21 357.05 130.51 359.05 130.81 359.92 131.11 358 131.41 359.64 131.71 361.08 132.01 356.97 132.31 353.57 132.61 357.23 132.92 359.26 133.22 360.63 133.52 361.26 133.82 361.42 134.12 361.75 134.42 360.47 134.72 358.12 135.02 359.73 135.32 360.69 135.62 361.2 135.92 357.3 136.22 355.9 136.52 358.7 136.83 360.18 137.13 361.01 137.43 361.34 137.73 361.52 138.03 358.51 138.33 359.01 138.63 360.52 138.93 358.68 139.23 359.78 139.53 360.83 139.83 361.53 140.13 361.7 140.43 361.96 140.74 359.78 141.04 353.22 141.34 357.08 141.64 358.9 141.94 360.17 142.24 361.12 142.54 361.54 142.84 358.59 143.14 360.09 143.44 361.04 143.74 361.48 144.04 358.79 144.34 360.16 144.65 360.92 144.95 361.72 145.25 357.56 145.55 358.05 145.85 359.54 146.15 360.92 146.45 361.26 146.75 360.99 147.05 357.88 147.35 359.61 147.65 360.84 147.95 361.16 148.25 361.56 148.55 359.8 148.86 357.39 149.16 359.31 149.46 360.74 149.76 361.18 150.06 361.73 150.36 362.09 150.66 362 150.96 360.99 151.26 358.2 151.56 359.85 151.86 361.01 152.16 361.46 152.46 357.28 152.77 358.78 153.07 360.11 153.37 360.83 153.67 357.76 153.97 359.01 154.27 360.39 154.57 360.93 154.87 361.51 155.17 361.65 155.47 362.02 155.77 359.5 156.07 354.1 156.37 357.45 156.68 359.54 156.98 360.62 157.28 361.17 157.58 352.06 157.88 356.67 158.18 358.8 158.48 360.38 158.78 360.88 159.08 359.26 159.38 358.32 159.68 359.84 159.98 360.23 160.28 356.24 160.59 358.55 160.89 360.15 161.19 361.1 161.49 361.67 161.79 361.56 162.09 360.69 162.39 354.2 162.69 357.58 162.99 359.61 163.29 360.8 163.59 361.11 163.89 361.64 164.19 358.52 164.5 355.03 164.8 358.09 165.1 359.73 165.4 360.72 165.7 361.56 166 357.05 166.3 356.42" fill="none" stroke="#333" stroke-width="0.85" stroke-linejoin="round"/>
<path d="M177.4 362.39 177.7 352.39 178 355.29 178.3 358.09 178.6 360.06 178.9 360.83 179.2 361.57 179.51 361.6 179.81 361.84 180.11 360.98 180.41 356.32 180.71 358.79 181.01 360.35 181.31 357.77 181.61 359.66 181.91 360.93 182.21 361.22 182.51 358.46 182.81 358.75 183.11 360.01 183.42 360.88 183.72 361.49 184.02 361.87 184.32 353.86 184.62 354.65 184.92 357.94 185.22 359.78 185.52 360.66 185.82 360.29 186.12 357.97 186.42 359.81 186.72 361 187.02 361.14 187.33 361.78 187.63 361.98 187.93 361.89 188.23 361.87 188.53 354.51 188.83 353.94 189.13 357.42 189.43 358.03 189.73 359.9 190.03 361.05 190.33 361.32 190.63 361.72 190.93 362.1 191.24 362.22 191.54 362.13 191.84 358.83 192.14 357.1 192.44 358.96 192.74 360.51 193.04 356.64 193.34 355.44 193.64 358.1 193.94 360 194.24 360.59 194.54 361.31 194.84 358.38 195.15 359.77 195.45 360.82 195.75 361.29 196.05 361.65 196.35 359.59 196.65 352.72 196.95 356.62 197.25 359.19 197.55 360.13 197.85 355.87 198.15 358.72 198.45 360.29 198.75 361 199.05 361.39 199.36 361.68 199.66 357.99 199.96 351.41 200.26 355.94 200.56 358.73 200.86 360.08 201.16 360.89 201.46 361.34 201.76 357.71 202.06 359.32 202.36 360.29 202.66 360.89 202.96 360.15 203.27 355.46 203.57 358.45 203.87 360.15 204.17 360.81 204.47 361.53 204.77 361.55 205.07 351.77 205.37 354.25 205.67 357.54 205.97 355.51 206.27 353.59 206.57 357.21 206.87 359.44 207.18 360.35 207.48 360.93 207.78 361.48 208.08 360.45 208.38 358.63 208.68 359.87 208.98 360.67 209.28 349.95 209.58 355.02 209.88 358.04 210.18 359.49 210.48 360.22 210.78 356.12 211.09 358.75 211.39 360.34 211.69 360.83 211.99 361.42 212.29 361.93 212.59 361.84 212.89 355.93 213.19 358.49 213.49 360.4 213.79 361.16 214.09 361.29 214.39 361.79 214.69 357.36 215 359.23 215.3 360.52 215.6 360.94 215.9 359.81 216.2 355.06 216.5 358.04 216.8 360.04" fill="none" stroke="#333" stroke-width="0.85" stroke-linejoin="round"/>
<path d="M228.2 362.17 228.5 361.66 228.8 357.87 229.1 359.51 229.4 360.6 229.7 361.38 230 361.69 230.31 361.74 230.61 361.86 230.91 359.58 231.21 360.63 231.51 361.19 231.81 361.63 232.11 361.76 232.41 359.45 232.71 355.78 233.01 358.4 233.31 360.15 233.61 360.75 233.91 361.33 234.22 361.23 234.52 357.9 234.82 359.85 235.12 360.82 235.42 361.43 235.72 361.53 236.02 361.83 236.32 360.87 236.62 358.11 236.92 360.05 237.22 361.04 237.52 356.52 237.82 357.77 238.13 359.43 238.43 360.7 238.73 361.43 239.03 358.71 239.33 356.39 239.63 358.74 239.93 360.16 240.23 360.83 240.53 361.33 240.83 362 241.13 362.15 241.43 362.26 241.73 360.93 242.04 357.76 242.34 359.5 242.64 360.88 242.94 361.46 243.24 359.51 243.54 360.67 243.84 361.5 244.14 361.87 244.44 356.7 244.74 357.91 245.04 359.99 245.34 360.55 245.64 361.55 245.95 361.75 246.25 361.82 246.55 361.84 246.85 360.02 247.15 357.93 247.45 359.69 247.75 360.7 248.05 357.11 248.35 359.03 248.65 360.57 248.95 361.17 249.25 361.47 249.56 361.67 249.86 361.93 250.16 361.94 250.46 362.01 250.76 359.39 251.06 356.62 251.36 358.64 251.66 360.37 251.96 360.85 252.26 358.16 252.56 359.81 252.86 360.65 253.16 361.47 253.47 360.94 253.77 359.68 254.07 360.57 254.37 361.26 254.67 359.91 254.97 355.62 255.27 358.33 255.57 360.03 255.87 360.91 256.17 361.59 256.47 361.9 256.77 361.89 257.07 358.96 257.38 359.37 257.68 360.51 257.98 361.04 258.28 361.59 258.58 361.81 258.88 358.48 259.18 356.01 259.48 358.78 259.78 360.3 260.08 360.79 260.38 361.48 260.68 361.6 260.98 362.14 261.29 358.76 261.59 357.68 261.89 359.93 262.19 360.49 262.49 361.4 262.79 360.57 263.09 358.05 263.39 359.77 263.69 360.89 263.99 361.15 264.29 361.62 264.59 356.18 264.89 358.79 265.2 359.83 265.5 361.07 265.8 361.53 266.1 361.7 266.4 359.84 266.7 360.89 267 361.27" fill="none" stroke="#333" stroke-width="0.85" stroke-linejoin="round"/>
<path d="M126.9 385.07 127.2 385.03 127.5 383.35 127.8 378.42 128.1 381.34 128.4 383.06 128.7 379.82 129.01 382.36 129.31 379.39 129.61 381.24 129.91 383.01 130.21 382.76 130.51 381.09 130.81 382.91 131.11 381.69 131.41 380 131.71 382.06 132.01 373.8 132.31 378.98 132.61 381.74 132.92 383.21 133.22 384.02 133.52 381.33 133.82 381.42 134.12 383.18 134.42 376.36 134.72 380.62 135.02 381.51 135.32 377.34 135.62 381.06 135.92 383.07 136.22 382.02 136.52 379.98 136.83 382.64 137.13 376.15 137.43 380.13 137.73 382.65 138.03 383.65 138.33 384.18 138.63 370.98 138.93 377.8 139.23 381.44 139.53 378.44 139.83 381.61 140.13 383.29 140.43 374.16 140.74 375.56 141.04 380.38 141.34 381.8 141.64 380.55 141.94 382.15 142.24 380.45 142.54 382.73 142.84 383.73 143.14 372.42 143.44 378.7 143.74 381.62 144.04 379.9 144.34 380.3 144.65 382.38 144.95 380.27 145.25 382.66 145.55 383.78 145.85 384.06 146.15 380.51 146.45 372.89 146.75 378.74 147.05 381.52 147.35 381.23 147.65 382.44 147.95 380.05 148.25 382.57 148.55 383.56 148.86 382.45 149.16 380.37 149.46 382.7 149.76 383.46 150.06 376.97 150.36 381.07 150.66 382.88 150.96 381.12 151.26 377.92 151.56 381.33 151.86 382.37 152.16 381.54 152.46 383.33 152.77 383.98 153.07 384.19 153.37 377.13 153.67 380.73 153.97 382.66 154.27 377.95 154.57 373.92 154.87 375.98 155.17 380.15 155.47 382.66 155.77 382.67 156.07 380.76 156.37 382.75 156.68 383.75 156.98 384.19 157.28 372.02 157.58 372.38 157.88 376.61 158.18 380.88 158.48 382.05 158.78 381.23 159.08 383 159.38 382.32 159.68 373.26 159.98 378.67 160.28 381.61 160.59 383.12 160.89 378.16 161.19 378.93 161.49 381.95 161.79 383.42 162.09 379.1 162.39 381.95 162.69 381.72 162.99 382.98 163.29 383.95 163.59 376.34 163.89 379.41 164.19 382.29 164.5 380.46 164.8 382.73 165.1 383.72 165.4 382.77 165.7 381.66 166 383.2 166.3 383.76" fill="none" stroke="#333" stroke-width="0.85" stroke-linejoin="round"/>
<path d="M177.4 385.04 177.7 384.97 178 379 178.3 379.56 178.6 382.44 178.9 378.85 179.2 375.88 179.51 373.54 179.81 376.79 180.11 380.75 180.41 378.34 180.71 381.67 181.01 383.06 181.31 378.36 181.61 380.08 181.91 382.36 182.21 382.54 182.51 375.49 182.81 379.91 183.11 376.41 183.42 379.93 183.72 379.66 184.02 372.25 184.32 378.48 184.62 381.5 184.92 383.2 185.22 377.39 185.52 378.46 185.82 381.78 186.12 375.33 186.42 380.13 186.72 382.16 187.02 376.9 187.33 380.74 187.63 378.33 187.93 377.75 188.23 380.92 188.53 383.18 188.83 370.05 189.13 375.76 189.43 379.97 189.73 382.36 190.03 383.42 190.33 377.26 190.63 380.35 190.93 375.26 191.24 370.39 191.54 377.57 191.84 381.1 192.14 383.09 192.44 379.84 192.74 371.04 193.04 377.51 193.34 381.12 193.64 382.84 193.94 383.85 194.24 368.71 194.54 373.97 194.84 377.1 195.15 373.22 195.45 378.93 195.75 373.01 196.05 378.91 196.35 381.8 196.65 383.16 196.95 378.52 197.25 381.54 197.55 375.81 197.85 373.92 198.15 370.66 198.45 375.4 198.75 379.87 199.05 367.49 199.36 373.07 199.66 379.16 199.96 381.82 200.26 379.79 200.56 376.08 200.86 380.58 201.16 366.2 201.46 373.62 201.76 378.97 202.06 378.63 202.36 381.55 202.66 383.06 202.96 371.56 203.27 372.72 203.57 368.15 203.87 376.1 204.17 380.47 204.47 377.69 204.77 373.42 205.07 379.09 205.37 379.5 205.67 368.13 205.97 376.05 206.27 380.59 206.57 365.03 206.87 374.99 207.18 379.82 207.48 382.09 207.78 378.16 208.08 381.57 208.38 381 208.68 370.72 208.98 372.55 209.28 378.67 209.58 381.67 209.88 379.14 210.18 381.02 210.48 380.5 210.78 376.98 211.09 380.97 211.39 382.84 211.69 383.84 211.99 381.51 212.29 380.03 212.59 381.23 212.89 368.47 213.19 376.44 213.49 372.78 213.79 375.26 214.09 380.04 214.39 381.47 214.69 370.76 215 377.41 215.3 374.15 215.6 370.08 215.9 377.47 216.2 379.07 216.5 379.8 216.8 382.46" fill="none" stroke="#333" stroke-width="0.85" stroke-linejoin="round"/>
<path d="M228.2 384.88 228.5 378.04 228.8 376.96 229.1 380.99 229.4 380.85 229.7 375.14 230 379.92 230.31 382.37 230.61 375.58 230.91 376.93 231.21 380.29 231.51 382.65 231.81 383.49 232.11 377.38 232.41 380.24 232.71 382.44 233.01 383.6 233.31 375.01 233.61 377.67 233.91 377.21 234.22 380.84 234.52 377.99 234.82 378.17 235.12 381.17 235.42 383.03 235.72 383.95 236.02 379.26 236.32 382.1 236.62 378.29 236.92 381.68 237.22 383.3 237.52 378.37 237.82 381.33 238.13 375.52 238.43 380.23 238.73 382.4 239.03 375.91 239.33 378.31 239.63 381.44 239.93 383.25 240.23 380.27 240.53 377.49 240.83 380.94 241.13 377.76 241.43 375.4 241.73 379.86 242.04 382.57 242.34 383.74 242.64 382.54 242.94 377.17 243.24 373.38 243.54 377.07 243.84 381.16 244.14 382.63 244.44 381.5 244.74 378.27 245.04 381.42 245.34 380.21 245.64 381.23 245.95 383.14 246.25 380.55 246.55 381.39 246.85 382.9 247.15 376.27 247.45 374.77 247.75 379.34 248.05 380.82 248.35 382.85 248.65 383.73 248.95 371.78 249.25 377.08 249.56 377.19 249.86 380.39 250.16 382.84 250.46 383.86 250.76 379.18 251.06 380.76 251.36 374.51 251.66 379.74 251.96 382.34 252.26 383.7 252.56 375.28 252.86 379.62 253.16 382.07 253.47 380.34 253.77 382.81 254.07 379.95 254.37 378.27 254.67 381.49 254.97 381.47 255.27 380.58 255.57 378.37 255.87 378.96 256.17 381.52 256.47 383.2 256.77 381.7 257.07 375.38 257.38 379.97 257.68 382.51 257.98 378.73 258.28 380.06 258.58 377.73 258.88 381.27 259.18 382.88 259.48 374.52 259.78 378.83 260.08 381.87 260.38 383.43 260.68 380.24 260.98 382.25 261.29 373.53 261.59 377.53 261.89 381.08 262.19 380.4 262.49 379.05 262.79 378.46 263.09 381.62 263.39 383.34 263.69 383.84 263.99 372.15 264.29 378.44 264.59 377.48 264.89 380.99 265.2 382.86 265.5 381.23 265.8 381.65 266.1 383 266.4 384.12 266.7 382.32 267 378.98" fill="none" stroke="#333" stroke-width="0.85" stroke-linejoin="round"/>
<path d="M126.9 398.79 127.2 396.03 127.5 399.04 127.8 400.5 128.1 401.55 128.4 401.99 128.7 402.38 129.01 400.91 129.31 400.78 129.61 401.88 129.91 402.35 130.21 399.1 130.51 400.36 130.81 401.75 131.11 402.26 131.41 402.51 131.71 399.6 132.01 395.97 132.31 398.93 132.61 396.29 132.92 399.28 133.22 400.82 133.52 401.48 133.82 402.31 134.12 398.59 134.42 400.6 134.72 401.32 135.02 401.95 135.32 398.75 135.62 399.69 135.92 401.23 136.22 401.71 136.52 399.49 136.83 395.22 137.13 398.18 137.43 400.33 137.73 401.4 138.03 401.84 138.33 400.08 138.63 401.25 138.93 401.75 139.23 393.48 139.53 397.25 139.83 399.69 140.13 400.87 140.43 401.84 140.74 401.18 141.04 397.12 141.34 399.71 141.64 401.07 141.94 400.99 142.24 396.62 142.54 399.34 142.84 399.98 143.14 399.32 143.44 400.78 143.74 401.6 144.04 402.16 144.34 400.03 144.65 400.64 144.95 401.46 145.25 402.14 145.55 402.58 145.85 402.63 146.15 400.12 146.45 401.18 146.75 399.46 147.05 397.13 147.35 399.71 147.65 400.88 147.95 401.76 148.25 402.37 148.55 402.69 148.86 400.63 149.16 399.88 149.46 400.91 149.76 401.9 150.06 399.8 150.36 395.69 150.66 398.76 150.96 395.71 151.26 398.91 151.56 400.3 151.86 401.7 152.16 397.53 152.46 399.75 152.77 401.19 153.07 401.97 153.37 399.99 153.67 401.18 153.97 402.03 154.27 402.07 154.57 402.77 154.87 402.76 155.17 398.22 155.47 396.54 155.77 399.08 156.07 398.34 156.37 400.36 156.68 401.52 156.98 402.03 157.28 402.53 157.58 402.83 157.88 396.43 158.18 399.14 158.48 400.88 158.78 396.65 159.08 399.35 159.38 401.04 159.68 401.49 159.98 393.68 160.28 397.56 160.59 400.06 160.89 401.25 161.19 402.14 161.49 402.16 161.79 397.91 162.09 398.11 162.39 400.05 162.69 401.36 162.99 402 163.29 400.92 163.59 399.94 163.89 398.82 164.19 398.08 164.5 400.26 164.8 401.47 165.1 401.96 165.4 402.61 165.7 402.47 166 395.43 166.3 397.01" fill="none" stroke="#333" stroke-width="0.85" stroke-linejoin="round"/>
<path d="M177.4 403.19 177.7 400.08 178 400.34 178.3 401.41 178.6 402.17 178.9 402.61 179.2 401.65 179.51 399.12 179.81 400.78 180.11 401.79 180.41 401.76 180.71 399.54 181.01 400.81 181.31 401.62 181.61 402.31 181.91 402.25 182.21 395.63 182.51 398.36 182.81 399.92 183.11 401.39 183.42 401.69 183.72 402.28 184.02 402.49 184.32 399.15 184.62 394.98 184.92 398.1 185.22 399.4 185.52 400.7 185.82 401.43 186.12 402.36 186.42 402.28 186.72 402.66 187.02 395.86 187.33 396.11 187.63 398.91 187.93 399.66 188.23 401.17 188.53 401.85 188.83 402.29 189.13 399.81 189.43 393.83 189.73 397.84 190.03 399.43 190.33 399.26 190.63 401 190.93 401.85 191.24 402.14 191.54 402.52 191.84 396.98 192.14 396.96 192.44 399.81 192.74 401.25 193.04 399.43 193.34 396.97 193.64 396.31 193.94 395.37 194.24 398.63 194.54 400.56 194.84 401.28 195.15 402.03 195.45 397.06 195.75 395.89 196.05 398.85 196.35 398.02 196.65 400.29 196.95 401.41 197.25 402 197.55 402.52 197.85 402.75 198.15 393.51 198.45 396.51 198.75 399.13 199.05 400.72 199.36 401.66 199.66 399.55 199.96 396.75 200.26 399.6 200.56 400.86 200.86 401.7 201.16 399.09 201.46 400.48 201.76 401.79 202.06 402.35 202.36 402.36 202.66 392.49 202.96 396.85 203.27 399.35 203.57 400.89 203.87 399.27 204.17 400.77 204.47 401.9 204.77 398.43 205.07 400.23 205.37 401.15 205.67 402.17 205.97 401.34 206.27 399.4 206.57 400.66 206.87 401.98 207.18 398.11 207.48 399.92 207.78 401.04 208.08 401.76 208.38 400.49 208.68 399.85 208.98 401.08 209.28 402.12 209.58 396.86 209.88 398.63 210.18 400.65 210.48 401.66 210.78 401.92 211.09 402.45 211.39 399.8 211.69 398.93 211.99 399.2 212.29 398.55 212.59 400.67 212.89 401.5 213.19 400.74 213.49 400.33 213.79 401.42 214.09 402.26 214.39 402.61 214.69 393.63 215 396.72 215.3 399.5 215.6 399.97 215.9 398.06 216.2 400.34 216.5 401.15 216.8 402.26" fill="none" stroke="#333" stroke-width="0.85" stroke-linejoin="round"/>
<path d="M228.2 403.01 228.5 402.8 228.8 403.05 229.1 398.22 229.4 400.06 229.7 399.77 230 401.13 230.31 401.76 230.61 402.51 230.91 402.49 231.21 394.36 231.51 395.23 231.81 398.4 232.11 400.32 232.41 400.81 232.71 394.64 233.01 398.27 233.31 398.18 233.61 395.69 233.91 398.78 234.22 400.34 234.52 395.53 234.82 398.83 235.12 400.31 235.42 399.82 235.72 401.08 236.02 402.07 236.32 402.24 236.62 402.81 236.92 398.57 237.22 394.26 237.52 397.82 237.82 400.09 238.13 399.41 238.43 394.6 238.73 398.35 239.03 399.83 239.33 399.62 239.63 400.91 239.93 401.86 240.23 402.1 240.53 395.04 240.83 398.73 241.13 400.58 241.43 400.25 241.73 393.58 242.04 397.61 242.34 399.75 242.64 396.62 242.94 396.82 243.24 399.65 243.54 400.75 243.84 396.74 244.14 398.48 244.44 400.23 244.74 400.21 245.04 396.62 245.34 399.14 245.64 401.01 245.95 391.93 246.25 394.79 246.55 398.49 246.85 400.48 247.15 400.69 247.45 394.05 247.75 398.05 248.05 399.88 248.35 398.37 248.65 400.57 248.95 401.4 249.25 401.85 249.56 397.76 249.86 398.78 250.16 398.54 250.46 393.77 250.76 397.45 251.06 400.05 251.36 400.11 251.66 394.74 251.96 398.22 252.26 398.99 252.56 394.72 252.86 398.24 253.16 400.2 253.47 401.22 253.77 401.97 254.07 400.83 254.37 395.45 254.67 398.77 254.97 400.24 255.27 396.44 255.57 397.73 255.87 399.61 256.17 400.23 256.47 397.04 256.77 399.67 257.07 393.01 257.38 395.31 257.68 398.38 257.98 400.12 258.28 401.54 258.58 390.83 258.88 395.94 259.18 398.84 259.48 397.82 259.78 400.01 260.08 401.53 260.38 401.89 260.68 396.62 260.98 397.09 261.29 399.52 261.59 399.43 261.89 400.75 262.19 401.64 262.49 402.42 262.79 402.34 263.09 399.05 263.39 400.58 263.69 395.71 263.99 393.81 264.29 397.7 264.59 399.9 264.89 401.19 265.2 401.72 265.5 399.31 265.8 392.86 266.1 396.46 266.4 393.72 266.7 397.54 267 399.63" fill="none" stroke="#333" stroke-width="0.85" stroke-linejoin="round"/>
<path d="M126.9 422.74 127.2 423.51 127.5 417.13 127.8 419.66 128.1 421.38 128.4 420.76 128.7 421.87 129.01 416.88 129.31 419.3 129.61 420.45 129.91 419.14 130.21 421.06 130.51 419.32 130.81 420.45 131.11 422.45 131.41 416.45 131.71 418.03 132.01 420.37 132.31 418.45 132.61 420.07 132.92 415.74 133.22 418.63 133.52 421.01 133.82 420.36 134.12 421.79 134.42 422.51 134.72 417.5 135.02 419.76 135.32 421.23 135.62 419.64 135.92 419.98 136.22 421.66 136.52 418.86 136.83 421.25 137.13 420.31 137.43 421.01 137.73 421.67 138.03 420.25 138.33 421.67 138.63 420.46 138.93 420.76 139.23 421.3 139.53 421.34 139.83 418.57 140.13 420.57 140.43 418.67 140.74 421.02 141.04 422.38 141.34 418.29 141.64 420.52 141.94 422.2 142.24 415.9 142.54 419.32 142.84 417.07 143.14 419.65 143.44 422.05 143.74 420.79 144.04 420.94 144.34 420.58 144.65 420.19 144.95 421.56 145.25 418.81 145.55 420.61 145.85 421.95 146.15 422.9 146.45 416.23 146.75 419.28 147.05 420.77 147.35 421.71 147.65 422.09 147.95 418.38 148.25 420.11 148.55 420.35 148.86 421.41 149.16 416.3 149.46 417.09 149.76 420.38 150.06 419.1 150.36 419.87 150.66 418.59 150.96 417.06 151.26 420.2 151.56 421.44 151.86 421.36 152.16 421.48 152.46 421.61 152.77 416.39 153.07 418.05 153.37 420.74 153.67 418.49 153.97 421.12 154.27 422.41 154.57 420.39 154.87 419.75 155.17 416.81 155.47 417.46 155.77 420.37 156.07 418.63 156.37 419.29 156.68 418 156.98 418.83 157.28 421.49 157.58 421.6 157.88 415.76 158.18 418.93 158.48 419.72 158.78 421.97 159.08 421.95 159.38 420.53 159.68 421.16 159.98 421.9 160.28 419.91 160.59 420.55 160.89 419.73 161.19 420.82 161.49 417.54 161.79 416.97 162.09 420.52 162.39 421.46 162.69 420.9 162.99 422.52 163.29 422.55 163.59 415.97 163.89 418.84 164.19 421.22 164.5 422.18 164.8 417.17 165.1 420.4 165.4 421.82 165.7 422.62 166 418.65 166.3 420.84" fill="none" stroke="#333" stroke-width="0.85" stroke-linejoin="round"/>
<path d="M177.4 422.29 177.7 420.82 178 421.85 178.3 422.16 178.6 420.16 178.9 421.43 179.2 422.14 179.51 420.95 179.81 421.56 180.11 422.19 180.41 417.29 180.71 420.34 181.01 419.33 181.31 418.64 181.61 419.87 181.91 417.28 182.21 419.77 182.51 421.86 182.81 420.8 183.11 421.42 183.42 422.47 183.72 419.21 184.02 420.27 184.32 417.44 184.62 419.13 184.92 421.1 185.22 422.56 185.52 419.31 185.82 419.88 186.12 420.94 186.42 416.93 186.72 418.39 187.02 420.24 187.33 418.67 187.63 420.98 187.93 422.2 188.23 419.94 188.53 416.95 188.83 420.12 189.13 421.43 189.43 422.04 189.73 422.68 190.03 419.08 190.33 419.56 190.63 421.86 190.93 422.38 191.24 421.3 191.54 419.8 191.84 420.95 192.14 420.67 192.44 420.71 192.74 421.57 193.04 421.55 193.34 416.41 193.64 419.14 193.94 420.78 194.24 414.97 194.54 418.46 194.84 420.28 195.15 422.09 195.45 423.06 195.75 423.17 196.05 417.7 196.35 419.77 196.65 420.77 196.95 421.28 197.25 421.87 197.55 420.44 197.85 415.74 198.15 419.13 198.45 417.48 198.75 419.27 199.05 421.72 199.36 417.31 199.66 419.09 199.96 418.08 200.26 418.18 200.56 420.25 200.86 420.79 201.16 416.62 201.46 419.53 201.76 421.58 202.06 419.81 202.36 421.54 202.66 419.13 202.96 421.26 203.27 419.19 203.57 421.42 203.87 422.49 204.17 422.02 204.47 422.73 204.77 419.22 205.07 419.9 205.37 421.01 205.67 422.37 205.97 421.42 206.27 417.81 206.57 420.6 206.87 417.63 207.18 420.15 207.48 419.35 207.78 416.62 208.08 419.79 208.38 421.58 208.68 417.42 208.98 419.83 209.28 421.01 209.58 420.9 209.88 418.01 210.18 420.25 210.48 417.98 210.78 421.18 211.09 421.09 211.39 418.53 211.69 420.47 211.99 422.28 212.29 421.16 212.59 420.01 212.89 420.17 213.19 421.4 213.49 422.26 213.79 415.97 214.09 419.71 214.39 420.77 214.69 419.05 215 421.31 215.3 422.4 215.6 422.89 215.9 419.48 216.2 420.9 216.5 422.02 216.8 422.22" fill="none" stroke="#333" stroke-width="0.85" stroke-linejoin="round"/>
<path d="M228.2 423.48 228.5 422.27 228.8 420.73 229.1 420.58 229.4 421.01 229.7 421.45 230 422.48 230.31 420.16 230.61 421.14 230.91 421.85 231.21 419.19 231.51 419.97 231.81 418.22 232.11 420.5 232.41 422.15 232.71 418.79 233.01 420.89 233.31 422.11 233.61 417.94 233.91 420.6 234.22 421.05 234.52 421.56 234.82 421.18 235.12 421.39 235.42 421.86 235.72 422.5 236.02 417.93 236.32 418.71 236.62 417.8 236.92 420.06 237.22 417.31 237.52 419.55 237.82 421.16 238.13 418.14 238.43 420.37 238.73 422.35 239.03 420.83 239.33 417.74 239.63 420.95 239.93 421 240.23 420.49 240.53 420.15 240.83 421.72 241.13 422.32 241.43 422.73 241.73 418.32 242.04 416.94 242.34 420.57 242.64 421.01 242.94 420.54 243.24 422.34 243.54 423.18 243.84 422.68 244.14 417.69 244.44 418.68 244.74 417.46 245.04 419.89 245.34 420.29 245.64 421.87 245.95 421.98 246.25 422.63 246.55 419.81 246.85 418.01 247.15 419.25 247.45 420.91 247.75 422.33 248.05 417.95 248.35 420.06 248.65 421.59 248.95 419.97 249.25 420.37 249.56 421.05 249.86 422.65 250.16 422.93 250.46 421.64 250.76 419.8 251.06 417.36 251.36 419.92 251.66 422 251.96 422.61 252.26 420.46 252.56 421.63 252.86 416.99 253.16 419.04 253.47 417.49 253.77 420.44 254.07 422.16 254.37 418.72 254.67 419.48 254.97 418.96 255.27 420.64 255.57 421.82 255.87 420.33 256.17 421.39 256.47 422.52 256.77 423.18 257.07 420.63 257.38 417.76 257.68 419.07 257.98 421.19 258.28 415.64 258.58 418.84 258.88 421.41 259.18 420.15 259.48 419.14 259.78 421.53 260.08 421.48 260.38 420.32 260.68 421.64 260.98 420.47 261.29 421.28 261.59 419.6 261.89 421.55 262.19 421.66 262.49 422 262.79 421.59 263.09 419.57 263.39 421.21 263.69 422.63 263.99 422.3 264.29 420.66 264.59 422.15 264.89 421.33 265.2 421.82 265.5 422.91 265.8 421.17 266.1 419.71 266.4 421.05 266.7 422.13 267 422.6" fill="none" stroke="#333" stroke-width="0.85" stroke-linejoin="round"/>
<path d="M260.6 427 270.5 427 270.5 414" fill="none" stroke="#222" stroke-width="0.9"/>
<text x="276" y="417.6" font-size="8.6">ΔF/F<tspan font-size="6" dy="1.5">0</tspan></text>
<text x="276" y="427.9" font-size="8.6" textLength="21" lengthAdjust="spacingAndGlyphs">100%</text>
<text x="259" y="436" font-size="8.6" textLength="17" lengthAdjust="spacingAndGlyphs">50 s</text></g>
<g id="g"><text stroke="#000" stroke-width="0.35" x="311.8" y="281.6" font-size="16" font-weight="bold" fill="#000">g</text>
<line x1="350.2" y1="292.1" x2="350.2" y2="398.3" stroke="#333" stroke-width="0.8"/>
<line x1="350.2" y1="292.5" x2="352.6" y2="292.5" stroke="#333" stroke-width="0.8"/>
<text x="346" y="295.52" font-size="8.4" text-anchor="end" textLength="15.27" lengthAdjust="spacingAndGlyphs">200</text>
<line x1="350.2" y1="315.42" x2="352.6" y2="315.42" stroke="#333" stroke-width="0.8"/>
<line x1="350.2" y1="338.35" x2="352.6" y2="338.35" stroke="#333" stroke-width="0.8"/>
<text x="346" y="341.37" font-size="8.4" text-anchor="end" textLength="15.27" lengthAdjust="spacingAndGlyphs">100</text>
<line x1="350.2" y1="361.27" x2="352.6" y2="361.27" stroke="#333" stroke-width="0.8"/>
<line x1="350.2" y1="384.2" x2="352.6" y2="384.2" stroke="#333" stroke-width="0.8"/>
<text x="346" y="387.22" font-size="8.4" text-anchor="end" textLength="5.09" lengthAdjust="spacingAndGlyphs">0</text>
<line x1="349.8" y1="397.9" x2="454.8" y2="397.9" stroke="#333" stroke-width="0.8"/>
<line x1="362.2" y1="397.9" x2="362.2" y2="394.3" stroke="#333" stroke-width="0.8"/>
<line x1="406" y1="397.9" x2="406" y2="394.3" stroke="#333" stroke-width="0.8"/>
<line x1="450.4" y1="397.9" x2="450.4" y2="394.3" stroke="#333" stroke-width="0.8"/>
<text font-size="10" text-anchor="middle" transform="translate(323.6 345.5) rotate(-90)">Δ<tspan font-style="italic">F</tspan>/<tspan font-style="italic">F</tspan><tspan font-size="6.5" dy="1.6">0</tspan><tspan dy="-1.6"> (%)</tspan></text>
<line x1="360.7" y1="313.2" x2="405.1" y2="313.2" stroke="#8f8f8f" stroke-width="0.9"/>
<text x="383.2" y="309.3" font-size="8.2" text-anchor="middle" textLength="11.2" lengthAdjust="spacingAndGlyphs">NS</text>
<line x1="408.9" y1="313.2" x2="453.9" y2="313.2" stroke="#8f8f8f" stroke-width="0.9"/>
<text x="431.7" y="309.3" font-size="8.2" text-anchor="middle" textLength="11.2" lengthAdjust="spacingAndGlyphs">NS</text>
<path d="M362.2 362.19 406 340.64 450.4 369.07" fill="none" stroke="#c0305a" stroke-width="0.75" stroke-linejoin="round"/>
<rect x="361.3" y="361.29" width="1.8" height="1.8" fill="#c0305a"/>
<rect x="405.1" y="339.74" width="1.8" height="1.8" fill="#c0305a"/>
<rect x="449.5" y="368.17" width="1.8" height="1.8" fill="#c0305a"/>
<path d="M362.2 365.86 406 345.23 450.4 363.57" fill="none" stroke="#f5c242" stroke-width="0.75" stroke-linejoin="round"/>
<rect x="361.3" y="364.96" width="1.8" height="1.8" fill="#f5c242"/>
<rect x="405.1" y="344.33" width="1.8" height="1.8" fill="#f5c242"/>
<rect x="449.5" y="362.67" width="1.8" height="1.8" fill="#f5c242"/>
<path d="M362.2 354.4 406 366.78 450.4 353.02" fill="none" stroke="#3a8fd6" stroke-width="0.75" stroke-linejoin="round"/>
<rect x="361.3" y="353.5" width="1.8" height="1.8" fill="#3a8fd6"/>
<rect x="405.1" y="365.88" width="1.8" height="1.8" fill="#3a8fd6"/>
<rect x="449.5" y="352.12" width="1.8" height="1.8" fill="#3a8fd6"/>
<path d="M362.2 355.77 406 358.98 450.4 357.61" fill="none" stroke="#f08a3c" stroke-width="0.75" stroke-linejoin="round"/>
<rect x="361.3" y="354.87" width="1.8" height="1.8" fill="#f08a3c"/>
<rect x="405.1" y="358.08" width="1.8" height="1.8" fill="#f08a3c"/>
<rect x="449.5" y="356.71" width="1.8" height="1.8" fill="#f08a3c"/>
<path d="M362.2 356.69 406 356.69 450.4 362.19" fill="none" stroke="#f0d040" stroke-width="0.75" stroke-linejoin="round"/>
<rect x="361.3" y="355.79" width="1.8" height="1.8" fill="#f0d040"/>
<rect x="405.1" y="355.79" width="1.8" height="1.8" fill="#f0d040"/>
<rect x="449.5" y="361.29" width="1.8" height="1.8" fill="#f0d040"/>
<path d="M362.2 365.86 406 361.27 450.4 372.74" fill="none" stroke="#7a3fa0" stroke-width="0.75" stroke-linejoin="round"/>
<rect x="361.3" y="364.96" width="1.8" height="1.8" fill="#7a3fa0"/>
<rect x="405.1" y="360.38" width="1.8" height="1.8" fill="#7a3fa0"/>
<rect x="449.5" y="371.84" width="1.8" height="1.8" fill="#7a3fa0"/>
<path d="M362.2 368.15 406 369.53 450.4 370.44" fill="none" stroke="#2a4fa0" stroke-width="0.75" stroke-linejoin="round"/>
<rect x="361.3" y="367.25" width="1.8" height="1.8" fill="#2a4fa0"/>
<rect x="405.1" y="368.63" width="1.8" height="1.8" fill="#2a4fa0"/>
<rect x="449.5" y="369.55" width="1.8" height="1.8" fill="#2a4fa0"/>
<path d="M362.2 371.36 406 364.94 450.4 369.53" fill="none" stroke="#6ab04c" stroke-width="0.75" stroke-linejoin="round"/>
<rect x="361.3" y="370.46" width="1.8" height="1.8" fill="#6ab04c"/>
<rect x="405.1" y="364.04" width="1.8" height="1.8" fill="#6ab04c"/>
<rect x="449.5" y="368.63" width="1.8" height="1.8" fill="#6ab04c"/>
<path d="M362.2 370.44 406 372.74 450.4 368.15" fill="none" stroke="#2aa0a0" stroke-width="0.75" stroke-linejoin="round"/>
<rect x="361.3" y="369.55" width="1.8" height="1.8" fill="#2aa0a0"/>
<rect x="405.1" y="371.84" width="1.8" height="1.8" fill="#2aa0a0"/>
<rect x="449.5" y="367.25" width="1.8" height="1.8" fill="#2aa0a0"/>
<path d="M362.2 375.95 406 377.78 450.4 375.95" fill="none" stroke="#e04040" stroke-width="0.75" stroke-linejoin="round"/>
<rect x="361.3" y="375.05" width="1.8" height="1.8" fill="#e04040"/>
<rect x="405.1" y="376.88" width="1.8" height="1.8" fill="#e04040"/>
<rect x="449.5" y="375.05" width="1.8" height="1.8" fill="#e04040"/>
<path d="M362.2 375.03 406 375.95 450.4 374.11" fill="none" stroke="#f39c12" stroke-width="0.75" stroke-linejoin="round"/>
<rect x="361.3" y="374.13" width="1.8" height="1.8" fill="#f39c12"/>
<rect x="405.1" y="375.05" width="1.8" height="1.8" fill="#f39c12"/>
<rect x="449.5" y="373.21" width="1.8" height="1.8" fill="#f39c12"/>
<path d="M362.2 372.74 406 374.11 450.4 371.36" fill="none" stroke="#8e44ad" stroke-width="0.75" stroke-linejoin="round"/>
<rect x="361.3" y="371.84" width="1.8" height="1.8" fill="#8e44ad"/>
<rect x="405.1" y="373.21" width="1.8" height="1.8" fill="#8e44ad"/>
<rect x="449.5" y="370.46" width="1.8" height="1.8" fill="#8e44ad"/>
<path d="M362.2 363.57 406 363.57 450.4 366.78" fill="none" stroke="#5bc0eb" stroke-width="0.75" stroke-linejoin="round"/>
<rect x="361.3" y="362.67" width="1.8" height="1.8" fill="#5bc0eb"/>
<rect x="405.1" y="362.67" width="1.8" height="1.8" fill="#5bc0eb"/>
<rect x="449.5" y="365.88" width="1.8" height="1.8" fill="#5bc0eb"/>
<path d="M362.2 370.44 406 368.15 450.4 372.74" fill="none" stroke="#b03a8a" stroke-width="0.75" stroke-linejoin="round"/>
<rect x="361.3" y="369.55" width="1.8" height="1.8" fill="#b03a8a"/>
<rect x="405.1" y="367.25" width="1.8" height="1.8" fill="#b03a8a"/>
<rect x="449.5" y="371.84" width="1.8" height="1.8" fill="#b03a8a"/>
<path d="M362.2 358.98 406 370.44 450.4 365.86" fill="none" stroke="#e67e22" stroke-width="0.75" stroke-linejoin="round"/>
<rect x="361.3" y="358.08" width="1.8" height="1.8" fill="#e67e22"/>
<rect x="405.1" y="369.55" width="1.8" height="1.8" fill="#e67e22"/>
<rect x="449.5" y="364.96" width="1.8" height="1.8" fill="#e67e22"/>
<path d="M362.2 374.11 406 371.36 450.4 372.28" fill="none" stroke="#27ae60" stroke-width="0.75" stroke-linejoin="round"/>
<rect x="361.3" y="373.21" width="1.8" height="1.8" fill="#27ae60"/>
<rect x="405.1" y="370.46" width="1.8" height="1.8" fill="#27ae60"/>
<rect x="449.5" y="371.38" width="1.8" height="1.8" fill="#27ae60"/>
<path d="M362.2 367.69 406 362.19 450.4 367.69" fill="none" stroke="#d9534f" stroke-width="0.75" stroke-linejoin="round"/>
<rect x="361.3" y="366.79" width="1.8" height="1.8" fill="#d9534f"/>
<rect x="405.1" y="361.29" width="1.8" height="1.8" fill="#d9534f"/>
<rect x="449.5" y="366.79" width="1.8" height="1.8" fill="#d9534f"/>
<path d="M362.2 364.94 406 375.03 450.4 370.44" fill="none" stroke="#29a9d6" stroke-width="0.75" stroke-linejoin="round"/>
<rect x="361.3" y="364.04" width="1.8" height="1.8" fill="#29a9d6"/>
<rect x="405.1" y="374.13" width="1.8" height="1.8" fill="#29a9d6"/>
<rect x="449.5" y="369.55" width="1.8" height="1.8" fill="#29a9d6"/>
<text x="362.8" y="408.8" font-size="9.3" text-anchor="middle" textLength="29.5" lengthAdjust="spacingAndGlyphs">Control</text>
<text x="362.8" y="419.1" font-size="9.3" text-anchor="middle" textLength="17" lengthAdjust="spacingAndGlyphs">(1st)</text>
<text x="406" y="410.3" font-size="9.3" text-anchor="middle" textLength="28.5" lengthAdjust="spacingAndGlyphs">SeeDB-</text>
<text x="406" y="420.6" font-size="9.3" text-anchor="middle" textLength="15.5" lengthAdjust="spacingAndGlyphs">Live</text>
<text x="450.4" y="408.8" font-size="9.3" text-anchor="middle" textLength="29.5" lengthAdjust="spacingAndGlyphs">Control</text>
<text x="450.4" y="419.1" font-size="9.3" text-anchor="middle" textLength="21" lengthAdjust="spacingAndGlyphs">(2nd)</text></g>
<g id="h"><text stroke="#000" stroke-width="0.35" x="485.5" y="284.7" font-size="16" font-weight="bold" fill="#000">h</text>
<line x1="520.6" y1="292.1" x2="520.6" y2="398.3" stroke="#333" stroke-width="0.8"/>
<line x1="520.6" y1="292.51" x2="523" y2="292.51" stroke="#333" stroke-width="0.8"/>
<text x="516.4" y="295.53" font-size="8.4" text-anchor="end" textLength="12.73" lengthAdjust="spacingAndGlyphs">0.3</text>
<line x1="520.6" y1="310.07" x2="523" y2="310.07" stroke="#333" stroke-width="0.8"/>
<line x1="520.6" y1="327.64" x2="523" y2="327.64" stroke="#333" stroke-width="0.8"/>
<text x="516.4" y="330.66" font-size="8.4" text-anchor="end" textLength="12.73" lengthAdjust="spacingAndGlyphs">0.2</text>
<line x1="520.6" y1="345.2" x2="523" y2="345.2" stroke="#333" stroke-width="0.8"/>
<line x1="520.6" y1="362.77" x2="523" y2="362.77" stroke="#333" stroke-width="0.8"/>
<text x="516.4" y="365.79" font-size="8.4" text-anchor="end" textLength="12.73" lengthAdjust="spacingAndGlyphs">0.1</text>
<line x1="520.6" y1="380.33" x2="523" y2="380.33" stroke="#333" stroke-width="0.8"/>
<line x1="520.6" y1="397.9" x2="523" y2="397.9" stroke="#333" stroke-width="0.8"/>
<text x="516.4" y="400.92" font-size="8.4" text-anchor="end" textLength="5.09" lengthAdjust="spacingAndGlyphs">0</text>
<line x1="520.2" y1="397.9" x2="626" y2="397.9" stroke="#333" stroke-width="0.8"/>
<line x1="533.2" y1="397.9" x2="533.2" y2="394.3" stroke="#333" stroke-width="0.8"/>
<line x1="578.4" y1="397.9" x2="578.4" y2="394.3" stroke="#333" stroke-width="0.8"/>
<line x1="622.8" y1="397.9" x2="622.8" y2="394.3" stroke="#333" stroke-width="0.8"/>
<text font-size="10" text-anchor="middle" textLength="71" lengthAdjust="spacingAndGlyphs" transform="translate(496.2 345.9) rotate(-90)">Frequency (Hz)</text>
<line x1="533.2" y1="313.2" x2="577.6" y2="313.2" stroke="#8f8f8f" stroke-width="0.9"/>
<text x="555.7" y="309.3" font-size="8.2" text-anchor="middle" textLength="11.2" lengthAdjust="spacingAndGlyphs">NS</text>
<line x1="581.4" y1="313.2" x2="626" y2="313.2" stroke="#8f8f8f" stroke-width="0.9"/>
<text x="604" y="309.3" font-size="8.2" text-anchor="middle" textLength="11.2" lengthAdjust="spacingAndGlyphs">NS</text>
<path d="M533.2 359.26 578.4 378.58 622.8 336.42" fill="none" stroke="#c0305a" stroke-width="0.75" stroke-linejoin="round"/>
<rect x="532.3" y="358.36" width="1.8" height="1.8" fill="#c0305a"/>
<rect x="577.5" y="377.68" width="1.8" height="1.8" fill="#c0305a"/>
<rect x="621.9" y="335.52" width="1.8" height="1.8" fill="#c0305a"/>
<path d="M533.2 341.69 578.4 324.13 622.8 329.4" fill="none" stroke="#f5c242" stroke-width="0.75" stroke-linejoin="round"/>
<rect x="532.3" y="340.79" width="1.8" height="1.8" fill="#f5c242"/>
<rect x="577.5" y="323.23" width="1.8" height="1.8" fill="#f5c242"/>
<rect x="621.9" y="328.5" width="1.8" height="1.8" fill="#f5c242"/>
<path d="M533.2 348.72 578.4 348.72 622.8 341.69" fill="none" stroke="#3a8fd6" stroke-width="0.75" stroke-linejoin="round"/>
<rect x="532.3" y="347.82" width="1.8" height="1.8" fill="#3a8fd6"/>
<rect x="577.5" y="347.82" width="1.8" height="1.8" fill="#3a8fd6"/>
<rect x="621.9" y="340.79" width="1.8" height="1.8" fill="#3a8fd6"/>
<path d="M533.2 338.18 578.4 368.04 622.8 336.42" fill="none" stroke="#f08a3c" stroke-width="0.75" stroke-linejoin="round"/>
<rect x="532.3" y="337.28" width="1.8" height="1.8" fill="#f08a3c"/>
<rect x="577.5" y="367.14" width="1.8" height="1.8" fill="#f08a3c"/>
<rect x="621.9" y="335.52" width="1.8" height="1.8" fill="#f08a3c"/>
<path d="M533.2 369.8 578.4 385.6 622.8 361.01" fill="none" stroke="#f0d040" stroke-width="0.75" stroke-linejoin="round"/>
<rect x="532.3" y="368.9" width="1.8" height="1.8" fill="#f0d040"/>
<rect x="577.5" y="384.7" width="1.8" height="1.8" fill="#f0d040"/>
<rect x="621.9" y="360.11" width="1.8" height="1.8" fill="#f0d040"/>
<path d="M533.2 334.67 578.4 332.91 622.8 348.72" fill="none" stroke="#7a3fa0" stroke-width="0.75" stroke-linejoin="round"/>
<rect x="532.3" y="333.77" width="1.8" height="1.8" fill="#7a3fa0"/>
<rect x="577.5" y="332.01" width="1.8" height="1.8" fill="#7a3fa0"/>
<rect x="621.9" y="347.82" width="1.8" height="1.8" fill="#7a3fa0"/>
<path d="M533.2 341.69 578.4 336.42 622.8 346.96" fill="none" stroke="#2a4fa0" stroke-width="0.75" stroke-linejoin="round"/>
<rect x="532.3" y="340.79" width="1.8" height="1.8" fill="#2a4fa0"/>
<rect x="577.5" y="335.52" width="1.8" height="1.8" fill="#2a4fa0"/>
<rect x="621.9" y="346.06" width="1.8" height="1.8" fill="#2a4fa0"/>
<path d="M533.2 355.74 578.4 348.72 622.8 359.26" fill="none" stroke="#6ab04c" stroke-width="0.75" stroke-linejoin="round"/>
<rect x="532.3" y="354.84" width="1.8" height="1.8" fill="#6ab04c"/>
<rect x="577.5" y="347.82" width="1.8" height="1.8" fill="#6ab04c"/>
<rect x="621.9" y="358.36" width="1.8" height="1.8" fill="#6ab04c"/>
<path d="M533.2 346.96 578.4 343.45 622.8 343.45" fill="none" stroke="#2aa0a0" stroke-width="0.75" stroke-linejoin="round"/>
<rect x="532.3" y="346.06" width="1.8" height="1.8" fill="#2aa0a0"/>
<rect x="577.5" y="342.55" width="1.8" height="1.8" fill="#2aa0a0"/>
<rect x="621.9" y="342.55" width="1.8" height="1.8" fill="#2aa0a0"/>
<path d="M533.2 355.74 578.4 392.63 622.8 364.53" fill="none" stroke="#e04040" stroke-width="0.75" stroke-linejoin="round"/>
<rect x="532.3" y="354.84" width="1.8" height="1.8" fill="#e04040"/>
<rect x="577.5" y="391.73" width="1.8" height="1.8" fill="#e04040"/>
<rect x="621.9" y="363.63" width="1.8" height="1.8" fill="#e04040"/>
<path d="M533.2 341.69 578.4 366.28 622.8 334.67" fill="none" stroke="#f39c12" stroke-width="0.75" stroke-linejoin="round"/>
<rect x="532.3" y="340.79" width="1.8" height="1.8" fill="#f39c12"/>
<rect x="577.5" y="365.38" width="1.8" height="1.8" fill="#f39c12"/>
<rect x="621.9" y="333.77" width="1.8" height="1.8" fill="#f39c12"/>
<path d="M533.2 361.01 578.4 355.74 622.8 352.23" fill="none" stroke="#8e44ad" stroke-width="0.75" stroke-linejoin="round"/>
<rect x="532.3" y="360.11" width="1.8" height="1.8" fill="#8e44ad"/>
<rect x="577.5" y="354.84" width="1.8" height="1.8" fill="#8e44ad"/>
<rect x="621.9" y="351.33" width="1.8" height="1.8" fill="#8e44ad"/>
<path d="M533.2 355.74 578.4 343.45 622.8 345.2" fill="none" stroke="#5bc0eb" stroke-width="0.75" stroke-linejoin="round"/>
<rect x="532.3" y="354.84" width="1.8" height="1.8" fill="#5bc0eb"/>
<rect x="577.5" y="342.55" width="1.8" height="1.8" fill="#5bc0eb"/>
<rect x="621.9" y="344.31" width="1.8" height="1.8" fill="#5bc0eb"/>
<path d="M533.2 359.26 578.4 362.77 622.8 359.26" fill="none" stroke="#b03a8a" stroke-width="0.75" stroke-linejoin="round"/>
<rect x="532.3" y="358.36" width="1.8" height="1.8" fill="#b03a8a"/>
<rect x="577.5" y="361.87" width="1.8" height="1.8" fill="#b03a8a"/>
<rect x="621.9" y="358.36" width="1.8" height="1.8" fill="#b03a8a"/>
<path d="M533.2 339.94 578.4 329.4 622.8 325.88" fill="none" stroke="#e67e22" stroke-width="0.75" stroke-linejoin="round"/>
<rect x="532.3" y="339.04" width="1.8" height="1.8" fill="#e67e22"/>
<rect x="577.5" y="328.5" width="1.8" height="1.8" fill="#e67e22"/>
<rect x="621.9" y="324.98" width="1.8" height="1.8" fill="#e67e22"/>
<path d="M533.2 359.26 578.4 376.82 622.8 359.26" fill="none" stroke="#27ae60" stroke-width="0.75" stroke-linejoin="round"/>
<rect x="532.3" y="358.36" width="1.8" height="1.8" fill="#27ae60"/>
<rect x="577.5" y="375.92" width="1.8" height="1.8" fill="#27ae60"/>
<rect x="621.9" y="358.36" width="1.8" height="1.8" fill="#27ae60"/>
<path d="M533.2 355.74 578.4 378.58 622.8 338.18" fill="none" stroke="#d9534f" stroke-width="0.75" stroke-linejoin="round"/>
<rect x="532.3" y="354.84" width="1.8" height="1.8" fill="#d9534f"/>
<rect x="577.5" y="377.68" width="1.8" height="1.8" fill="#d9534f"/>
<rect x="621.9" y="337.28" width="1.8" height="1.8" fill="#d9534f"/>
<path d="M533.2 345.2 578.4 359.26 622.8 329.4" fill="none" stroke="#29a9d6" stroke-width="0.75" stroke-linejoin="round"/>
<rect x="532.3" y="344.31" width="1.8" height="1.8" fill="#29a9d6"/>
<rect x="577.5" y="358.36" width="1.8" height="1.8" fill="#29a9d6"/>
<rect x="621.9" y="328.5" width="1.8" height="1.8" fill="#29a9d6"/>
<text x="533.2" y="408.8" font-size="9.3" text-anchor="middle" textLength="29.5" lengthAdjust="spacingAndGlyphs">Control</text>
<text x="533.2" y="419.1" font-size="9.3" text-anchor="middle" textLength="17" lengthAdjust="spacingAndGlyphs">(1st)</text>
<text x="579" y="410.3" font-size="9.3" text-anchor="middle" textLength="28.5" lengthAdjust="spacingAndGlyphs">SeeDB-</text>
<text x="579" y="420.6" font-size="9.3" text-anchor="middle" textLength="15.5" lengthAdjust="spacingAndGlyphs">Live</text>
<text x="622.8" y="408.8" font-size="9.3" text-anchor="middle" textLength="29.5" lengthAdjust="spacingAndGlyphs">Control</text>
<text x="622.8" y="419.1" font-size="9.3" text-anchor="middle" textLength="21" lengthAdjust="spacingAndGlyphs">(2nd)</text></g>
<g id="i"><text stroke="#000" stroke-width="0.35" x="-0.3" y="466.5" font-size="16" font-weight="bold" fill="#000">i</text>
<text x="149.1" y="464.7" font-size="10" text-anchor="middle" textLength="35.9" lengthAdjust="spacingAndGlyphs">Control</text>
<text x="250.6" y="464.7" font-size="10" text-anchor="middle" textLength="53.4" lengthAdjust="spacingAndGlyphs">SeeDB-Live</text>
<text x="48.2" y="500.6" font-size="10.3" text-anchor="middle" textLength="69" lengthAdjust="spacingAndGlyphs">Thy1-GCaMP6f</text>
<text x="48.2" y="512.6" font-size="10.3" text-anchor="middle" textLength="91" lengthAdjust="spacingAndGlyphs">OB mitral cells, P15</text>
<text x="48.2" y="524.6" font-size="10.3" text-anchor="middle" textLength="84" lengthAdjust="spacingAndGlyphs">2P, depth 100 µm</text>
<g clip-path="url(#clI1)"><g filter="url(#fnI)">
<rect x="97.9" y="467.8" width="102.8" height="94.6" fill="url(#grI1)"/>
<ellipse cx="110" cy="545.5" rx="15" ry="4.5" fill="#3d3d3d" filter="url(#bl2)"/>
<ellipse cx="146" cy="538.5" rx="22" ry="5" fill="#454545" filter="url(#bl2)"/>
<ellipse cx="186" cy="541" rx="13" ry="4.5" fill="#3d3d3d" filter="url(#bl2)"/>
<ellipse cx="179" cy="527" rx="1.2" ry="16" fill="#333333" filter="url(#bl1)" transform="rotate(6 179 527)"/>
<ellipse cx="172" cy="512" rx="1" ry="12" fill="#262626" filter="url(#bl1)" transform="rotate(-12 172 512)"/>
<ellipse cx="150" cy="505" rx="40" ry="14" fill="#1a1a1a" filter="url(#bl4)"/>
</g>
<ellipse cx="99" cy="546" rx="3.2" ry="4.8" fill="url(#cellg)"/>
<ellipse cx="104.5" cy="549" rx="2.88" ry="4" fill="url(#cellm)"/>
<ellipse cx="113" cy="543.5" rx="3.2" ry="3.52" fill="url(#cellm)"/>
<ellipse cx="118" cy="545.5" rx="4.16" ry="4.8" fill="url(#cellg)"/>
<ellipse cx="122.5" cy="541" rx="3.52" ry="4" fill="url(#cellg)"/>
<ellipse cx="130" cy="541" rx="6.4" ry="5.6" fill="url(#cellg)"/>
<ellipse cx="137" cy="538.5" rx="5.6" ry="4.8" fill="url(#cellg)"/>
<ellipse cx="141.5" cy="536.5" rx="4" ry="3.2" fill="url(#cellg)"/>
<ellipse cx="149" cy="537" rx="5.12" ry="5.6" fill="url(#cellg)"/>
<ellipse cx="155.5" cy="537.5" rx="5.6" ry="4.8" fill="url(#cellg)"/>
<ellipse cx="160.5" cy="534" rx="4" ry="3.2" fill="url(#cellg)"/>
<ellipse cx="178.5" cy="541" rx="1.92" ry="5.6" fill="url(#cellm)"/>
<ellipse cx="185.3" cy="541" rx="4.48" ry="5.12" fill="url(#cellg)"/>
<ellipse cx="199.8" cy="540" rx="2.4" ry="4.8" fill="url(#cellm)"/>
<ellipse cx="167" cy="496" rx="2.08" ry="2.08" fill="url(#cellm)"/>
<ellipse cx="126" cy="546" rx="2.4" ry="3.2" fill="url(#cellm)"/>
</g>
<g clip-path="url(#clI2)"><g filter="url(#fnI)">
<rect x="202.9" y="467.8" width="102.1" height="94.6" fill="url(#grI2)"/>
<polygon points="262,467 306,467 306,501 290,487 276,476" fill="#000" filter="url(#bl2)"/>
<ellipse cx="260.7" cy="485" rx="12" ry="11" fill="#333333" filter="url(#bl2)"/>
<ellipse cx="238" cy="501" rx="12" ry="7" fill="#303030" filter="url(#bl2)"/>
<ellipse cx="211" cy="500" rx="9" ry="14" fill="#292929" filter="url(#bl2)"/>
<ellipse cx="290" cy="510" rx="12" ry="9" fill="#1f1f1f" filter="url(#bl2)"/>
<ellipse cx="259.8" cy="521.6" rx="6.5" ry="6" fill="#050505" filter="url(#bl2)"/>
<ellipse cx="254" cy="538" rx="50" ry="5.5" fill="#404040" filter="url(#bl2)"/>
</g>
<ellipse cx="207.3" cy="540" rx="5.44" ry="5.44" fill="url(#cellg)"/>
<ellipse cx="203.5" cy="535" rx="2.4" ry="3.2" fill="url(#cellm)"/>
<ellipse cx="219.5" cy="536.5" rx="2.88" ry="3.52" fill="url(#cellm)"/>
<ellipse cx="229.2" cy="537.5" rx="3.2" ry="3.84" fill="url(#cellm)"/>
<ellipse cx="241.4" cy="540.8" rx="2.24" ry="3.52" fill="url(#cellg)"/>
<ellipse cx="239.7" cy="533.8" rx="3.52" ry="2.56" fill="url(#cellm)"/>
<ellipse cx="251" cy="536" rx="2.88" ry="3.52" fill="url(#cellm)"/>
<ellipse cx="259.8" cy="537" rx="2.88" ry="3.52" fill="url(#cellm)"/>
<ellipse cx="266.8" cy="539" rx="2.88" ry="3.52" fill="url(#cellm)"/>
<ellipse cx="271.2" cy="537.3" rx="2.56" ry="3.2" fill="url(#cellm)"/>
<ellipse cx="273" cy="531.6" rx="1.6" ry="1.6" fill="url(#cellg)"/>
<ellipse cx="276" cy="540.8" rx="1.92" ry="3.2" fill="url(#cellg)"/>
<ellipse cx="287.9" cy="540" rx="5.12" ry="5.44" fill="url(#cellg)"/>
<ellipse cx="294.9" cy="541.7" rx="4.48" ry="4.8" fill="url(#cellg)"/>
<ellipse cx="301.9" cy="541.7" rx="4.16" ry="4.8" fill="url(#cellg)"/>
<ellipse cx="243.2" cy="559.2" rx="2.08" ry="2.08" fill="url(#cellg)"/>
<ellipse cx="259.8" cy="498.5" rx="2.24" ry="5.76" fill="url(#cellg)"/>
<ellipse cx="238.5" cy="502" rx="5.12" ry="2.88" fill="url(#cellg)"/>
<ellipse cx="243" cy="497.5" rx="2.56" ry="2.24" fill="url(#cellm)"/>
<ellipse cx="270.5" cy="480" rx="1.92" ry="5.12" fill="url(#cellg)"/>
<ellipse cx="257" cy="489" rx="1.92" ry="3.52" fill="url(#cellm)"/>
<ellipse cx="250" cy="481" rx="1.92" ry="2.88" fill="url(#cellm)"/>
<ellipse cx="207.5" cy="508" rx="1.92" ry="4.8" fill="url(#cellm)"/>
<ellipse cx="212" cy="497" rx="1.6" ry="4" fill="url(#cellm)"/>
<ellipse cx="204.5" cy="493" rx="1.44" ry="3.2" fill="url(#cellm)"/>
<ellipse cx="222" cy="493" rx="1.6" ry="2.56" fill="url(#cellm)"/>
<ellipse cx="272" cy="494" rx="2.24" ry="2.24" fill="url(#cellm)"/>
<ellipse cx="291" cy="503" rx="1.6" ry="1.92" fill="url(#cellm)"/>
</g>
<text x="103" y="478.2" font-size="8" fill="#fff" textLength="28.9" lengthAdjust="spacingAndGlyphs">+NMDA</text>
<text x="101" y="488.4" font-size="8" fill="#fff" textLength="34.9" lengthAdjust="spacingAndGlyphs">+Glycine</text>
<rect x="98.8" y="565" width="31.8" height="3" fill="#000"/>
<text x="99" y="576.9" font-size="9" textLength="30.8" lengthAdjust="spacingAndGlyphs">100 µm</text>
<text x="308.8" y="519.7" font-size="9" textLength="24" lengthAdjust="spacingAndGlyphs">900%</text>
<rect x="317.3" y="524.5" width="5.9" height="30.2" fill="url(#cbar)"/>
<text font-size="9.2" textLength="24.6" lengthAdjust="spacingAndGlyphs" transform="translate(329.8 527.8) rotate(90)">ΔF/F<tspan font-size="6" dy="2">0</tspan></text>
<text x="313.7" y="564.3" font-size="9" textLength="12.3" lengthAdjust="spacingAndGlyphs">0%</text></g>
<g id="j"><text stroke="#000" stroke-width="0.35" x="348" y="463.4" font-size="16" font-weight="bold" fill="#000">j</text>
<text x="384.7" y="483.2" font-size="9.3" text-anchor="middle" textLength="31" lengthAdjust="spacingAndGlyphs">Control</text>
<text x="460.3" y="483.2" font-size="9.3" text-anchor="middle" textLength="46.5" lengthAdjust="spacingAndGlyphs">SeeDB-Live</text>
<path d="M351.1 535.5 370.5 535 373.5 525 377 508 381 493 383.8 487.3 387 494 391 507 396 518 402 526 409 530 415.3 531 415.3 538.5 405 540.5 395 541.5 385 540 378 538.5 372 538.5 351.1 538.5Z" fill="#dedede" stroke="none" stroke-width="0"/>
<path d="M425.5 535.5 441 535 444 515 447.5 500 452 492 457 489 459.7 487.3 463 490 468.5 494.6 472 503 476 515 480 523.8 485 529 489.8 531 489.8 540 482 545 477.2 545.7 471 540 466 531 461 528.2 454 528.5 449 532 445 538 440 539.5 425.5 539.5Z" fill="#dedede" stroke="none" stroke-width="0"/>
<path d="M351.1 536.82 351.91 537.02 352.72 536.89 353.53 537.05 354.34 537.05 355.15 536.65 355.95 536.6 356.76 537.17 357.57 536.76 358.38 536.73 359.19 537.26 360 536.88 360.81 537.11 361.62 536.84 362.42 536.93 363.23 536.56 364.04 536.88 364.85 537.02 365.65 536.75 366.46 536.88 367.27 536.81 368.08 536.36 368.88 536.83 369.69 536.69 370.5 536.46 371.5 534.97 372.5 534.26 373.38 531.73 374.25 529.65 375.12 527.52 376 525.15 376.8 523.59 377.6 521.53 378.4 520.11 379.2 518.16 380 516.8 380.95 515.82 381.9 514.32 382.85 513.4 383.8 512.5 384.7 513.63 385.6 513.86 386.5 514.59 387.38 515.99 388.25 517.76 389.12 519.3 390 520.9 390.8 522.26 391.6 523.46 392.4 524.88 393.2 525.93 394 527.3 394.83 528 395.67 528.84 396.5 529.37 397.33 529.76 398.17 531 399 531.83 399.86 532.21 400.71 532.41 401.57 532.94 402.43 533.01 403.29 533.87 404.14 534.12 405 534.35 405.83 534.41 406.67 535.18 407.5 535.49 408.33 535.08 409.17 535.79 410 535.74 410.88 535.62 411.77 535.79 412.65 536.19 413.53 536.33 414.42 535.81 415.3 536.28" fill="none" stroke="#111" stroke-width="1.2" stroke-linejoin="round"/>
<path d="M425.5 537.68 426.35 538.11 427.2 537.8 428.05 538.15 428.9 538.18 429.75 537.8 430.6 538.11 431.45 537.59 432.3 537.38 433.15 537.71 434 537.27 434.83 537.32 435.67 537.4 436.5 537.48 437.33 537.09 438.17 536.95 439 537.46 439.83 537 440.67 537.39 441.5 537.28 442.5 533.91 443.5 530.97 444.33 528.01 445.17 525.1 446 522.07 447 519.71 448 517.42 449 515.31 449.85 514 450.7 512.95 451.55 512.15 452.4 510.82 453.3 510.24 454.2 510.08 455.1 509.14 456 508.53 456.93 507.61 457.85 507.34 458.77 506.91 459.7 505.96 460.85 506.98 462 507.59 462.88 507.99 463.75 509.19 464.62 509.88 465.5 510.83 466.38 512.17 467.25 513.99 468.12 515.59 469 516.67 469.8 518.49 470.6 520.72 471.4 522.72 472.2 524.03 473 525.97 473.8 527.36 474.6 528.47 475.4 529.8 476.2 531.07 477 532.41 477.8 533.27 478.6 533.76 479.4 534.51 480.2 535.49 481 535.67 481.8 536.31 482.6 536.68 483.4 536.65 484.2 536.85 485 537.51 485.8 537.17 486.6 537.18 487.4 537.4 488.2 537.64 489 537.27 489.8 537.48" fill="none" stroke="#111" stroke-width="1.2" stroke-linejoin="round"/>
<rect x="370" y="542.8" width="14.7" height="3" fill="#000"/>
<rect x="443" y="542.8" width="14.7" height="3" fill="#000"/>
<text x="376.8" y="556.2" font-size="9" text-anchor="middle" textLength="26" lengthAdjust="spacingAndGlyphs">NMDA</text>
<text x="376.8" y="566.4" font-size="9" text-anchor="middle" textLength="14" lengthAdjust="spacingAndGlyphs">Gly</text>
<text x="451.8" y="556.2" font-size="9" text-anchor="middle" textLength="26" lengthAdjust="spacingAndGlyphs">NMDA</text>
<text x="451.8" y="566.4" font-size="9" text-anchor="middle" textLength="14" lengthAdjust="spacingAndGlyphs">Gly</text>
<path d="M486.9 550.1 497.7 550.1 497.7 539" fill="none" stroke="#222" stroke-width="0.9"/>
<text x="503.3" y="541.6" font-size="8.6">ΔF/F<tspan font-size="6" dy="1.5">0</tspan></text>
<text x="503.5" y="550.9" font-size="8.6" textLength="21.5" lengthAdjust="spacingAndGlyphs">100%</text>
<text x="483.6" y="559.9" font-size="8.6" textLength="21.5" lengthAdjust="spacingAndGlyphs">1 min</text></g>
<g id="k"><text stroke="#000" stroke-width="0.35" x="539.8" y="466.6" font-size="16" font-weight="bold" fill="#000">k</text>
<line x1="574.5" y1="469.1" x2="574.5" y2="548.6" stroke="#333" stroke-width="0.8"/>
<line x1="574.5" y1="538.9" x2="576.9" y2="538.9" stroke="#333" stroke-width="0.8"/>
<text x="570.3" y="541.92" font-size="8.4" text-anchor="end" textLength="5.09" lengthAdjust="spacingAndGlyphs">0</text>
<line x1="574.5" y1="529" x2="576.9" y2="529" stroke="#333" stroke-width="0.8"/>
<line x1="574.5" y1="519.1" x2="576.9" y2="519.1" stroke="#333" stroke-width="0.8"/>
<text x="570.3" y="522.12" font-size="8.4" text-anchor="end" textLength="15.27" lengthAdjust="spacingAndGlyphs">200</text>
<line x1="574.5" y1="509.2" x2="576.9" y2="509.2" stroke="#333" stroke-width="0.8"/>
<line x1="574.5" y1="499.3" x2="576.9" y2="499.3" stroke="#333" stroke-width="0.8"/>
<text x="570.3" y="502.32" font-size="8.4" text-anchor="end" textLength="15.27" lengthAdjust="spacingAndGlyphs">400</text>
<line x1="574.5" y1="489.4" x2="576.9" y2="489.4" stroke="#333" stroke-width="0.8"/>
<line x1="574.5" y1="479.5" x2="576.9" y2="479.5" stroke="#333" stroke-width="0.8"/>
<text x="570.3" y="482.52" font-size="8.4" text-anchor="end" textLength="15.27" lengthAdjust="spacingAndGlyphs">600</text>
<line x1="574.1" y1="548.2" x2="631.8" y2="548.2" stroke="#333" stroke-width="0.8"/>
<line x1="592.7" y1="548.2" x2="592.7" y2="545.4" stroke="#333" stroke-width="0.8"/>
<line x1="619.1" y1="548.2" x2="619.1" y2="545.4" stroke="#333" stroke-width="0.8"/>
<line x1="592" y1="470" x2="620.8" y2="470" stroke="#333" stroke-width="0.8"/>
<text x="603.3" y="468.2" font-size="8.2" text-anchor="middle" textLength="11.2" lengthAdjust="spacingAndGlyphs">NS</text>
<text font-size="10.5" text-anchor="middle" transform="translate(548.3 505.7) rotate(-90)">Δ<tspan font-style="italic">F</tspan>/<tspan font-style="italic">F</tspan><tspan font-size="6.5" dy="1.6">0</tspan></text>
<text x="590.9" y="560.1" font-size="9.3" text-anchor="middle" textLength="29.5" lengthAdjust="spacingAndGlyphs">Control</text>
<text x="623.1" y="560.1" font-size="9.3" text-anchor="middle" textLength="28.5" lengthAdjust="spacingAndGlyphs">SeeDB-</text>
<text x="624" y="570.3" font-size="9.3" text-anchor="middle" textLength="15.5" lengthAdjust="spacingAndGlyphs">Live</text>
<g fill="#c4c4c4"><circle cx="591.08" cy="534.05" r="1.25"/><circle cx="593.97" cy="535.98" r="1.25"/><circle cx="592.14" cy="490.26" r="1.25"/><circle cx="592.74" cy="538.03" r="1.25"/><circle cx="593.78" cy="538.11" r="1.25"/><circle cx="593.34" cy="527.08" r="1.25"/><circle cx="594.9" cy="534.71" r="1.25"/><circle cx="590.22" cy="522.81" r="1.25"/><circle cx="589.77" cy="487.05" r="1.25"/><circle cx="593.45" cy="535.54" r="1.25"/><circle cx="592.96" cy="508.93" r="1.25"/><circle cx="593.07" cy="486.51" r="1.25"/><circle cx="595.3" cy="512.9" r="1.25"/><circle cx="589.43" cy="509.83" r="1.25"/><circle cx="589.67" cy="537.75" r="1.25"/><circle cx="591.1" cy="538.5" r="1.25"/><circle cx="591.77" cy="521.94" r="1.25"/><circle cx="595.84" cy="537.84" r="1.25"/><circle cx="590.33" cy="513.23" r="1.25"/><circle cx="591.83" cy="529.12" r="1.25"/><circle cx="593.11" cy="483.14" r="1.25"/><circle cx="594.69" cy="504.9" r="1.25"/><circle cx="591.37" cy="538.77" r="1.25"/><circle cx="595.89" cy="538.06" r="1.25"/><circle cx="593.82" cy="487.33" r="1.25"/><circle cx="592.4" cy="502.35" r="1.25"/><circle cx="593.14" cy="537.92" r="1.25"/><circle cx="595.56" cy="536.59" r="1.25"/><circle cx="596.28" cy="527.12" r="1.25"/><circle cx="589.44" cy="531.7" r="1.25"/><circle cx="594.8" cy="536.42" r="1.25"/><circle cx="591.85" cy="532.68" r="1.25"/><circle cx="596.09" cy="484.57" r="1.25"/><circle cx="594.29" cy="491.23" r="1.25"/><circle cx="591.02" cy="515.8" r="1.25"/><circle cx="592.23" cy="530.96" r="1.25"/><circle cx="595.41" cy="500.95" r="1.25"/><circle cx="590.39" cy="536.92" r="1.25"/><circle cx="591.25" cy="480.18" r="1.25"/><circle cx="590.2" cy="513.24" r="1.25"/></g>
<g fill="#8a8a8a"><circle cx="594.71" cy="515.72" r="1.25"/><circle cx="591.43" cy="534.92" r="1.25"/><circle cx="595.43" cy="535.22" r="1.25"/><circle cx="589.52" cy="523.98" r="1.25"/><circle cx="589.72" cy="479.19" r="1.25"/><circle cx="594.58" cy="532.47" r="1.25"/><circle cx="592.52" cy="530.36" r="1.25"/><circle cx="595.38" cy="525.49" r="1.25"/><circle cx="592.98" cy="527.39" r="1.25"/><circle cx="591.34" cy="527.77" r="1.25"/><circle cx="592.25" cy="483.02" r="1.25"/><circle cx="590.72" cy="530.63" r="1.25"/><circle cx="590.76" cy="513.97" r="1.25"/><circle cx="593.64" cy="538.62" r="1.25"/><circle cx="595.29" cy="535.31" r="1.25"/><circle cx="593.92" cy="537.96" r="1.25"/><circle cx="595.84" cy="538.38" r="1.25"/><circle cx="594.75" cy="518.09" r="1.25"/></g>
<g fill="#c4c4c4"><circle cx="616.2" cy="524.38" r="1.25"/><circle cx="618.86" cy="516.3" r="1.25"/><circle cx="622.59" cy="507.65" r="1.25"/><circle cx="617.94" cy="536.51" r="1.25"/><circle cx="616.87" cy="522.36" r="1.25"/><circle cx="617.51" cy="516.36" r="1.25"/><circle cx="618.69" cy="498.99" r="1.25"/><circle cx="615.86" cy="511.91" r="1.25"/><circle cx="622.48" cy="484.42" r="1.25"/><circle cx="616.7" cy="484.27" r="1.25"/><circle cx="618.39" cy="523.57" r="1.25"/><circle cx="622.59" cy="536.65" r="1.25"/><circle cx="618.78" cy="503.81" r="1.25"/><circle cx="622.67" cy="497.81" r="1.25"/><circle cx="616.61" cy="506.09" r="1.25"/><circle cx="619.67" cy="497.41" r="1.25"/><circle cx="615.91" cy="505.06" r="1.25"/><circle cx="621.64" cy="513.56" r="1.25"/><circle cx="616.08" cy="533.19" r="1.25"/><circle cx="620.36" cy="535.37" r="1.25"/><circle cx="621.91" cy="526.83" r="1.25"/><circle cx="619.96" cy="510.38" r="1.25"/><circle cx="619.26" cy="510.76" r="1.25"/><circle cx="620.66" cy="491.92" r="1.25"/></g>
<g fill="#8a8a8a"><circle cx="620.34" cy="517.27" r="1.25"/><circle cx="620.91" cy="520.02" r="1.25"/><circle cx="622.69" cy="536.18" r="1.25"/><circle cx="617.03" cy="493.48" r="1.25"/><circle cx="621.84" cy="498.64" r="1.25"/><circle cx="616.64" cy="518.18" r="1.25"/><circle cx="619.9" cy="506.6" r="1.25"/><circle cx="615.56" cy="486.58" r="1.25"/><circle cx="620.28" cy="520.61" r="1.25"/><circle cx="616.33" cy="492.75" r="1.25"/></g>
<line x1="592.7" y1="538.9" x2="592.7" y2="500.4" stroke="#2a2a2a" stroke-width="0.8"/>
<line x1="586.8" y1="520.2" x2="598.6" y2="520.2" stroke="#2a2a2a" stroke-width="0.8"/>
<line x1="590" y1="538.9" x2="595.4" y2="538.9" stroke="#2a2a2a" stroke-width="0.8"/>
<line x1="590" y1="500.4" x2="595.4" y2="500.4" stroke="#2a2a2a" stroke-width="0.8"/>
<line x1="619.1" y1="529.1" x2="619.1" y2="498.3" stroke="#2a2a2a" stroke-width="0.8"/>
<line x1="613.2" y1="514.4" x2="625" y2="514.4" stroke="#2a2a2a" stroke-width="0.8"/>
<line x1="616.4" y1="529.1" x2="621.8" y2="529.1" stroke="#2a2a2a" stroke-width="0.8"/>
<line x1="616.4" y1="498.3" x2="621.8" y2="498.3" stroke="#2a2a2a" stroke-width="0.8"/></g>
<g id="l"><text stroke="#000" stroke-width="0.35" x="-0.3" y="604.6" font-size="16" font-weight="bold" fill="#000">l</text>
<text x="50.2" y="611.2" font-size="10.3" text-anchor="middle" textLength="69" lengthAdjust="spacingAndGlyphs">Thy1-GCaMP6f</text>
<text x="50.2" y="623.4" font-size="10.3" text-anchor="middle" textLength="87" lengthAdjust="spacingAndGlyphs">OB mitral cells, P9</text>
<text x="50.2" y="635.6" font-size="10.3" text-anchor="middle" textLength="84" lengthAdjust="spacingAndGlyphs">2P, depth 150 µm</text>
<text x="137.2" y="620.2" font-size="10" text-anchor="middle" textLength="36" lengthAdjust="spacingAndGlyphs">Control</text>
<text x="137.2" y="632" font-size="10" text-anchor="middle" textLength="34" lengthAdjust="spacingAndGlyphs">(0 min)</text>
<text x="235.5" y="620.2" font-size="10" text-anchor="middle" textLength="54.4" lengthAdjust="spacingAndGlyphs">SeeDB-Live</text>
<text x="235.5" y="632" font-size="10" text-anchor="middle" textLength="34" lengthAdjust="spacingAndGlyphs">(5 min)</text>
<text x="331.2" y="620.2" font-size="10" text-anchor="middle" textLength="54.4" lengthAdjust="spacingAndGlyphs">SeeDB-Live</text>
<text x="331.2" y="632" font-size="10" text-anchor="middle" textLength="39.5" lengthAdjust="spacingAndGlyphs">(10 min)</text>
<text x="426.5" y="620.2" font-size="10" text-anchor="middle" textLength="54.4" lengthAdjust="spacingAndGlyphs">SeeDB-Live</text>
<text x="426.5" y="632" font-size="10" text-anchor="middle" textLength="39.5" lengthAdjust="spacingAndGlyphs">(15 min)</text>
<text x="76.6" y="693.4" font-size="10.3"><tspan font-style="italic">F</tspan><tspan font-size="7.5" dy="2.2">0</tspan></text>
<text x="73.6" y="789.4" font-size="10.3" text-anchor="middle" textLength="19.5" lengthAdjust="spacingAndGlyphs">Max</text>
<text x="73.8" y="802.2" font-size="10.3" text-anchor="middle">Δ<tspan font-style="italic">F</tspan>/<tspan font-style="italic">F</tspan><tspan font-size="7.5" dy="2.2">0</tspan></text>
<g clip-path="url(#clL0)"><g filter="url(#gnL)">
<rect x="91.8" y="640.4" width="95" height="100" fill="url(#grL0)"/>
<ellipse cx="99.7" cy="660.8" rx="7" ry="6" fill="#292929" filter="url(#bl2)"/>
<ellipse cx="115.7" cy="659.4" rx="9" ry="7" fill="#404040" filter="url(#bl2)"/>
<ellipse cx="134.7" cy="652.5" rx="6.5" ry="6" fill="#525252" filter="url(#bl2)"/>
<ellipse cx="150.2" cy="653.5" rx="5.5" ry="6" fill="#4c4c4c" filter="url(#bl2)"/>
<ellipse cx="163.9" cy="655.9" rx="6" ry="5.5" fill="#4c4c4c" filter="url(#bl2)"/>
<ellipse cx="141" cy="663" rx="9" ry="6" fill="#292929" filter="url(#bl2)"/>
</g></g>
<g clip-path="url(#clL1)"><g filter="url(#gnL)">
<rect x="188.6" y="640.4" width="93.7" height="100" fill="url(#grL1)"/>
<ellipse cx="203.3" cy="657" rx="9" ry="7" fill="#575757" filter="url(#bl2)"/>
<ellipse cx="216.5" cy="655" rx="8" ry="7" fill="#5c5c5c" filter="url(#bl2)"/>
<ellipse cx="232.5" cy="653.5" rx="9" ry="7" fill="#707070" filter="url(#bl2)"/>
<ellipse cx="251.5" cy="659" rx="10" ry="8" fill="#707070" filter="url(#bl2)"/>
<ellipse cx="270.5" cy="656.4" rx="10" ry="8" fill="#757575" filter="url(#bl2)"/>
<ellipse cx="222" cy="648" rx="1.5" ry="1.5" fill="#e6e6e6" filter="url(#bl1)"/>
<ellipse cx="238" cy="713.4" rx="1.2" ry="1.6" fill="#e6e6e6" filter="url(#bl1)"/>
<ellipse cx="225" cy="714" rx="8" ry="3" fill="#616161" filter="url(#bl2)"/>
<ellipse cx="250" cy="712" rx="10" ry="3" fill="#4c4c4c" filter="url(#bl2)"/>
</g></g>
<g clip-path="url(#clL2)"><g filter="url(#gnL)">
<rect x="284.2" y="640.4" width="93.7" height="100" fill="url(#grL2)"/>
<ellipse cx="296" cy="659" rx="9" ry="7" fill="#575757" filter="url(#bl2)"/>
<ellipse cx="313" cy="662" rx="8" ry="8" fill="#616161" filter="url(#bl2)"/>
<ellipse cx="329.5" cy="656" rx="7" ry="7" fill="#8c8c8c" filter="url(#bl2)"/>
<ellipse cx="343" cy="658" rx="6" ry="6" fill="#808080" filter="url(#bl2)"/>
<ellipse cx="357" cy="663" rx="8" ry="8" fill="#858585" filter="url(#bl2)"/>
<ellipse cx="296" cy="716" rx="1" ry="4" fill="#cccccc" filter="url(#bl1)"/>
<ellipse cx="333" cy="718" rx="2.5" ry="3" fill="#b2b2b2" filter="url(#bl1)"/>
<ellipse cx="318" cy="716" rx="1" ry="4" fill="#b2b2b2" filter="url(#bl1)"/>
<ellipse cx="360" cy="718" rx="1" ry="3" fill="#b2b2b2" filter="url(#bl1)"/>
<ellipse cx="330" cy="712" rx="35" ry="5" fill="#6b6b6b" filter="url(#bl2)"/>
</g></g>
<g clip-path="url(#clL3)"><g filter="url(#gnL)">
<rect x="379.3" y="640.4" width="94.8" height="100" fill="url(#grL3)"/>
<ellipse cx="393" cy="668" rx="10" ry="10" fill="#5c5c5c" filter="url(#bl2)"/>
<ellipse cx="412" cy="662" rx="7" ry="7" fill="#737373" filter="url(#bl2)"/>
<ellipse cx="432" cy="656" rx="8" ry="8" fill="#8f8f8f" filter="url(#bl2)"/>
<ellipse cx="452" cy="660" rx="8" ry="8" fill="#8a8a8a" filter="url(#bl2)"/>
<ellipse cx="466" cy="668" rx="7" ry="7" fill="#7a7a7a" filter="url(#bl2)"/>
<ellipse cx="392" cy="716" rx="1" ry="5" fill="#d9d9d9" filter="url(#bl1)"/>
<ellipse cx="409" cy="720" rx="1" ry="4" fill="#cccccc" filter="url(#bl1)"/>
<ellipse cx="430" cy="716" rx="1" ry="4" fill="#b2b2b2" filter="url(#bl1)"/>
<ellipse cx="455" cy="720" rx="2" ry="2" fill="#b2b2b2" filter="url(#bl1)"/>
<ellipse cx="428" cy="711" rx="40" ry="6" fill="#757575" filter="url(#bl2)"/>
</g></g>
<g clip-path="url(#clM0)"><g filter="url(#fnL)">
<rect x="91.8" y="742.6" width="95" height="101.4" fill="url(#grM0)"/>
<ellipse cx="110" cy="757.5" rx="7" ry="5" fill="#171717" filter="url(#bl1)"/>
<ellipse cx="135.5" cy="757" rx="7" ry="7" fill="#171717" filter="url(#bl1)"/>
<ellipse cx="151" cy="755" rx="5.5" ry="6" fill="#171717" filter="url(#bl1)"/>
<ellipse cx="164" cy="757.5" rx="5.5" ry="5" fill="#1a1a1a" filter="url(#bl1)"/>
<ellipse cx="98" cy="760" rx="5" ry="3" fill="#1f1f1f" filter="url(#bl1)"/>
<ellipse cx="165" cy="746" rx="26" ry="3.5" fill="#6b6b6b" filter="url(#bl2)"/>
<ellipse cx="125" cy="802" rx="30" ry="10" fill="#3b3b3b" filter="url(#bl2)"/>
</g>
</g>
<g clip-path="url(#clM1)"><g filter="url(#fnL)">
<rect x="188.6" y="742.6" width="93.7" height="101.4" fill="url(#grM1)"/>
<ellipse cx="203" cy="757" rx="6" ry="4" fill="#1a1a1a" filter="url(#bl1)"/>
<ellipse cx="216" cy="755" rx="5" ry="4" fill="#1c1c1c" filter="url(#bl1)"/>
<ellipse cx="232" cy="754" rx="7" ry="4" fill="#141414" filter="url(#bl1)"/>
<ellipse cx="250" cy="757.5" rx="8" ry="7" fill="#131313" filter="url(#bl1)"/>
<ellipse cx="268" cy="757" rx="8.5" ry="7" fill="#131313" filter="url(#bl1)"/>
<ellipse cx="236" cy="806" rx="28" ry="12" fill="#2a2a2a" filter="url(#bl2)"/>
<ellipse cx="228" cy="771" rx="12" ry="9" fill="#4f4f4f" filter="url(#bl2)"/>
</g>
<ellipse cx="228.5" cy="767" rx="2.53" ry="6.32" fill="url(#cello)" transform="rotate(-25 228.5 767)"/>
<ellipse cx="223" cy="763" rx="2.88" ry="1.72" fill="url(#cello)" transform="rotate(20 223 763)"/>
<ellipse cx="215" cy="770.5" rx="2.3" ry="1.49" fill="url(#cello)"/>
<ellipse cx="234" cy="776" rx="1.49" ry="3.45" fill="url(#cello)" transform="rotate(-20 234 776)"/>
<ellipse cx="230" cy="819" rx="3.22" ry="2.3" fill="url(#cello)" transform="rotate(-20 230 819)"/>
<ellipse cx="243" cy="824.5" rx="2.53" ry="3.22" fill="url(#cello)"/>
<ellipse cx="254" cy="815" rx="1.72" ry="1.72" fill="url(#cello)"/>
<ellipse cx="221" cy="812" rx="1.49" ry="2.53" fill="url(#cello)"/>
<ellipse cx="237" cy="820" rx="1.72" ry="1.72" fill="url(#cello)"/>
<ellipse cx="196" cy="772" rx="1.49" ry="1.49" fill="url(#cello)"/>
</g>
<g clip-path="url(#clM2)"><g filter="url(#fnL)">
<rect x="284.2" y="742.6" width="93.7" height="101.4" fill="url(#grM2)"/>
<ellipse cx="293" cy="752" rx="6" ry="3" fill="#212121" filter="url(#bl1)"/>
<ellipse cx="312" cy="754" rx="6" ry="3" fill="#212121" filter="url(#bl1)"/>
<ellipse cx="330" cy="754" rx="6" ry="5" fill="#141414" filter="url(#bl1)"/>
<ellipse cx="343" cy="758" rx="7" ry="6.5" fill="#131313" filter="url(#bl1)"/>
<ellipse cx="357" cy="761" rx="6.5" ry="6" fill="#141414" filter="url(#bl1)"/>
<ellipse cx="330" cy="805" rx="40" ry="12" fill="#2a2a2a" filter="url(#bl2)"/>
<ellipse cx="345" cy="746" rx="18" ry="3" fill="#616161" filter="url(#bl2)"/>
<ellipse cx="314" cy="775" rx="24" ry="10" fill="#575757" filter="url(#bl2)"/>
<ellipse cx="363" cy="781" rx="6" ry="5" fill="#666666" filter="url(#bl1)"/>
</g>
<ellipse cx="318" cy="770" rx="3.68" ry="5.75" fill="url(#cello)"/>
<ellipse cx="322" cy="777" rx="2.88" ry="4.6" fill="url(#cello)"/>
<ellipse cx="300" cy="772" rx="1.49" ry="5.75" fill="url(#cello)" transform="rotate(-35 300 772)"/>
<ellipse cx="306" cy="768" rx="1.38" ry="5.75" fill="url(#cello)" transform="rotate(-35 306 768)"/>
<ellipse cx="312" cy="778" rx="1.49" ry="4.6" fill="url(#cello)" transform="rotate(-20 312 778)"/>
<ellipse cx="292" cy="775" rx="1.72" ry="3.45" fill="url(#cello)" transform="rotate(-30 292 775)"/>
<ellipse cx="332" cy="771" rx="2.3" ry="3.45" fill="url(#cello)"/>
<ellipse cx="340" cy="777" rx="2.3" ry="2.3" fill="url(#cello)"/>
<ellipse cx="364" cy="781" rx="3.68" ry="3.68" fill="url(#cello)"/>
<ellipse cx="327" cy="790" rx="1.38" ry="3.45" fill="url(#cello)"/>
<ellipse cx="287" cy="820.5" rx="2.53" ry="3.45" fill="url(#cello)"/>
<ellipse cx="311" cy="819" rx="1.84" ry="3.45" fill="url(#cello)"/>
<ellipse cx="320" cy="819" rx="1.84" ry="2.88" fill="url(#cello)"/>
<ellipse cx="331" cy="822" rx="1.61" ry="2.88" fill="url(#cello)"/>
<ellipse cx="340" cy="823" rx="1.61" ry="2.88" fill="url(#cello)"/>
<ellipse cx="302" cy="816" rx="1.38" ry="2.88" fill="url(#cello)"/>
</g>
<g clip-path="url(#clM3)"><g filter="url(#fnL)">
<rect x="379.3" y="742.6" width="94.8" height="101.4" fill="url(#grM3)"/>
<ellipse cx="392" cy="758" rx="6" ry="3" fill="#212121" filter="url(#bl1)"/>
<ellipse cx="410" cy="756" rx="5" ry="3" fill="#1f1f1f" filter="url(#bl1)"/>
<ellipse cx="424" cy="757.5" rx="6.5" ry="5.5" fill="#141414" filter="url(#bl1)"/>
<ellipse cx="440" cy="761" rx="7" ry="6.5" fill="#131313" filter="url(#bl1)"/>
<ellipse cx="451" cy="764.5" rx="6" ry="5.5" fill="#141414" filter="url(#bl1)"/>
<ellipse cx="428" cy="806" rx="44" ry="12" fill="#292929" filter="url(#bl2)"/>
<ellipse cx="440" cy="746" rx="22" ry="3" fill="#5c5c5c" filter="url(#bl2)"/>
<ellipse cx="412" cy="775" rx="28" ry="11" fill="#5c5c5c" filter="url(#bl2)"/>
<ellipse cx="462" cy="784" rx="8" ry="6" fill="#6b6b6b" filter="url(#bl1)"/>
</g>
<ellipse cx="417" cy="768" rx="5.75" ry="6.9" fill="url(#cello)"/>
<ellipse cx="410" cy="778" rx="3.45" ry="4.6" fill="url(#cello)"/>
<ellipse cx="399" cy="775" rx="1.72" ry="5.75" fill="url(#cello)" transform="rotate(-30 399 775)"/>
<ellipse cx="390" cy="777" rx="2.88" ry="2.88" fill="url(#cello)"/>
<ellipse cx="383" cy="783" rx="2.3" ry="2.88" fill="url(#cello)"/>
<ellipse cx="425" cy="780" rx="2.88" ry="4.02" fill="url(#cello)"/>
<ellipse cx="443" cy="785" rx="5.17" ry="3.45" fill="url(#cello)"/>
<ellipse cx="464" cy="783" rx="4.6" ry="4.6" fill="url(#cello)"/>
<ellipse cx="432" cy="775" rx="2.3" ry="2.3" fill="url(#cello)"/>
<ellipse cx="405" cy="788" rx="1.72" ry="3.45" fill="url(#cello)"/>
<ellipse cx="381.5" cy="820" rx="2.53" ry="3.68" fill="url(#cello)"/>
<ellipse cx="407" cy="819" rx="2.99" ry="3.68" fill="url(#cello)"/>
<ellipse cx="417" cy="818.5" rx="1.72" ry="2.53" fill="url(#cello)"/>
<ellipse cx="427" cy="820" rx="1.72" ry="2.53" fill="url(#cello)"/>
<ellipse cx="436" cy="821" rx="2.3" ry="3.68" fill="url(#cello)"/>
<ellipse cx="393" cy="822" rx="1.72" ry="2.53" fill="url(#cello)"/>
<ellipse cx="414" cy="810" rx="1.38" ry="2.88" fill="url(#cello)"/>
<ellipse cx="448" cy="815" rx="1.38" ry="1.72" fill="url(#cello)"/>
</g>
<rect x="95.4" y="829" width="27.6" height="3.6" fill="#fff"/>
<text x="95.2" y="841.7" font-size="9" fill="#fff" textLength="31.5" lengthAdjust="spacingAndGlyphs">100 µm</text>
<line x1="91.8" y1="853.1" x2="470" y2="853.1" stroke="#111" stroke-width="1.1"/>
<path d="M474.6 853.1 468.6 850.6 468.6 855.6Z" fill="#111" stroke="none" stroke-width="0"/>
<text x="273.8" y="866" font-size="10.3" text-anchor="middle" textLength="22.5" lengthAdjust="spacingAndGlyphs">Time</text>
<text x="476.3" y="806.2" font-size="9" textLength="23.3" lengthAdjust="spacingAndGlyphs">600%</text>
<rect x="481.7" y="810.1" width="5.8" height="23.8" fill="url(#cbar2)"/>
<text x="479.3" y="844.5" font-size="9" textLength="18" lengthAdjust="spacingAndGlyphs">50%</text></g>
<g id="m"><text stroke="#000" stroke-width="0.35" x="515.6" y="602.5" font-size="16" font-weight="bold" fill="#000">m</text>
<line x1="540.5" y1="611.9" x2="540.5" y2="700.8" stroke="#333" stroke-width="0.8"/>
<line x1="540.5" y1="700.4" x2="542.9" y2="700.4" stroke="#333" stroke-width="0.8"/>
<text x="536.3" y="703.42" font-size="8.4" text-anchor="end" textLength="5.09" lengthAdjust="spacingAndGlyphs">0</text>
<line x1="540.5" y1="678.38" x2="542.9" y2="678.38" stroke="#333" stroke-width="0.8"/>
<text x="536.3" y="681.4" font-size="8.4" text-anchor="end" textLength="5.09" lengthAdjust="spacingAndGlyphs">2</text>
<line x1="540.5" y1="656.36" x2="542.9" y2="656.36" stroke="#333" stroke-width="0.8"/>
<text x="536.3" y="659.38" font-size="8.4" text-anchor="end" textLength="5.09" lengthAdjust="spacingAndGlyphs">4</text>
<line x1="540.5" y1="634.34" x2="542.9" y2="634.34" stroke="#333" stroke-width="0.8"/>
<text x="536.3" y="637.36" font-size="8.4" text-anchor="end" textLength="5.09" lengthAdjust="spacingAndGlyphs">6</text>
<line x1="540.5" y1="612.32" x2="542.9" y2="612.32" stroke="#333" stroke-width="0.8"/>
<text x="536.3" y="615.34" font-size="8.4" text-anchor="end" textLength="5.09" lengthAdjust="spacingAndGlyphs">8</text>
<line x1="540.1" y1="700.4" x2="633.7" y2="700.4" stroke="#333" stroke-width="0.8"/>
<line x1="550.2" y1="700.4" x2="550.2" y2="698.1" stroke="#333" stroke-width="0.8"/>
<text x="550.2" y="712.4" font-size="9" text-anchor="middle">0</text>
<line x1="574.7" y1="700.4" x2="574.7" y2="698.1" stroke="#333" stroke-width="0.8"/>
<text x="574.7" y="712.4" font-size="9" text-anchor="middle">5</text>
<line x1="599.4" y1="700.4" x2="599.4" y2="698.1" stroke="#333" stroke-width="0.8"/>
<text x="599.4" y="712.4" font-size="9" text-anchor="middle">10</text>
<line x1="624" y1="700.4" x2="624" y2="698.1" stroke="#333" stroke-width="0.8"/>
<text x="624" y="712.4" font-size="9" text-anchor="middle">15</text>
<text x="587.8" y="727.4" font-size="10.3" text-anchor="middle" textLength="50.5" lengthAdjust="spacingAndGlyphs">Time (min)</text>
<text font-size="10.3" text-anchor="middle" transform="translate(523.6 656) rotate(-90)">Normalized <tspan font-style="italic">F</tspan><tspan font-size="6.5" dy="1.6">0</tspan></text>
<line x1="550.2" y1="604.5" x2="624" y2="604.5" stroke="#555" stroke-width="0.8"/>
<text x="585.6" y="605.5" font-size="12" text-anchor="middle" textLength="16.2" lengthAdjust="spacingAndGlyphs">***</text>
<line x1="550.2" y1="614.4" x2="600.9" y2="614.4" stroke="#555" stroke-width="0.8"/>
<text x="574.05" y="615.4" font-size="12" text-anchor="middle" textLength="16.2" lengthAdjust="spacingAndGlyphs">***</text>
<line x1="550.2" y1="627.3" x2="575.4" y2="627.3" stroke="#555" stroke-width="0.8"/>
<text x="560" y="624.6" font-size="8.2" text-anchor="middle" textLength="11" lengthAdjust="spacingAndGlyphs">NS</text>
<g fill="#b6b6b6"><circle cx="550.32" cy="688.04" r="1.2"/><circle cx="550.42" cy="686.14" r="1.2"/><circle cx="550.41" cy="686.75" r="1.2"/><circle cx="550.18" cy="694.58" r="1.2"/><circle cx="550.27" cy="684.51" r="1.2"/><circle cx="550.01" cy="684.98" r="1.2"/><circle cx="550.07" cy="689.73" r="1.2"/><circle cx="550.24" cy="688.91" r="1.2"/><circle cx="550.06" cy="694.75" r="1.2"/><circle cx="550.41" cy="691.82" r="1.2"/><circle cx="550.03" cy="686.46" r="1.2"/><circle cx="550.02" cy="686.12" r="1.2"/><circle cx="550.01" cy="688.1" r="1.2"/><circle cx="550.39" cy="694.88" r="1.2"/><circle cx="550.06" cy="692.59" r="1.2"/><circle cx="550.39" cy="684.08" r="1.2"/><circle cx="550.43" cy="691.71" r="1.2"/><circle cx="550.29" cy="688.96" r="1.2"/><circle cx="550.42" cy="692.64" r="1.2"/><circle cx="550.43" cy="687.29" r="1.2"/><circle cx="550.1" cy="685.05" r="1.2"/><circle cx="550.03" cy="690.92" r="1.2"/><circle cx="549.98" cy="693.29" r="1.2"/><circle cx="550.25" cy="691.58" r="1.2"/><circle cx="550.29" cy="694.86" r="1.2"/><circle cx="550.1" cy="691.17" r="1.2"/><circle cx="550.19" cy="685.88" r="1.2"/><circle cx="550.19" cy="691.42" r="1.2"/><circle cx="549.98" cy="687.14" r="1.2"/><circle cx="549.96" cy="684.16" r="1.2"/><circle cx="550.32" cy="681.13" r="1.2"/></g>
<g fill="#b6b6b6"><circle cx="574.46" cy="676.88" r="1.2"/><circle cx="574.63" cy="677.95" r="1.2"/><circle cx="574.45" cy="681.86" r="1.2"/><circle cx="574.54" cy="691.82" r="1.2"/><circle cx="574.55" cy="674.81" r="1.2"/><circle cx="574.91" cy="678.55" r="1.2"/><circle cx="574.62" cy="675.06" r="1.2"/><circle cx="574.71" cy="686.05" r="1.2"/><circle cx="574.5" cy="678.18" r="1.2"/><circle cx="574.85" cy="678.69" r="1.2"/><circle cx="574.47" cy="676.6" r="1.2"/><circle cx="574.5" cy="674.99" r="1.2"/><circle cx="574.76" cy="686.32" r="1.2"/><circle cx="574.62" cy="675.51" r="1.2"/><circle cx="574.72" cy="675.39" r="1.2"/><circle cx="574.61" cy="686.84" r="1.2"/><circle cx="574.49" cy="689.37" r="1.2"/><circle cx="574.79" cy="689.91" r="1.2"/><circle cx="574.53" cy="674.04" r="1.2"/><circle cx="574.94" cy="691.78" r="1.2"/><circle cx="574.65" cy="682.71" r="1.2"/><circle cx="574.75" cy="688.25" r="1.2"/><circle cx="574.68" cy="677.23" r="1.2"/><circle cx="574.48" cy="684.8" r="1.2"/><circle cx="574.47" cy="675.55" r="1.2"/><circle cx="574.87" cy="683.45" r="1.2"/><circle cx="574.82" cy="690.25" r="1.2"/><circle cx="574.77" cy="674.92" r="1.2"/><circle cx="574.5" cy="677.94" r="1.2"/><circle cx="574.52" cy="684.56" r="1.2"/><circle cx="574.6" cy="676.88" r="1.2"/><circle cx="574.95" cy="684.21" r="1.2"/><circle cx="574.94" cy="676.74" r="1.2"/><circle cx="574.69" cy="684.2" r="1.2"/><circle cx="574.69" cy="679.04" r="1.2"/><circle cx="574.65" cy="687.25" r="1.2"/><circle cx="574.64" cy="689.95" r="1.2"/><circle cx="574.93" cy="674.19" r="1.2"/><circle cx="574.7" cy="680.96" r="1.2"/><circle cx="574.49" cy="686.36" r="1.2"/><circle cx="574.59" cy="668.47" r="1.2"/><circle cx="574.84" cy="666.27" r="1.2"/><circle cx="574.88" cy="662.97" r="1.2"/><circle cx="574.63" cy="653.06" r="1.2"/></g>
<g fill="#b6b6b6"><circle cx="599.54" cy="667.36" r="1.2"/><circle cx="599.48" cy="670.18" r="1.2"/><circle cx="599.33" cy="668.17" r="1.2"/><circle cx="599.29" cy="669.87" r="1.2"/><circle cx="599.53" cy="676.62" r="1.2"/><circle cx="599.3" cy="670.29" r="1.2"/><circle cx="599.47" cy="662.44" r="1.2"/><circle cx="599.16" cy="673.69" r="1.2"/><circle cx="599.28" cy="674.73" r="1.2"/><circle cx="599.38" cy="670.89" r="1.2"/><circle cx="599.47" cy="666.42" r="1.2"/><circle cx="599.32" cy="667" r="1.2"/><circle cx="599.52" cy="671.74" r="1.2"/><circle cx="599.33" cy="666.06" r="1.2"/><circle cx="599.58" cy="665.61" r="1.2"/><circle cx="599.64" cy="670.37" r="1.2"/><circle cx="599.41" cy="662.1" r="1.2"/><circle cx="599.23" cy="675.27" r="1.2"/><circle cx="599.62" cy="665.8" r="1.2"/><circle cx="599.5" cy="676.88" r="1.2"/><circle cx="599.52" cy="669.41" r="1.2"/><circle cx="599.54" cy="686.29" r="1.2"/><circle cx="599.48" cy="673.69" r="1.2"/><circle cx="599.46" cy="678.62" r="1.2"/><circle cx="599.47" cy="667.71" r="1.2"/><circle cx="599.16" cy="669.38" r="1.2"/><circle cx="599.37" cy="686.66" r="1.2"/><circle cx="599.26" cy="671.55" r="1.2"/><circle cx="599.47" cy="670.45" r="1.2"/><circle cx="599.39" cy="690.3" r="1.2"/><circle cx="599.18" cy="684.62" r="1.2"/><circle cx="599.31" cy="687.48" r="1.2"/><circle cx="599.25" cy="686" r="1.2"/><circle cx="599.38" cy="690.49" r="1.2"/><circle cx="599.46" cy="679.87" r="1.2"/><circle cx="599.27" cy="673.4" r="1.2"/><circle cx="599.15" cy="663.75" r="1.2"/><circle cx="599.29" cy="679.1" r="1.2"/><circle cx="599.21" cy="678.95" r="1.2"/><circle cx="599.34" cy="665.96" r="1.2"/><circle cx="599.46" cy="690.48" r="1.2"/><circle cx="599.42" cy="688.67" r="1.2"/><circle cx="599.44" cy="681.13" r="1.2"/><circle cx="599.56" cy="662.05" r="1.2"/><circle cx="599.56" cy="678.67" r="1.2"/><circle cx="599.33" cy="671.79" r="1.2"/><circle cx="599.45" cy="687.21" r="1.2"/><circle cx="599.63" cy="674.21" r="1.2"/><circle cx="599.45" cy="661.75" r="1.2"/><circle cx="599.6" cy="680.77" r="1.2"/><circle cx="599.15" cy="657.46" r="1.2"/><circle cx="599.2" cy="654.16" r="1.2"/><circle cx="599.43" cy="650.86" r="1.2"/><circle cx="599.46" cy="648.65" r="1.2"/><circle cx="599.22" cy="637.64" r="1.2"/></g>
<g fill="#b6b6b6"><circle cx="624.2" cy="664.16" r="1.2"/><circle cx="623.97" cy="674.77" r="1.2"/><circle cx="623.9" cy="681.02" r="1.2"/><circle cx="623.94" cy="649.81" r="1.2"/><circle cx="624.21" cy="650.28" r="1.2"/><circle cx="623.88" cy="665.56" r="1.2"/><circle cx="624" cy="649.45" r="1.2"/><circle cx="623.91" cy="673.11" r="1.2"/><circle cx="624" cy="649.31" r="1.2"/><circle cx="623.99" cy="678.51" r="1.2"/><circle cx="624.06" cy="685.39" r="1.2"/><circle cx="623.9" cy="671.94" r="1.2"/><circle cx="624.16" cy="657.79" r="1.2"/><circle cx="624.02" cy="689.94" r="1.2"/><circle cx="624.22" cy="679.04" r="1.2"/><circle cx="623.87" cy="657.78" r="1.2"/><circle cx="623.83" cy="679.29" r="1.2"/><circle cx="623.9" cy="649.12" r="1.2"/><circle cx="623.99" cy="665.05" r="1.2"/><circle cx="624.05" cy="663.51" r="1.2"/><circle cx="623.81" cy="659.39" r="1.2"/><circle cx="623.9" cy="658.68" r="1.2"/><circle cx="623.92" cy="668.17" r="1.2"/><circle cx="624.01" cy="678.07" r="1.2"/><circle cx="623.93" cy="671.06" r="1.2"/><circle cx="624.05" cy="659.32" r="1.2"/><circle cx="623.88" cy="688.97" r="1.2"/><circle cx="624.21" cy="671.43" r="1.2"/><circle cx="624.02" cy="653.34" r="1.2"/><circle cx="624.14" cy="689.88" r="1.2"/><circle cx="624.04" cy="672.6" r="1.2"/><circle cx="624.07" cy="660.86" r="1.2"/><circle cx="624.21" cy="670.33" r="1.2"/><circle cx="623.95" cy="674.36" r="1.2"/><circle cx="623.85" cy="654.85" r="1.2"/><circle cx="624.17" cy="678.09" r="1.2"/><circle cx="624.17" cy="687.73" r="1.2"/><circle cx="623.97" cy="661.43" r="1.2"/><circle cx="624.14" cy="678.51" r="1.2"/><circle cx="623.82" cy="652.39" r="1.2"/><circle cx="624.02" cy="670.48" r="1.2"/><circle cx="623.92" cy="669.67" r="1.2"/><circle cx="624.04" cy="684.07" r="1.2"/><circle cx="623.78" cy="656.53" r="1.2"/><circle cx="624.16" cy="680.87" r="1.2"/><circle cx="624.08" cy="657.37" r="1.2"/><circle cx="624.11" cy="689.42" r="1.2"/><circle cx="624.25" cy="649.54" r="1.2"/><circle cx="623.77" cy="661.15" r="1.2"/><circle cx="623.86" cy="655.26" r="1.2"/><circle cx="624.23" cy="663.47" r="1.2"/><circle cx="623.82" cy="660.68" r="1.2"/><circle cx="624.21" cy="678.25" r="1.2"/><circle cx="624.06" cy="684.23" r="1.2"/><circle cx="623.83" cy="673.17" r="1.2"/><circle cx="624.06" cy="644.25" r="1.2"/><circle cx="623.77" cy="640.95" r="1.2"/><circle cx="623.8" cy="637.64" r="1.2"/><circle cx="623.94" cy="628.84" r="1.2"/><circle cx="623.79" cy="624.43" r="1.2"/></g>
<path d="M550.2 689.39 574.7 683.33 599.4 677.28 624 671.22" fill="none" stroke="#111" stroke-width="1.1" stroke-linejoin="round"/></g>
<g id="n"><text stroke="#000" stroke-width="0.35" x="515.6" y="744.8" font-size="16" font-weight="bold" fill="#000">n</text>
<line x1="540.5" y1="755.3" x2="540.5" y2="843.9" stroke="#333" stroke-width="0.8"/>
<line x1="540.5" y1="843.5" x2="542.9" y2="843.5" stroke="#333" stroke-width="0.8"/>
<text x="536.3" y="846.52" font-size="8.4" text-anchor="end" textLength="5.09" lengthAdjust="spacingAndGlyphs">0</text>
<line x1="540.5" y1="825.94" x2="542.9" y2="825.94" stroke="#333" stroke-width="0.8"/>
<text x="536.3" y="828.96" font-size="8.4" text-anchor="end" textLength="5.09" lengthAdjust="spacingAndGlyphs">1</text>
<line x1="540.5" y1="808.38" x2="542.9" y2="808.38" stroke="#333" stroke-width="0.8"/>
<text x="536.3" y="811.4" font-size="8.4" text-anchor="end" textLength="5.09" lengthAdjust="spacingAndGlyphs">2</text>
<line x1="540.5" y1="790.82" x2="542.9" y2="790.82" stroke="#333" stroke-width="0.8"/>
<text x="536.3" y="793.84" font-size="8.4" text-anchor="end" textLength="5.09" lengthAdjust="spacingAndGlyphs">3</text>
<line x1="540.5" y1="773.26" x2="542.9" y2="773.26" stroke="#333" stroke-width="0.8"/>
<text x="536.3" y="776.28" font-size="8.4" text-anchor="end" textLength="5.09" lengthAdjust="spacingAndGlyphs">4</text>
<line x1="540.5" y1="755.7" x2="542.9" y2="755.7" stroke="#333" stroke-width="0.8"/>
<text x="536.3" y="758.72" font-size="8.4" text-anchor="end" textLength="5.09" lengthAdjust="spacingAndGlyphs">5</text>
<line x1="540.1" y1="843.5" x2="633.7" y2="843.5" stroke="#333" stroke-width="0.8"/>
<line x1="550.2" y1="843.5" x2="550.2" y2="841.2" stroke="#333" stroke-width="0.8"/>
<text x="550.2" y="855.8" font-size="9" text-anchor="middle">0</text>
<line x1="574.7" y1="843.5" x2="574.7" y2="841.2" stroke="#333" stroke-width="0.8"/>
<text x="574.7" y="855.8" font-size="9" text-anchor="middle">5</text>
<line x1="599.4" y1="843.5" x2="599.4" y2="841.2" stroke="#333" stroke-width="0.8"/>
<text x="599.4" y="855.8" font-size="9" text-anchor="middle">10</text>
<line x1="624" y1="843.5" x2="624" y2="841.2" stroke="#333" stroke-width="0.8"/>
<text x="624" y="855.8" font-size="9" text-anchor="middle">15</text>
<text x="587.8" y="871.3" font-size="10.3" text-anchor="middle" textLength="50.5" lengthAdjust="spacingAndGlyphs">Time (min)</text>
<text font-size="10.3" text-anchor="middle" transform="translate(523.6 799.8) rotate(-90)">Normalized Δ<tspan font-style="italic">F</tspan>/<tspan font-style="italic">F</tspan><tspan font-size="6.5" dy="1.6">0</tspan></text>
<line x1="548.4" y1="749.2" x2="621.9" y2="749.2" stroke="#555" stroke-width="0.8"/>
<text x="583.65" y="750.2" font-size="12" text-anchor="middle" textLength="16.2" lengthAdjust="spacingAndGlyphs">***</text>
<line x1="548.4" y1="759.4" x2="598.8" y2="759.4" stroke="#555" stroke-width="0.8"/>
<text x="572.1" y="760.4" font-size="12" text-anchor="middle" textLength="16.2" lengthAdjust="spacingAndGlyphs">***</text>
<line x1="548.4" y1="770.2" x2="573.8" y2="770.2" stroke="#555" stroke-width="0.8"/>
<text x="560.6" y="771.2" font-size="12" text-anchor="middle" textLength="5.4" lengthAdjust="spacingAndGlyphs">*</text>
<g fill="#b6b6b6"><circle cx="550.36" cy="833.05" r="1.2"/><circle cx="550.08" cy="837.11" r="1.2"/><circle cx="550.28" cy="843.49" r="1.2"/><circle cx="550.33" cy="837.31" r="1.2"/><circle cx="550.34" cy="838.59" r="1.2"/><circle cx="550.35" cy="839.91" r="1.2"/><circle cx="550.16" cy="833.89" r="1.2"/><circle cx="550.29" cy="836.41" r="1.2"/><circle cx="550.23" cy="840.96" r="1.2"/><circle cx="550.08" cy="832.9" r="1.2"/><circle cx="550.29" cy="832.92" r="1.2"/><circle cx="550.12" cy="832.38" r="1.2"/><circle cx="550.35" cy="842.27" r="1.2"/><circle cx="550.17" cy="832.9" r="1.2"/><circle cx="550.05" cy="842.26" r="1.2"/><circle cx="550.1" cy="835.14" r="1.2"/><circle cx="550.24" cy="830.97" r="1.2"/><circle cx="550.28" cy="840.85" r="1.2"/><circle cx="550.42" cy="838.75" r="1.2"/><circle cx="550.21" cy="831.52" r="1.2"/><circle cx="550.3" cy="835.01" r="1.2"/><circle cx="550.44" cy="832.89" r="1.2"/><circle cx="550.13" cy="843.13" r="1.2"/><circle cx="550.1" cy="835.57" r="1.2"/><circle cx="549.99" cy="835.74" r="1.2"/><circle cx="550.21" cy="831.91" r="1.2"/><circle cx="550.28" cy="841.96" r="1.2"/><circle cx="550.05" cy="839.39" r="1.2"/><circle cx="550.02" cy="837.13" r="1.2"/><circle cx="550.38" cy="840.74" r="1.2"/><circle cx="550.3" cy="826.82" r="1.2"/><circle cx="549.96" cy="825.94" r="1.2"/><circle cx="550.34" cy="820.67" r="1.2"/></g>
<g fill="#b6b6b6"><circle cx="574.62" cy="843.07" r="1.2"/><circle cx="574.76" cy="820.47" r="1.2"/><circle cx="574.64" cy="835.71" r="1.2"/><circle cx="574.51" cy="833.59" r="1.2"/><circle cx="574.48" cy="818.04" r="1.2"/><circle cx="574.82" cy="832.73" r="1.2"/><circle cx="574.94" cy="833.37" r="1.2"/><circle cx="574.94" cy="837.25" r="1.2"/><circle cx="574.79" cy="820.78" r="1.2"/><circle cx="574.67" cy="820.85" r="1.2"/><circle cx="574.85" cy="822.33" r="1.2"/><circle cx="574.69" cy="830.34" r="1.2"/><circle cx="574.65" cy="825.53" r="1.2"/><circle cx="574.82" cy="841.31" r="1.2"/><circle cx="574.69" cy="836.73" r="1.2"/><circle cx="574.54" cy="823.54" r="1.2"/><circle cx="574.51" cy="842.94" r="1.2"/><circle cx="574.63" cy="828.49" r="1.2"/><circle cx="574.68" cy="836.97" r="1.2"/><circle cx="574.58" cy="819.88" r="1.2"/><circle cx="574.89" cy="833.05" r="1.2"/><circle cx="574.58" cy="827.91" r="1.2"/><circle cx="574.69" cy="831.41" r="1.2"/><circle cx="574.64" cy="839.88" r="1.2"/><circle cx="574.85" cy="835.72" r="1.2"/><circle cx="574.78" cy="835.27" r="1.2"/><circle cx="574.91" cy="818.78" r="1.2"/><circle cx="574.75" cy="833.93" r="1.2"/><circle cx="574.65" cy="835.35" r="1.2"/><circle cx="574.85" cy="831.07" r="1.2"/><circle cx="574.6" cy="819.65" r="1.2"/><circle cx="574.67" cy="843.34" r="1.2"/><circle cx="574.47" cy="842.05" r="1.2"/><circle cx="574.51" cy="823.8" r="1.2"/><circle cx="574.63" cy="825.21" r="1.2"/><circle cx="574.88" cy="819.61" r="1.2"/><circle cx="574.55" cy="841.91" r="1.2"/><circle cx="574.76" cy="819.38" r="1.2"/><circle cx="574.84" cy="832.75" r="1.2"/><circle cx="574.7" cy="822.79" r="1.2"/><circle cx="574.5" cy="831.56" r="1.2"/><circle cx="574.52" cy="834.28" r="1.2"/><circle cx="574.76" cy="813.65" r="1.2"/><circle cx="574.75" cy="811.89" r="1.2"/><circle cx="574.52" cy="803.11" r="1.2"/><circle cx="574.76" cy="800.48" r="1.2"/><circle cx="574.5" cy="797.84" r="1.2"/><circle cx="574.5" cy="779.41" r="1.2"/></g>
<g fill="#b6b6b6"><circle cx="599.38" cy="825.36" r="1.2"/><circle cx="599.46" cy="818.23" r="1.2"/><circle cx="599.21" cy="823.79" r="1.2"/><circle cx="599.19" cy="820.11" r="1.2"/><circle cx="599.61" cy="826.13" r="1.2"/><circle cx="599.6" cy="818" r="1.2"/><circle cx="599.5" cy="830.8" r="1.2"/><circle cx="599.22" cy="821.27" r="1.2"/><circle cx="599.6" cy="816.99" r="1.2"/><circle cx="599.54" cy="831.11" r="1.2"/><circle cx="599.29" cy="830.94" r="1.2"/><circle cx="599.18" cy="823.48" r="1.2"/><circle cx="599.64" cy="821.02" r="1.2"/><circle cx="599.62" cy="835.46" r="1.2"/><circle cx="599.58" cy="841.15" r="1.2"/><circle cx="599.63" cy="835.64" r="1.2"/><circle cx="599.61" cy="831.4" r="1.2"/><circle cx="599.19" cy="842.6" r="1.2"/><circle cx="599.47" cy="820.56" r="1.2"/><circle cx="599.17" cy="828.45" r="1.2"/><circle cx="599.34" cy="838.63" r="1.2"/><circle cx="599.65" cy="842.04" r="1.2"/><circle cx="599.62" cy="822" r="1.2"/><circle cx="599.32" cy="823.81" r="1.2"/><circle cx="599.52" cy="841.32" r="1.2"/><circle cx="599.42" cy="840.3" r="1.2"/><circle cx="599.4" cy="830.46" r="1.2"/><circle cx="599.19" cy="841.39" r="1.2"/><circle cx="599.17" cy="828.88" r="1.2"/><circle cx="599.23" cy="828.74" r="1.2"/><circle cx="599.23" cy="835.59" r="1.2"/><circle cx="599.34" cy="827.53" r="1.2"/><circle cx="599.26" cy="837.23" r="1.2"/><circle cx="599.61" cy="827.65" r="1.2"/><circle cx="599.23" cy="831.72" r="1.2"/><circle cx="599.27" cy="834.61" r="1.2"/><circle cx="599.54" cy="827.42" r="1.2"/><circle cx="599.24" cy="827.52" r="1.2"/><circle cx="599.34" cy="834.36" r="1.2"/><circle cx="599.35" cy="831.11" r="1.2"/><circle cx="599.43" cy="815.47" r="1.2"/><circle cx="599.51" cy="824.9" r="1.2"/><circle cx="599.55" cy="825.37" r="1.2"/><circle cx="599.48" cy="833.04" r="1.2"/><circle cx="599.23" cy="816.17" r="1.2"/><circle cx="599.34" cy="825.93" r="1.2"/><circle cx="599.17" cy="841.78" r="1.2"/><circle cx="599.21" cy="822.18" r="1.2"/><circle cx="599.2" cy="823.52" r="1.2"/><circle cx="599.17" cy="833.17" r="1.2"/><circle cx="599.42" cy="810.14" r="1.2"/><circle cx="599.54" cy="808.38" r="1.2"/><circle cx="599.26" cy="804.87" r="1.2"/><circle cx="599.43" cy="803.11" r="1.2"/><circle cx="599.61" cy="785.55" r="1.2"/><circle cx="599.3" cy="782.04" r="1.2"/><circle cx="599.39" cy="769.75" r="1.2"/></g>
<g fill="#b6b6b6"><circle cx="624.18" cy="819.34" r="1.2"/><circle cx="624.08" cy="837.87" r="1.2"/><circle cx="623.81" cy="839.49" r="1.2"/><circle cx="623.78" cy="810.69" r="1.2"/><circle cx="624.13" cy="812.81" r="1.2"/><circle cx="624.11" cy="820.95" r="1.2"/><circle cx="623.89" cy="821.78" r="1.2"/><circle cx="623.85" cy="828.71" r="1.2"/><circle cx="624.14" cy="814.83" r="1.2"/><circle cx="623.86" cy="817.22" r="1.2"/><circle cx="623.88" cy="823.74" r="1.2"/><circle cx="624.12" cy="817.12" r="1.2"/><circle cx="624.1" cy="810.3" r="1.2"/><circle cx="624.14" cy="820.68" r="1.2"/><circle cx="624.05" cy="840.37" r="1.2"/><circle cx="623.93" cy="842.41" r="1.2"/><circle cx="624.22" cy="839.59" r="1.2"/><circle cx="624.21" cy="842.57" r="1.2"/><circle cx="623.97" cy="811.87" r="1.2"/><circle cx="623.78" cy="815.73" r="1.2"/><circle cx="623.75" cy="838.85" r="1.2"/><circle cx="623.75" cy="841.23" r="1.2"/><circle cx="623.79" cy="815.86" r="1.2"/><circle cx="623.89" cy="823.79" r="1.2"/><circle cx="623.96" cy="839.08" r="1.2"/><circle cx="624.24" cy="837.43" r="1.2"/><circle cx="624.05" cy="830.69" r="1.2"/><circle cx="624.06" cy="824.7" r="1.2"/><circle cx="623.89" cy="827.47" r="1.2"/><circle cx="624.19" cy="838.94" r="1.2"/><circle cx="623.97" cy="837.08" r="1.2"/><circle cx="624.04" cy="816.53" r="1.2"/><circle cx="624.15" cy="811.87" r="1.2"/><circle cx="623.81" cy="826.37" r="1.2"/><circle cx="623.99" cy="823.73" r="1.2"/><circle cx="624.02" cy="814.75" r="1.2"/><circle cx="624.16" cy="820.34" r="1.2"/><circle cx="624.17" cy="827.8" r="1.2"/><circle cx="623.83" cy="813.49" r="1.2"/><circle cx="624.18" cy="812.83" r="1.2"/><circle cx="623.92" cy="814.97" r="1.2"/><circle cx="623.82" cy="835.1" r="1.2"/><circle cx="624.18" cy="831.12" r="1.2"/><circle cx="623.75" cy="831.39" r="1.2"/><circle cx="623.79" cy="833.33" r="1.2"/><circle cx="624.13" cy="822.73" r="1.2"/><circle cx="623.79" cy="812.58" r="1.2"/><circle cx="623.81" cy="830.81" r="1.2"/><circle cx="624.17" cy="813.12" r="1.2"/><circle cx="624.23" cy="826.16" r="1.2"/><circle cx="624.01" cy="806.62" r="1.2"/><circle cx="624.14" cy="803.11" r="1.2"/><circle cx="623.99" cy="799.6" r="1.2"/><circle cx="623.93" cy="797.84" r="1.2"/><circle cx="624.25" cy="795.21" r="1.2"/><circle cx="624.17" cy="788.19" r="1.2"/><circle cx="624.05" cy="778.53" r="1.2"/></g>
<path d="M550.2 837.71 574.7 829.98 599.4 825.59 624 825.06" fill="none" stroke="#111" stroke-width="1.1" stroke-linejoin="round"/></g>
<g id="o"><text stroke="#000" stroke-width="0.35" x="-0.3" y="884.5" font-size="16" font-weight="bold" fill="#000">o</text>
<text x="92.8" y="892.7" font-size="10" text-anchor="middle" textLength="36" lengthAdjust="spacingAndGlyphs">Control</text>
<text x="246.4" y="892.7" font-size="10" text-anchor="middle" textLength="54.4" lengthAdjust="spacingAndGlyphs">SeeDB-Live</text>
<g clip-path="url(#clO1)"><g filter="url(#gnO)">
<rect x="18.1" y="897.2" width="148.9" height="77.4" fill="url(#grO1)"/>
<ellipse cx="26" cy="925.5" rx="2.2" ry="4.5" fill="#f2f2f2" filter="url(#bl1)" transform="rotate(40 26 925.5)"/>
<ellipse cx="52" cy="929" rx="2" ry="5" fill="#999999" filter="url(#bl1)" transform="rotate(25 52 929)"/>
<ellipse cx="96" cy="938.5" rx="2" ry="5" fill="#a6a6a6" filter="url(#bl1)" transform="rotate(25 96 938.5)"/>
<ellipse cx="76" cy="934" rx="3" ry="4" fill="#4c4c4c" filter="url(#bl1)" transform="rotate(20 76 934)"/>
<ellipse cx="62" cy="922" rx="3" ry="5" fill="#404040" filter="url(#bl1)" transform="rotate(20 62 922)"/>
<ellipse cx="38" cy="921" rx="3" ry="5" fill="#404040" filter="url(#bl1)" transform="rotate(20 38 921)"/>
<ellipse cx="107" cy="942" rx="3" ry="4" fill="#404040" filter="url(#bl1)" transform="rotate(20 107 942)"/>
<ellipse cx="133" cy="944" rx="1.2" ry="2.5" fill="#bfbfbf" filter="url(#bl1)" transform="rotate(10 133 944)"/>
<ellipse cx="120" cy="920" rx="25" ry="10" fill="#1f1f1f" filter="url(#bl2)" transform="rotate(0 120 920)"/>
<ellipse cx="30" cy="915" rx="4" ry="8" fill="#333333" filter="url(#bl1)" transform="rotate(20 30 915)"/>
</g></g>
<g clip-path="url(#clO2)"><g filter="url(#gnO)">
<rect x="171.2" y="897.2" width="149.6" height="77.4" fill="url(#grO2)"/>
<polygon points="171.2,935 210,944 250,953 290,965 320.8,972 320.8,974.7 171.2,974.7" fill="#1d1d1d" filter="url(#bl2)"/>
<polygon points="171.2,952 215,958 260,968 300,974.7 171.2,974.7" fill="#333333" filter="url(#bl2)"/>
<ellipse cx="186" cy="912" rx="1.2" ry="9" fill="#cccccc" filter="url(#bl1)" transform="rotate(8 186 912)"/>
<ellipse cx="190" cy="923" rx="4" ry="4.5" fill="#8c8c8c" filter="url(#bl1)"/>
<ellipse cx="199" cy="919" rx="2" ry="3.5" fill="#b2b2b2" filter="url(#bl1)" transform="rotate(20 199 919)"/>
<ellipse cx="179" cy="926" rx="1.5" ry="3.5" fill="#bfbfbf" filter="url(#bl1)" transform="rotate(25 179 926)"/>
<ellipse cx="263.5" cy="934" rx="1.4" ry="5" fill="#f2f2f2" filter="url(#bl1)" transform="rotate(10 263.5 934)"/>
<ellipse cx="292" cy="940" rx="4" ry="4" fill="#8c8c8c" filter="url(#bl1)"/>
<ellipse cx="212" cy="926" rx="3" ry="4" fill="#808080" filter="url(#bl1)"/>
<ellipse cx="228" cy="928" rx="3" ry="4" fill="#808080" filter="url(#bl1)"/>
<ellipse cx="245" cy="930" rx="3" ry="4" fill="#737373" filter="url(#bl1)"/>
<ellipse cx="278" cy="934" rx="3" ry="4" fill="#737373" filter="url(#bl1)"/>
<ellipse cx="305" cy="943" rx="4" ry="4" fill="#666666" filter="url(#bl1)"/>
<ellipse cx="296" cy="951" rx="1.3" ry="2.5" fill="#cccccc" filter="url(#bl1)"/>
<ellipse cx="176" cy="938" rx="2" ry="2" fill="#616161" filter="url(#bl1)"/>
<ellipse cx="236" cy="967" rx="1.2" ry="2" fill="#666666" filter="url(#bl1)"/>
<ellipse cx="312" cy="915" rx="8" ry="12" fill="#787878" filter="url(#bl2)"/>
<ellipse cx="200" cy="905" rx="20" ry="6" fill="#7a7a7a" filter="url(#bl2)"/>
<ellipse cx="183" cy="921" rx="4" ry="4" fill="#424242" filter="url(#bl1)"/>
<ellipse cx="206" cy="926" rx="3" ry="3" fill="#404040" filter="url(#bl1)"/>
<ellipse cx="221" cy="929" rx="3" ry="3" fill="#404040" filter="url(#bl1)"/>
<ellipse cx="237" cy="932" rx="3" ry="3" fill="#404040" filter="url(#bl1)"/>
<ellipse cx="254" cy="936" rx="3" ry="3" fill="#383838" filter="url(#bl1)"/>
<ellipse cx="271" cy="940" rx="3" ry="3" fill="#383838" filter="url(#bl1)"/>
</g></g>
<line x1="33.6" y1="939.4" x2="33.6" y2="935.5" stroke="#f2e300" stroke-width="1"/>
<path d="M33.6 933 31.7 936.8 35.5 936.8Z" fill="#f2e300" stroke="none" stroke-width="0"/>
<text x="35.6" y="951.2" font-size="8.8" text-anchor="middle" fill="#f2e300">1</text>
<line x1="61.9" y1="941.4" x2="61.9" y2="937.5" stroke="#f2e300" stroke-width="1"/>
<path d="M61.9 935 60 938.8 63.8 938.8Z" fill="#f2e300" stroke="none" stroke-width="0"/>
<text x="61.9" y="953.2" font-size="8.8" text-anchor="middle" fill="#f2e300">2</text>
<line x1="85.5" y1="945.3" x2="85.5" y2="941.4" stroke="#f2e300" stroke-width="1"/>
<path d="M85.5 938.9 83.6 942.7 87.4 942.7Z" fill="#f2e300" stroke="none" stroke-width="0"/>
<text x="85.5" y="956.7" font-size="8.8" text-anchor="middle" fill="#f2e300">3</text>
<line x1="130.8" y1="953.1" x2="130.8" y2="949.2" stroke="#f2e300" stroke-width="1"/>
<path d="M130.8 946.7 128.9 950.5 132.7 950.5Z" fill="#f2e300" stroke="none" stroke-width="0"/>
<text x="130.8" y="964" font-size="8.8" text-anchor="middle" fill="#f2e300">4</text>
<line x1="190.3" y1="936.4" x2="190.3" y2="932.5" stroke="#f2e300" stroke-width="1"/>
<path d="M190.3 930 188.4 933.8 192.2 933.8Z" fill="#f2e300" stroke="none" stroke-width="0"/>
<text x="191.8" y="945.9" font-size="8.8" text-anchor="middle" fill="#f2e300">1</text>
<line x1="217.2" y1="938.8" x2="217.2" y2="934.9" stroke="#f2e300" stroke-width="1"/>
<path d="M217.2 932.4 215.3 936.2 219.1 936.2Z" fill="#f2e300" stroke="none" stroke-width="0"/>
<text x="219.2" y="950.2" font-size="8.8" text-anchor="middle" fill="#f2e300">2</text>
<line x1="244" y1="943.8" x2="244" y2="939.9" stroke="#f2e300" stroke-width="1"/>
<path d="M244 937.4 242.1 941.2 245.9 941.2Z" fill="#f2e300" stroke="none" stroke-width="0"/>
<text x="245.8" y="954.7" font-size="8.8" text-anchor="middle" fill="#f2e300">3</text>
<line x1="293.1" y1="954.9" x2="293.1" y2="951" stroke="#f2e300" stroke-width="1"/>
<path d="M293.1 948.5 291.2 952.3 295 952.3Z" fill="#f2e300" stroke="none" stroke-width="0"/>
<text x="294.5" y="965.5" font-size="8.8" text-anchor="middle" fill="#f2e300">4</text>
<rect x="19.9" y="976.6" width="18.9" height="3" fill="#000"/>
<text x="19.6" y="987.3" font-size="9" textLength="26" lengthAdjust="spacingAndGlyphs">50 µm</text>
<text x="18.4" y="999.3" font-size="10.3" textLength="166.5" lengthAdjust="spacingAndGlyphs">Thy1-GCaMP6f, OB mitral cells P13,</text>
<text x="18.4" y="1011.6" font-size="10.3" textLength="114" lengthAdjust="spacingAndGlyphs">confocal, depth 100 µm</text>
<text x="388.3" y="882.9" font-size="10" text-anchor="middle" textLength="35" lengthAdjust="spacingAndGlyphs">Control</text>
<text x="456.2" y="882.9" font-size="10" text-anchor="middle" textLength="53.6" lengthAdjust="spacingAndGlyphs">SeeDB-Live</text>
<text x="348.1" y="910.2" font-size="10" text-anchor="middle">1</text>
<text x="348.1" y="942.6" font-size="10" text-anchor="middle">2</text>
<text x="348.1" y="971.6" font-size="10" text-anchor="middle">3</text>
<text x="348.1" y="1002.1" font-size="10" text-anchor="middle">4</text>
<path d="M359.8 906.49 360.76 907.13 361.71 907.6 362.67 908.15 363.63 906.7 364.59 908.25 365.54 905.9 366.5 907.29 367.46 907.27 368.42 907.18 369.37 907.67 370.33 905.87 371.29 906.44 372.25 904.83 373.2 908.07 374.16 905.33 375.12 907.78 376.08 906.88 377.03 909.35 377.99 906.55 378.95 909.4 379.9 907.24 380.86 906.85 381.82 906.87 382.78 906.29 383.73 906.21 384.69 906.52 385.65 908.45 386.61 906.95 387.56 907.39 388.52 906.23 389.48 908.56 390.44 905.56 391.39 902.89 392.35 904.62 393.31 909.06 394.27 907.25 395.22 903.45 396.18 905.42 397.14 908.09 398.1 906.53 399.05 909.44 400.01 908.35 400.97 906.01 401.92 905.68 402.88 907.38 403.84 908.15 404.8 905.44 405.75 905.89 406.71 907.21 407.67 906.45 408.63 906.53 409.58 905.06 410.54 907.71 411.5 908.22 412.46 908.45 413.41 907.11 414.37 907.2 415.33 911.28 416.29 908.55 417.24 907.49 418.2 908.36" fill="none" stroke="#222" stroke-width="1.25" stroke-linejoin="round"/>
<path d="M359.8 936.03 360.76 936.56 361.71 936.02 362.67 936.98 363.63 936.97 364.59 938.85 365.54 938.97 366.5 936.62 367.46 939.29 368.42 936.27 369.37 937.51 370.33 937.42 371.29 938.25 372.25 937.56 373.2 937.81 374.16 937.19 375.12 937.26 376.08 937.73 377.03 937.27 377.99 936.15 378.95 937.08 379.9 936.25 380.86 936.96 381.82 938.78 382.78 935.46 383.73 936.7 384.69 935.48 385.65 936.19 386.61 938.25 387.56 936.18 388.52 936.85 389.48 939.08 390.44 937.41 391.39 937.91 392.35 935.68 393.31 936.11 394.27 939.48 395.22 937.55 396.18 936.43 397.14 937.52 398.1 938.6 399.05 936 400.01 939.72 400.97 935.47 401.92 935.76 402.88 936.9 403.84 935.39 404.8 939.44 405.75 937.91 406.71 937.03 407.67 937.88 408.63 937.57 409.58 937.36 410.54 938.04 411.5 936.43 412.46 935.51 413.41 936.81 414.37 938.38 415.33 938.3 416.29 937.86 417.24 937.13 418.2 937.02" fill="none" stroke="#222" stroke-width="1.25" stroke-linejoin="round"/>
<path d="M359.8 968.1 360.76 970.59 361.71 969.2 362.67 967.73 363.63 970.18 364.59 972.08 365.54 971.11 366.5 966.93 367.46 966.39 368.42 967.86 369.37 967.74 370.33 966.52 371.29 970.71 372.25 970.03 373.2 966.38 374.16 966.9 375.12 966.82 376.08 968.99 377.03 966.87 377.99 966.48 378.95 965.02 379.9 967.33 380.86 966.07 381.82 969.3 382.78 965.4 383.73 964.04 384.69 967.1 385.65 965.17 386.61 969.13 387.56 966.13 388.52 967.83 389.48 967.06 390.44 964.62 391.39 972.45 392.35 968.23 393.31 966.82 394.27 967.32 395.22 967.93 396.18 969.75 397.14 967.01 398.1 969.63 399.05 968.96 400.01 967.19 400.97 966.59 401.92 969.16 402.88 967.1 403.84 966.2 404.8 968.66 405.75 964.3 406.71 967.92 407.67 966.74 408.63 968.6 409.58 967.55 410.54 968.4 411.5 967.45 412.46 968.78 413.41 966.72 414.37 970.11 415.33 966.99 416.29 968.65 417.24 970.46 418.2 971.43" fill="none" stroke="#222" stroke-width="1.25" stroke-linejoin="round"/>
<path d="M359.8 993.96 360.76 994.66 361.71 996.57 362.67 996.39 363.63 995.6 364.59 997.48 365.54 995.12 366.5 997.36 367.46 996.25 368.42 997.94 369.37 996.2 370.33 995.45 371.29 995.42 372.25 996.26 373.2 999.36 374.16 997.19 375.12 996.45 376.08 995.15 377.03 996.5 377.99 995.36 378.95 995.9 379.9 996.91 380.86 994.45 381.82 995.18 382.78 995.94 383.73 995.15 384.69 993.62 385.65 995.66 386.61 997.07 387.56 994.77 388.52 998.3 389.48 995.61 390.44 994.35 391.39 995.2 392.35 995.43 393.31 996.76 394.27 996.89 395.22 995.46 396.18 997.2 397.14 993.31 398.1 995.64 399.05 993.95 400.01 993.89 400.97 995.33 401.92 994.05 402.88 994.87 403.84 995.13 404.8 995.56 405.75 995.98 406.71 994.93 407.67 995.66 408.63 997.3 409.58 995.17 410.54 995.68 411.5 997.55 412.46 994.98 413.41 996.77 414.37 996.96 415.33 994.87 416.29 998.61 417.24 992.38 418.2 997.06" fill="none" stroke="#222" stroke-width="1.25" stroke-linejoin="round"/>
<path d="M427.3 904.82 428.76 907.01 430.22 906.28 432.41 909.2 434.6 909.93 436.06 912.85 438.25 907.01 439.71 906.28 441.17 907.01 443.36 904.09 444.09 895.33 445.11 905.55 447.01 904.82 448.47 908.47 449.93 912.12 452.12 911.39 454.31 909.93 455.77 907.01 457.96 907.74 459.42 906.28 461.17 911.39 462.34 904.09 463.8 912.12 465.26 904.09 467.01 900.44 468.61 887.3 469.64 901.17 471.09 897.52 472.26 904.09 474.01 910.66 475.47 912.12 477.66 907.01 479.12 898.98 480.58 905.55 482.04 898.25 483.07 897.52 484.67 909.93" fill="none" stroke="#222" stroke-width="1.25" stroke-linejoin="round"/>
<path d="M427.3 939.85 429.49 936.2 430.95 937.66 433.14 930.36 434.6 925.99 436.06 934.01 437.52 925.26 438.98 932.55 440.44 937.66 442.63 927.45 444.09 925.99 445.55 934.74 447.01 930.36 448.47 939.12 449.93 939.85 451.39 930.36 452.85 936.2 455.04 929.64 456.93 920.15 458.25 935.47 460.15 938.39 461.61 930.36 463.07 940.58 464.53 931.09 465.99 939.12 467.45 929.64 469.64 941.31 471.09 942.04 473.28 931.09 474.74 941.31 476.93 931.82 478.39 941.31 479.85 936.2 481.31 939.12 483.07 938.39 484.67 939.85" fill="none" stroke="#222" stroke-width="1.25" stroke-linejoin="round"/>
<path d="M427.3 963.21 428.76 970.51 430.22 972.7 432.41 969.05 434.16 956.64 435.77 973.43 437.52 967.59 439.71 959.56 441.17 966.13 443.36 970.51 444.82 966.13 447.01 969.05 449.2 970.51 451.39 971.97 453.14 954.45 454.31 967.59 456.5 963.21 458.25 971.97 460.15 970.51 462.34 966.13 463.8 955.18 465.26 966.13 466.72 964.67 468.91 972.7 471.09 964.67 472.55 959.56 474.01 971.24 475.47 963.21 476.93 947.88 478.39 970.51 479.85 961.75 481.31 957.37 482.77 954.45 484.23 971.24" fill="none" stroke="#222" stroke-width="1.25" stroke-linejoin="round"/>
<path d="M427.3 996.79 428.76 993.14 430.22 997.52 431.68 994.6 433.43 995.33 435.33 991.68 436.79 993.87 438.25 998.98 440.44 992.41 441.9 989.49 443.36 996.06 445.11 987.3 446.28 996.79 448.47 998.25 449.93 995.33 451.39 1000.44 452.85 996.79 455.04 999.71 456.5 995.33 458.69 993.14 459.42 999.71 461.61 997.52 463.07 996.79 464.53 1000.44 465.99 994.6 468.18 996.79 470.36 997.52 471.82 995.33 473.28 993.14 474.74 1000.44 476.93 995.33 478.39 996.06 480.58 994.6 482.04 995.33 483.5 992.41 484.67 997.52" fill="none" stroke="#222" stroke-width="1.25" stroke-linejoin="round"/>
<path d="M475.2 1005.3 492.4 1005.3 492.4 994.6" fill="none" stroke="#222" stroke-width="0.9"/>
<text x="495.4" y="997.6" font-size="8.6">Δ<tspan font-style="italic">F</tspan>/<tspan font-style="italic">F</tspan><tspan font-size="6" dy="1.5">0</tspan></text>
<text x="497.4" y="1007.2" font-size="8.6" textLength="17.5" lengthAdjust="spacingAndGlyphs">50%</text>
<text x="476.9" y="1016.2" font-size="8.6" textLength="16.8" lengthAdjust="spacingAndGlyphs">20 s</text></g>
</svg>
</body></html>
